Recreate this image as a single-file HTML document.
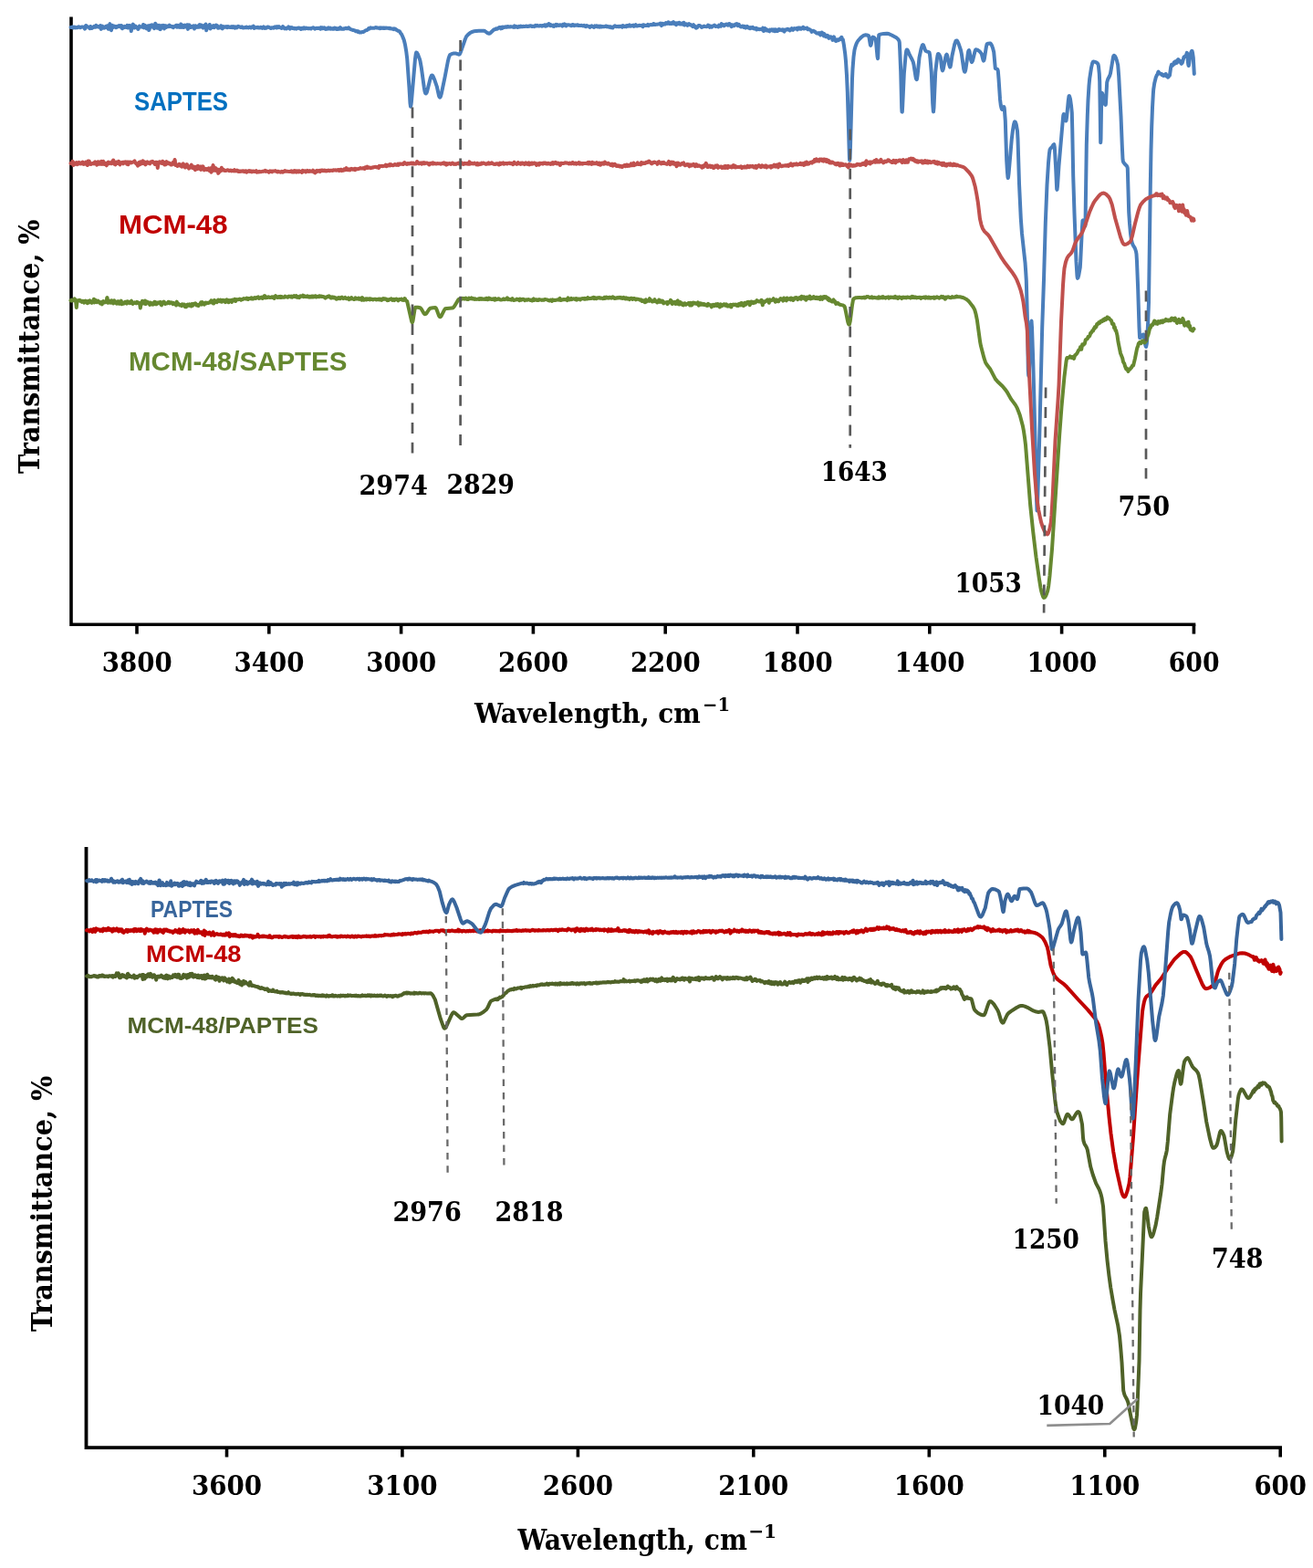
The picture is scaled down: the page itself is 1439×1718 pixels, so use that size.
<!DOCTYPE html>
<html><head><meta charset="utf-8"><title>FTIR spectra</title>
<style>html,body{margin:0;padding:0;background:#fff;}body{width:1439px;height:1718px;overflow:hidden;}svg{display:block;}</style>
</head><body>
<svg width="1439" height="1718" viewBox="0 0 1439 1718">
<g stroke="#000" fill="none" stroke-linecap="butt"><path d="M78,18.5 V684.3 H1310.3" stroke-width="3.6"/><line x1="150.0" y1="684.3" x2="150.0" y2="694.6" stroke-width="3.6"/><line x1="294.8" y1="684.3" x2="294.8" y2="694.6" stroke-width="3.6"/><line x1="439.6" y1="684.3" x2="439.6" y2="694.6" stroke-width="3.6"/><line x1="584.4" y1="684.3" x2="584.4" y2="694.6" stroke-width="3.6"/><line x1="729.2" y1="684.3" x2="729.2" y2="694.6" stroke-width="3.6"/><line x1="874.0" y1="684.3" x2="874.0" y2="694.6" stroke-width="3.6"/><line x1="1018.8" y1="684.3" x2="1018.8" y2="694.6" stroke-width="3.6"/><line x1="1163.6" y1="684.3" x2="1163.6" y2="694.6" stroke-width="3.6"/><line x1="1308.4" y1="684.3" x2="1308.4" y2="694.6" stroke-width="3.6"/><path d="M94.5,928 V1586.2 H1405" stroke-width="3.8"/><line x1="248.5" y1="1586.2" x2="248.5" y2="1596.5" stroke-width="3.6"/><line x1="440.9" y1="1586.2" x2="440.9" y2="1596.5" stroke-width="3.6"/><line x1="633.4" y1="1586.2" x2="633.4" y2="1596.5" stroke-width="3.6"/><line x1="825.8" y1="1586.2" x2="825.8" y2="1596.5" stroke-width="3.6"/><line x1="1018.3" y1="1586.2" x2="1018.3" y2="1596.5" stroke-width="3.6"/><line x1="1210.8" y1="1586.2" x2="1210.8" y2="1596.5" stroke-width="3.6"/><line x1="1403.2" y1="1586.2" x2="1403.2" y2="1596.5" stroke-width="3.6"/></g>
<g fill="none" stroke-width="4" stroke-linejoin="round" stroke-linecap="round"><path d="M77.5,30.0 78.8,30.1 79.5,29.4 80.2,30.5 81.0,30.3 81.8,29.6 82.5,30.4 83.0,30.5 84.5,29.9 85.2,30.2 86.0,29.4 86.5,29.7 87.2,29.6 88.0,30.3 90.0,29.4 91.5,29.8 92.2,29.8 92.8,31.3 93.0,31.6 93.5,30.7 94.2,28.1 94.5,28.1 95.0,28.5 95.8,29.6 96.5,29.5 97.0,29.9 97.8,29.9 98.5,31.2 99.2,29.0 100.0,29.7 100.5,30.9 100.8,30.9 101.2,30.2 102.0,30.2 103.2,28.7 103.5,28.7 104.0,29.6 104.2,29.8 104.8,29.8 105.5,27.8 106.2,29.2 107.0,29.5 107.5,29.1 107.8,29.1 108.2,29.6 108.8,29.8 110.0,28.0 110.2,28.6 110.8,31.9 111.0,31.6 111.5,29.8 112.2,28.7 113.0,29.8 113.5,29.4 113.8,29.7 114.2,30.7 115.0,29.6 115.8,29.5 116.2,28.8 116.5,28.8 117.0,30.0 117.2,29.8 117.8,28.2 118.5,31.7 119.0,31.8 119.2,31.5 120.0,27.2 120.5,26.2 122.0,33.2 122.8,28.1 123.2,27.8 123.5,28.1 124.0,30.0 124.2,29.9 124.8,28.5 125.0,28.4 126.2,29.1 126.8,30.0 127.0,30.1 127.5,29.1 127.8,29.1 128.2,29.8 129.8,28.3 130.2,28.9 130.5,28.9 131.0,28.2 131.8,29.4 132.5,27.9 133.0,27.9 133.2,28.2 133.8,30.8 134.0,31.3 134.8,29.4 135.2,29.4 136.0,30.2 136.8,28.9 137.5,29.3 138.0,29.9 138.8,29.9 139.5,27.8 140.2,30.5 141.0,28.5 141.5,28.0 142.2,28.1 143.0,28.9 143.8,34.1 144.5,28.0 145.0,29.4 145.2,29.0 145.8,26.6 146.5,29.4 147.2,30.6 148.0,29.0 148.5,28.6 150.0,30.4 150.8,30.5 151.2,31.9 151.5,31.9 152.0,30.1 152.8,28.6 153.5,29.2 155.0,29.5 155.8,29.4 156.2,29.6 157.0,27.0 157.8,30.4 158.5,28.4 159.0,27.8 159.8,30.1 160.5,31.3 161.2,30.1 162.0,29.4 162.5,28.2 163.2,33.1 163.5,32.7 164.8,27.7 165.5,28.4 166.0,29.3 166.8,27.3 167.5,29.6 168.2,28.9 169.0,31.1 169.5,30.8 170.2,25.8 171.0,29.4 171.8,27.3 172.5,30.8 173.0,29.8 173.2,29.7 173.8,30.1 174.5,27.8 175.2,32.0 175.8,32.2 176.0,31.6 176.5,28.4 176.8,28.2 177.2,29.7 178.0,28.3 178.8,29.2 179.2,27.9 179.5,28.1 180.0,31.4 180.2,31.1 180.8,28.2 181.0,28.0 181.5,28.4 182.2,29.9 183.0,28.5 183.5,28.9 184.2,28.5 185.0,29.1 185.8,27.7 186.5,28.7 187.0,29.0 187.8,28.8 188.5,29.4 189.2,29.0 189.8,30.1 190.0,30.2 190.5,29.1 190.8,28.9 191.2,29.1 192.0,28.3 192.8,28.5 193.2,27.7 193.5,27.8 194.0,29.7 194.2,29.5 194.8,27.8 195.0,27.8 195.5,28.2 196.2,29.8 196.8,29.9 197.5,28.9 198.2,26.5 199.0,29.9 199.8,29.5 200.2,27.8 200.5,27.7 201.0,30.0 201.2,30.0 201.8,28.4 202.5,27.7 203.2,29.4 204.0,29.1 204.5,29.5 205.2,27.2 206.0,31.9 206.8,28.3 207.2,27.4 207.5,27.5 208.0,29.8 208.2,29.9 208.8,28.9 209.5,29.8 210.2,28.9 211.5,29.6 212.2,28.3 213.0,31.5 213.8,28.6 214.2,28.2 214.5,28.3 215.0,29.3 215.8,29.9 217.2,28.3 217.8,29.8 218.0,29.8 218.5,27.3 218.8,27.0 220.0,29.4 220.8,27.5 221.5,29.4 222.0,29.3 222.8,30.6 223.5,28.1 224.2,28.6 224.8,29.6 225.0,29.3 225.5,26.4 225.8,27.6 226.2,33.3 227.0,28.4 227.8,28.5 228.2,30.2 228.5,30.5 229.0,29.5 229.8,27.0 230.5,31.4 231.2,30.5 232.0,28.8 232.5,28.6 233.2,30.0 234.0,28.1 234.8,30.1 235.5,29.6 236.8,27.5 237.5,29.2 238.0,28.5 238.2,28.4 239.0,30.8 239.5,29.9 239.8,29.9 240.2,30.5 241.0,29.8 241.5,30.2 242.2,28.2 242.5,28.4 243.0,30.7 243.2,31.1 243.5,31.0 243.8,31.3 244.2,30.5 244.5,29.4 245.0,29.0 245.2,29.5 245.8,29.8 247.0,29.7 247.8,29.0 248.5,29.4 249.0,30.2 249.2,30.1 249.8,29.1 250.5,29.2 252.0,29.9 252.5,29.8 253.2,30.0 254.0,29.2 254.8,30.1 255.5,29.8 256.0,29.1 256.2,29.3 256.8,30.3 257.5,30.7 258.2,29.4 259.5,30.3 260.2,29.2 261.0,28.8 262.2,29.4 263.0,29.5 263.8,30.0 264.5,29.9 265.2,29.3 266.5,30.6 268.0,30.3 268.8,29.9 269.5,30.2 270.0,29.6 270.2,29.6 270.8,30.2 271.5,29.9 272.2,30.4 273.0,30.0 273.5,29.6 273.8,29.6 275.0,30.5 275.8,29.5 276.5,29.7 277.0,29.7 277.8,28.6 278.5,31.0 280.5,30.2 281.2,30.1 282.0,30.2 282.8,29.8 283.5,30.5 284.8,30.6 285.5,29.9 286.2,30.2 286.8,30.1 287.5,30.9 287.8,30.8 289.0,29.4 289.8,30.5 290.5,31.0 291.0,30.6 291.8,30.7 292.5,30.3 293.2,29.4 294.5,29.7 296.8,31.0 297.5,30.3 298.0,30.7 299.5,30.1 300.2,30.7 301.5,29.3 303.0,30.5 303.8,29.2 304.5,30.3 305.0,30.3 305.8,29.2 307.0,30.2 308.0,30.4 308.5,31.0 308.8,31.0 309.2,30.7 310.0,29.0 310.8,30.2 312.0,31.4 312.8,30.8 313.5,30.8 314.2,31.4 315.0,30.6 315.5,30.5 316.2,29.4 317.8,31.6 318.5,30.2 319.0,30.6 319.8,30.1 321.0,31.1 321.2,31.1 322.0,30.8 322.5,31.4 322.8,31.4 324.0,31.0 324.8,31.6 326.2,30.7 327.5,30.5 328.2,31.1 328.8,30.8 329.0,30.9 329.5,31.9 329.8,32.0 330.2,31.8 331.0,30.8 331.8,30.9 332.2,31.5 332.5,31.5 333.0,30.3 333.2,30.2 334.5,31.4 335.2,30.6 336.0,30.8 336.5,30.7 337.2,31.3 338.0,31.1 339.5,31.3 340.0,31.1 340.8,31.5 341.5,30.8 343.0,30.3 343.8,30.5 345.0,31.6 347.0,30.7 348.5,31.0 350.0,30.6 351.2,31.6 352.0,30.2 352.8,31.1 353.2,30.5 353.5,30.4 354.0,31.2 354.2,31.2 355.5,30.3 356.8,31.9 357.0,32.0 357.5,31.4 358.2,31.8 358.5,31.6 359.8,30.4 360.5,31.5 361.8,30.7 362.5,31.7 363.8,31.2 364.0,31.2 364.5,31.6 365.2,31.0 366.0,31.6 366.8,30.5 367.5,31.5 368.0,30.9 368.8,31.9 369.5,31.5 370.2,31.9 371.0,31.0 371.5,31.1 372.2,31.7 373.0,30.2 374.5,31.8 375.0,31.7 375.8,31.8 376.5,31.3 377.2,31.7 378.0,31.1 379.2,30.7 380.0,31.3 381.2,31.3 382.0,30.3 382.2,30.3 383.5,31.7 384.2,32.2 385.0,32.2 387.0,33.1 387.8,32.9 388.5,33.5 389.2,33.4 390.0,34.3 391.2,34.1 392.0,34.9 392.8,34.4 394.0,35.5 394.8,35.2 395.5,35.6 396.8,35.1 398.5,34.9 401.0,33.2 401.8,33.1 403.0,32.5 404.0,31.2 404.5,31.5 404.8,31.5 406.0,30.3 407.2,30.7 410.0,30.8 411.8,30.0 413.0,30.6 413.8,30.4 414.5,30.8 415.8,30.6 416.5,31.2 417.2,30.4 418.0,30.9 419.2,30.5 420.0,30.9 420.8,30.6 421.5,31.0 422.0,30.5 422.8,30.8 423.5,30.6 424.2,30.8 425.5,30.7 426.2,31.2 427.0,30.7 427.8,30.9 428.5,31.5 430.5,31.4 431.2,32.1 432.0,31.3 433.2,31.7 434.0,32.6 434.8,32.8 436.0,33.7 437.5,34.1 438.2,34.7 439.0,36.2 440.2,37.7 441.2,40.0 442.8,44.1 444.0,49.0 445.2,56.1 446.2,64.2 448.5,96.3 449.5,113.2 450.0,116.7 450.5,115.0 451.0,110.7 455.0,64.5 455.8,58.9 456.2,57.5 457.0,57.9 458.0,59.6 460.0,65.0 460.5,66.8 461.8,74.1 464.8,96.0 465.5,99.8 466.2,102.1 466.5,102.4 467.0,102.4 467.5,101.7 468.0,100.5 471.8,85.3 472.8,82.9 473.0,82.6 473.5,82.5 474.0,82.8 474.8,83.9 476.5,88.1 478.8,94.8 481.0,104.8 481.5,106.2 482.0,106.7 482.2,106.6 482.8,105.9 483.8,102.6 487.8,83.4 490.8,67.5 491.8,63.4 492.8,60.7 493.2,60.0 494.8,59.2 497.5,58.4 499.2,58.4 502.8,59.7 503.5,59.6 503.8,59.4 504.8,57.4 509.8,43.0 511.2,39.8 513.0,37.9 515.2,36.1 517.2,35.0 519.2,34.3 524.8,33.8 530.2,33.7 531.5,34.2 534.5,36.3 536.0,36.7 536.8,36.5 537.8,35.8 541.5,32.3 542.8,32.3 543.5,31.4 544.0,31.3 545.0,31.8 545.5,31.2 547.0,30.0 548.2,30.1 549.0,31.3 549.2,31.1 549.8,29.9 550.5,30.8 551.2,29.5 552.5,30.1 554.0,29.3 555.2,29.8 556.0,28.9 556.2,28.9 556.8,29.4 558.2,29.3 559.0,29.6 559.8,29.1 561.8,29.6 562.5,29.3 563.0,29.8 563.8,28.4 564.5,29.7 565.2,28.8 566.5,29.2 567.2,30.0 568.8,28.9 569.5,29.5 570.0,29.0 570.8,28.6 571.5,29.2 572.2,29.0 572.8,29.3 573.0,29.2 573.5,28.8 575.0,29.1 577.0,28.5 577.8,29.1 578.5,28.8 579.2,28.9 580.0,28.6 580.5,28.7 581.2,28.2 582.8,28.9 583.2,28.7 584.0,28.9 584.8,28.7 585.5,29.1 586.8,27.8 587.0,27.8 587.5,28.5 587.8,28.5 589.0,27.9 589.8,28.6 591.0,28.5 591.8,28.1 593.2,28.3 593.8,28.8 594.0,28.8 594.5,28.0 594.8,27.9 596.0,28.2 596.8,27.3 597.2,27.3 597.5,27.5 598.0,28.7 598.2,28.6 598.8,27.3 599.5,28.2 600.2,27.1 600.8,27.4 601.0,27.3 601.5,26.1 601.8,26.2 602.2,27.3 603.0,28.2 603.8,27.2 604.2,27.9 604.5,28.0 605.0,27.9 605.8,28.6 606.5,27.5 607.2,28.9 609.2,26.9 610.0,28.3 610.8,27.0 612.0,27.9 612.8,28.1 613.5,27.2 614.2,27.5 615.0,27.5 616.2,28.6 617.0,26.7 617.8,27.8 618.2,26.6 618.5,26.4 619.0,27.3 619.2,27.4 619.8,27.0 620.5,28.4 621.2,27.6 622.0,27.2 623.2,27.3 624.0,27.6 624.8,27.5 626.0,28.2 626.8,28.0 627.5,27.1 628.2,27.0 629.5,28.1 630.2,27.6 631.0,27.5 631.8,27.8 632.5,27.2 633.0,27.3 633.8,28.1 635.0,27.8 636.0,28.1 636.5,27.9 637.2,27.8 638.0,27.9 638.8,28.5 640.2,27.8 641.5,29.0 642.0,29.2 642.2,29.2 643.0,28.0 643.5,28.5 644.2,28.4 645.0,28.9 645.8,28.9 646.2,29.8 646.5,29.9 647.2,28.8 648.5,28.2 649.2,29.0 650.0,29.2 650.5,29.8 650.8,29.9 651.2,29.7 652.0,28.4 652.8,29.1 653.5,28.4 654.0,28.3 654.8,29.3 655.0,29.4 655.5,29.3 656.2,28.7 656.8,29.6 657.0,29.7 657.8,28.7 658.2,28.6 659.0,29.5 660.5,29.1 661.8,29.3 663.0,29.1 664.0,28.4 664.5,28.6 665.2,29.4 666.0,28.9 667.2,29.7 668.2,29.1 668.8,29.2 669.5,30.1 670.2,29.5 671.5,30.5 672.2,29.5 673.8,28.2 675.2,29.2 676.5,28.9 677.2,29.2 678.0,28.7 678.5,29.3 678.8,29.3 679.5,28.8 681.2,28.7 682.0,29.7 682.2,29.4 682.8,28.1 684.2,29.2 685.5,28.5 686.2,29.3 687.0,28.0 687.8,28.0 688.2,28.8 688.5,28.8 689.0,27.9 689.8,27.3 690.5,28.7 691.8,28.6 692.5,28.1 693.2,28.3 694.0,27.7 694.8,28.9 695.5,28.4 696.0,28.4 696.8,27.2 697.5,28.4 698.2,28.6 701.0,27.7 701.8,28.1 703.8,27.6 704.5,29.3 705.2,27.2 706.0,27.6 706.5,27.4 707.2,28.0 708.0,28.1 709.2,27.8 710.0,26.9 710.2,27.1 710.8,28.2 711.5,27.5 712.2,27.2 713.5,27.0 714.2,27.3 715.0,27.2 715.8,26.8 716.2,26.0 716.5,26.0 717.2,26.9 718.5,27.0 719.2,26.7 720.0,26.8 720.8,26.5 722.8,26.4 723.5,25.7 724.0,25.5 724.2,25.6 725.0,28.1 726.2,25.8 727.8,26.6 728.5,26.0 729.0,26.5 729.8,25.1 730.5,25.7 731.2,25.9 731.8,25.7 732.5,24.3 732.8,24.5 733.2,25.8 733.5,25.9 734.8,26.1 735.2,25.3 735.5,25.2 736.2,26.0 736.8,25.9 737.5,24.4 738.0,24.1 738.2,24.2 739.0,25.9 739.5,25.1 739.8,25.2 740.2,26.3 741.0,27.2 741.8,25.2 742.5,25.2 743.8,26.1 744.5,24.8 745.2,26.6 746.5,26.3 747.2,25.5 748.0,26.6 748.5,26.7 748.8,26.5 749.2,24.7 749.5,24.7 750.0,27.3 750.2,27.5 750.8,26.3 751.5,26.8 752.2,26.4 753.5,27.8 754.2,26.7 755.0,26.1 755.8,27.1 756.5,26.8 757.8,27.9 758.5,28.1 759.2,29.1 759.8,27.3 760.0,27.1 760.5,28.5 760.8,28.7 761.2,28.4 762.0,29.8 762.8,30.7 763.2,29.6 763.5,29.4 764.0,30.2 764.2,30.0 764.8,28.8 765.5,28.0 766.2,28.2 767.0,28.1 768.2,29.0 769.0,30.0 770.2,29.5 771.0,28.9 771.8,28.6 772.5,29.1 774.8,29.2 775.2,28.9 776.0,27.5 776.8,28.0 777.2,28.2 778.0,29.8 778.2,29.7 778.8,28.5 780.2,29.7 781.5,28.3 782.2,28.3 783.0,27.7 784.2,29.0 784.5,29.1 785.2,28.7 786.5,28.7 787.2,29.5 788.0,27.7 790.0,28.8 790.8,26.1 791.5,27.4 792.0,27.6 792.8,27.0 793.5,28.3 794.8,27.4 795.8,26.4 797.0,26.7 797.8,27.7 798.5,26.4 799.0,25.9 799.2,25.9 800.5,26.9 801.2,28.6 801.8,29.1 802.0,28.9 802.5,27.3 802.8,27.2 803.5,28.1 804.0,28.4 804.5,28.3 804.8,28.2 806.0,26.5 806.8,27.1 807.5,26.2 808.2,27.9 808.8,28.2 809.0,28.1 809.5,26.8 809.8,26.8 810.2,27.9 811.0,28.4 811.8,29.3 812.5,29.5 813.0,29.3 813.8,28.4 814.0,28.4 814.5,28.7 815.2,29.9 816.0,28.9 816.5,29.3 817.2,30.6 818.8,28.8 820.0,30.4 820.8,30.0 821.5,31.1 822.0,31.2 822.2,31.2 823.0,30.0 824.2,30.6 825.0,29.9 825.8,31.2 826.5,31.0 827.0,31.6 827.2,31.6 827.8,30.9 828.5,30.8 829.2,32.5 830.0,31.4 830.2,31.7 830.8,31.7 832.0,32.2 833.5,32.0 834.8,32.0 835.5,32.8 836.2,30.6 837.0,34.0 838.2,30.9 838.5,30.9 839.0,33.0 839.2,33.1 839.8,32.0 840.5,33.4 841.2,32.9 842.0,33.7 843.2,34.3 844.0,32.5 844.8,33.1 845.2,33.3 845.5,33.2 846.0,32.4 846.2,32.5 846.8,33.7 847.0,33.7 847.5,33.6 848.2,32.4 849.0,34.3 849.5,34.3 850.2,32.3 851.0,33.7 851.8,34.1 852.2,33.9 853.0,32.5 853.8,32.0 854.5,32.9 855.2,32.6 856.0,32.9 856.5,32.8 857.2,33.2 858.0,32.3 858.5,32.5 858.8,32.7 859.2,34.4 859.5,34.6 860.0,32.8 860.2,32.6 860.8,33.0 861.0,32.9 862.2,32.4 862.8,31.7 863.0,31.7 863.5,32.5 863.8,32.5 864.2,32.1 864.5,32.3 865.8,33.5 866.2,32.4 866.5,32.1 867.0,32.4 867.8,31.1 869.2,32.8 870.0,31.5 870.5,31.1 871.2,31.6 873.2,31.0 873.5,31.2 874.0,32.5 874.2,32.2 874.8,30.5 876.2,30.5 876.8,31.5 877.0,31.6 877.5,30.7 877.8,30.8 878.2,31.6 879.0,30.8 879.8,30.5 880.2,29.7 880.5,29.8 881.0,31.3 881.2,31.5 881.8,31.2 884.0,30.8 884.5,30.5 885.2,32.3 886.8,32.0 887.2,32.1 888.0,32.9 888.8,33.1 889.5,34.9 890.2,34.4 891.0,33.7 891.5,33.7 892.2,34.6 893.0,34.4 893.8,35.5 895.0,36.4 895.8,36.5 896.5,36.2 897.2,37.0 898.0,36.2 898.5,36.8 899.2,38.5 900.0,37.6 900.8,35.5 901.5,36.8 902.0,36.7 902.8,39.4 903.5,37.1 905.0,40.1 905.5,39.8 906.2,40.1 907.0,38.9 907.8,40.3 908.2,41.8 908.5,41.9 909.0,40.3 909.2,40.2 909.8,40.6 910.5,40.3 911.8,41.5 912.5,43.9 912.8,43.8 913.2,41.8 914.0,40.4 914.8,43.4 915.5,44.1 916.0,44.9 916.2,45.0 916.8,44.6 917.5,43.4 918.2,44.2 918.8,44.3 920.2,42.6 921.0,43.1 922.2,40.9 922.5,41.0 923.0,42.9 923.2,43.2 923.8,43.2 925.0,49.9 926.2,58.7 927.0,67.0 928.0,82.8 928.8,100.9 930.8,169.3 931.0,174.5 931.2,175.8 931.5,173.3 932.0,160.3 934.0,86.2 934.5,75.5 935.5,62.3 936.5,54.7 937.5,51.0 938.5,48.2 939.5,46.0 940.5,44.5 942.5,42.2 944.5,40.3 946.5,38.9 948.2,38.3 950.2,38.5 952.0,39.1 952.5,41.0 953.8,48.8 954.0,49.6 954.2,49.8 954.8,48.5 956.2,40.9 956.5,40.6 957.5,40.9 958.2,41.4 959.2,42.6 959.8,43.7 960.0,45.4 961.5,61.6 962.0,64.2 962.2,63.2 963.0,42.4 963.2,38.5 963.5,38.2 965.8,37.4 968.5,36.9 972.0,36.8 974.0,37.1 977.2,38.5 982.8,41.6 984.0,42.7 985.0,44.2 985.5,45.2 985.8,46.7 986.2,54.4 987.2,78.6 988.2,118.1 988.5,122.6 988.8,122.7 989.2,116.0 990.8,80.9 992.5,61.3 993.2,56.0 993.8,54.4 994.2,54.4 995.0,55.6 996.8,60.0 999.5,65.0 1000.8,68.0 1001.5,71.1 1003.5,84.0 1004.0,86.2 1004.5,87.2 1004.8,87.1 1005.0,86.3 1005.5,83.0 1007.5,63.2 1009.5,53.6 1010.8,49.7 1011.5,49.0 1012.0,49.4 1013.8,54.3 1014.5,55.8 1015.5,56.3 1017.5,56.9 1018.5,57.5 1019.0,59.8 1019.5,64.2 1020.8,79.5 1022.2,113.6 1022.8,121.3 1023.0,122.4 1023.5,118.0 1025.2,79.3 1026.8,65.5 1027.5,60.8 1028.0,59.2 1028.2,58.9 1028.5,58.9 1029.2,59.6 1030.2,61.4 1030.8,62.9 1032.2,74.8 1032.8,77.1 1033.0,77.3 1033.2,77.0 1033.8,75.7 1036.2,62.9 1037.0,60.3 1037.5,59.7 1037.8,59.9 1038.2,61.1 1040.2,70.9 1040.8,72.7 1041.2,73.5 1041.5,73.3 1042.0,71.3 1043.5,61.0 1046.2,48.5 1047.5,45.0 1048.0,44.5 1048.8,44.6 1049.5,45.5 1050.5,47.6 1053.0,55.0 1053.8,58.8 1056.2,75.6 1057.0,78.4 1057.2,78.7 1057.5,78.8 1058.0,77.6 1058.5,75.2 1060.8,59.0 1061.2,56.4 1061.8,55.2 1062.0,55.1 1062.5,56.4 1064.2,66.2 1064.8,67.9 1065.0,68.1 1065.5,67.6 1066.0,66.4 1068.5,56.3 1069.0,54.9 1069.5,54.3 1071.0,54.6 1072.5,55.4 1074.0,56.8 1075.8,59.0 1077.5,65.8 1078.0,66.6 1078.5,65.8 1079.0,63.5 1080.8,51.9 1081.5,48.6 1081.8,48.2 1083.2,47.7 1084.8,47.5 1085.5,47.6 1086.2,48.4 1087.2,50.3 1088.2,53.2 1089.2,56.9 1090.8,74.9 1091.2,75.2 1093.2,75.8 1093.8,77.6 1094.5,86.0 1096.0,108.7 1096.8,115.2 1097.5,118.4 1098.0,119.7 1098.2,120.0 1098.8,119.6 1099.8,117.6 1100.2,117.0 1100.5,117.4 1100.8,119.1 1101.8,132.5 1103.2,175.8 1104.0,188.9 1104.5,194.4 1104.8,195.0 1105.0,194.3 1105.5,190.5 1108.8,152.2 1110.0,142.6 1111.0,136.6 1111.8,133.8 1112.2,133.3 1112.8,133.7 1113.8,136.5 1115.0,143.3 1115.5,152.3 1117.0,201.3 1118.8,239.3 1120.0,255.9 1123.5,287.7 1124.2,297.5 1124.8,307.4 1126.0,351.3 1126.8,405.8 1127.2,411.2 1127.5,412.0 1127.8,410.4 1130.0,355.4 1130.2,352.1 1130.5,351.7 1131.0,358.9 1132.2,393.9 1135.0,500.0 1136.0,546.4 1136.5,559.5 1136.8,559.2 1137.0,554.6 1139.0,487.7 1142.2,358.6 1144.0,306.6 1145.8,244.3 1147.5,202.3 1149.0,178.7 1149.8,169.6 1150.5,164.2 1151.2,162.8 1152.8,161.3 1154.5,158.6 1155.2,158.1 1155.8,161.3 1156.2,168.2 1157.2,185.4 1158.0,203.5 1158.2,207.2 1158.5,207.8 1159.0,203.9 1160.5,181.4 1165.2,127.1 1165.5,125.7 1165.8,125.0 1166.0,125.1 1166.5,126.4 1167.8,131.6 1168.2,132.5 1168.5,132.2 1169.2,127.3 1170.8,110.2 1171.5,105.3 1171.8,105.0 1172.2,105.7 1173.0,108.6 1174.0,115.8 1174.8,123.7 1175.2,140.2 1176.2,192.9 1177.5,233.8 1179.5,286.7 1180.5,302.5 1180.8,304.5 1181.0,304.8 1181.5,304.2 1182.2,301.8 1183.8,293.0 1184.2,285.9 1186.0,248.7 1186.5,241.6 1186.8,241.4 1187.2,242.2 1189.0,247.4 1189.2,247.7 1189.5,246.4 1190.8,158.8 1191.8,126.8 1192.5,109.5 1193.5,93.6 1194.2,86.3 1196.0,74.4 1197.2,69.1 1197.8,67.9 1198.2,67.5 1200.5,67.9 1201.8,68.6 1202.8,69.4 1203.5,70.4 1204.0,72.9 1204.8,80.9 1205.2,89.1 1206.2,156.3 1206.5,152.6 1207.2,107.9 1207.5,101.7 1208.0,102.2 1208.5,103.6 1210.8,113.3 1211.2,114.6 1211.5,114.9 1211.8,114.9 1212.0,112.9 1213.2,90.3 1214.2,86.8 1216.2,83.0 1217.0,80.5 1220.0,62.5 1220.5,61.1 1220.8,60.8 1221.2,60.9 1221.8,61.3 1222.8,63.0 1224.0,66.4 1225.2,71.4 1226.2,83.6 1228.5,127.4 1229.8,160.1 1230.5,174.5 1230.8,176.5 1231.2,177.7 1233.0,180.0 1234.8,181.7 1235.5,183.1 1235.8,184.5 1237.2,232.5 1238.0,244.7 1239.0,255.7 1239.8,261.6 1240.8,266.3 1241.8,268.7 1243.5,271.4 1244.2,273.0 1245.0,275.5 1245.5,278.3 1246.0,286.3 1247.2,316.9 1248.5,358.6 1249.0,369.1 1249.2,370.2 1249.8,370.0 1252.2,366.8 1252.8,366.4 1253.2,366.4 1254.0,369.4 1255.2,377.7 1255.8,379.7 1256.0,380.0 1256.2,379.6 1256.8,376.7 1257.5,367.2 1258.2,352.1 1259.0,331.1 1260.8,202.7 1261.5,164.2 1262.2,138.9 1263.0,118.1 1263.8,103.4 1264.2,97.9 1265.2,91.3 1266.8,84.8 1267.8,82.4 1268.8,81.2 1269.2,79.1 1269.5,78.7 1270.0,79.8 1271.0,80.1 1271.5,80.7 1272.2,81.1 1272.8,81.0 1273.5,82.2 1273.8,82.2 1274.2,81.7 1275.0,83.0 1276.2,82.8 1277.0,81.5 1277.8,81.0 1278.5,83.5 1279.0,82.9 1279.2,82.9 1280.0,84.7 1280.5,84.3 1281.2,82.8 1281.5,83.0 1281.8,82.9 1282.0,82.3 1283.2,73.6 1284.0,70.8 1284.2,70.8 1284.8,72.0 1285.5,70.8 1286.0,70.8 1286.2,70.6 1286.8,68.4 1287.0,68.1 1287.5,69.8 1287.8,69.5 1288.2,67.2 1288.5,67.3 1289.5,68.9 1289.8,68.9 1290.5,65.8 1291.2,65.1 1291.8,65.3 1292.5,67.5 1293.2,67.8 1293.8,66.9 1294.0,67.1 1294.5,69.5 1294.8,69.8 1295.8,68.7 1296.0,68.0 1297.5,62.5 1298.0,62.6 1298.8,61.6 1299.5,62.0 1300.8,57.9 1301.0,58.0 1302.2,70.1 1302.5,71.6 1302.8,72.0 1303.2,69.7 1304.5,60.0 1305.5,57.0 1306.2,55.8 1306.5,55.9 1307.0,57.7 1307.8,63.4 1308.8,81.0" stroke="#4a7ebb"/><path d="M77.5,179.0 78.8,178.7 79.5,176.9 80.2,181.0 80.5,181.0 81.0,180.4 81.8,178.6 82.5,179.8 83.8,178.2 84.5,180.1 85.2,178.5 86.0,178.3 86.5,177.9 87.2,179.3 88.0,178.7 88.8,179.4 89.2,178.3 89.5,178.1 90.0,178.8 90.2,178.7 90.8,177.7 91.5,179.9 92.2,179.0 93.0,179.6 93.5,179.3 94.2,177.5 95.5,180.9 95.8,181.0 96.5,176.5 97.0,176.4 97.8,176.7 98.5,179.7 99.2,178.9 100.0,180.0 101.2,178.9 102.0,179.0 102.8,178.5 103.2,179.4 103.5,179.3 104.0,177.5 104.2,177.3 105.5,178.9 106.2,180.7 107.0,177.5 107.5,177.2 108.2,177.7 109.0,179.8 109.8,178.4 110.2,179.8 110.5,179.6 111.0,176.7 111.2,176.9 111.8,179.7 112.0,179.9 112.5,179.8 113.2,176.8 114.5,179.9 114.8,179.7 115.2,178.7 116.0,179.8 116.8,181.3 117.5,178.7 118.8,177.5 119.5,179.3 120.2,178.2 121.5,178.3 122.2,179.2 123.0,177.0 123.8,176.3 124.2,175.5 124.5,175.9 125.0,179.3 125.2,179.7 125.8,178.6 126.5,180.4 127.2,178.3 127.8,177.6 128.0,177.7 128.5,178.8 128.8,178.9 129.2,178.4 130.0,176.8 130.8,177.5 131.2,180.0 131.5,180.4 132.0,179.1 132.2,178.9 132.8,178.9 134.0,177.7 134.2,177.7 134.8,179.1 135.0,179.4 136.2,177.5 137.0,178.2 137.8,177.3 139.0,179.7 139.8,177.5 140.5,180.3 141.2,177.6 141.8,178.4 142.0,178.4 142.5,177.5 142.8,177.5 143.2,178.1 144.0,178.5 145.2,177.6 146.8,177.3 147.5,176.4 148.2,178.1 149.0,179.0 149.5,179.5 150.2,179.3 151.0,181.6 151.8,178.7 152.2,178.0 152.5,178.2 153.0,180.4 153.2,180.0 153.8,177.3 154.5,179.7 155.2,177.3 155.8,178.5 156.0,178.4 156.5,176.3 156.8,176.6 157.2,179.3 157.5,179.2 158.5,177.4 158.8,177.4 159.5,180.4 161.5,177.4 162.2,178.3 162.8,178.2 163.0,178.4 163.5,179.2 164.2,179.4 165.0,177.5 166.2,177.7 167.0,176.8 167.2,176.9 168.5,178.3 169.8,179.9 170.0,179.7 170.5,177.7 170.8,177.9 171.2,179.8 172.0,177.8 172.8,183.9 173.5,178.4 174.0,179.0 174.8,177.3 175.5,177.4 176.2,178.6 176.8,178.1 177.0,178.1 177.5,178.8 178.2,176.7 179.0,179.4 179.8,177.7 180.2,180.2 180.5,180.5 181.0,178.7 181.2,178.8 181.8,180.1 182.5,177.1 183.2,179.4 184.0,178.0 185.2,179.2 186.0,178.9 187.2,180.4 188.0,180.5 188.8,179.7 189.5,178.1 190.8,179.7 191.0,179.0 191.5,175.0 191.8,175.7 192.2,180.8 192.5,181.0 193.0,180.2 193.5,180.2 193.8,180.4 194.5,181.9 195.8,181.3 196.5,179.8 197.2,181.6 197.8,181.7 198.0,181.5 198.5,180.5 198.8,180.8 199.2,182.7 199.5,182.7 200.0,182.3 200.8,179.4 201.2,181.4 201.5,181.8 202.0,180.6 202.2,181.0 202.8,183.3 203.0,183.5 203.5,183.2 204.2,180.8 204.8,180.0 205.0,180.2 205.5,182.2 205.8,182.5 206.2,182.2 207.0,184.6 208.2,182.7 208.5,182.6 209.0,183.5 209.8,180.6 210.5,183.5 211.2,184.2 212.0,183.0 212.5,182.5 213.2,184.9 214.0,186.1 215.2,182.7 215.5,182.8 216.0,185.3 216.2,184.8 216.8,181.8 217.5,184.7 218.2,183.5 218.8,185.0 219.0,185.0 219.5,182.4 219.8,182.8 220.2,185.9 220.5,185.8 221.0,184.9 221.8,182.4 222.2,182.2 222.5,182.5 223.8,186.4 224.5,185.1 225.2,185.1 225.8,184.9 226.0,185.0 226.5,186.0 226.8,186.1 227.2,185.8 228.0,185.7 228.8,184.4 229.5,187.1 230.0,187.3 230.8,184.2 231.5,188.7 232.8,185.5 233.5,181.1 233.8,181.8 234.2,186.3 234.5,186.7 235.0,186.7 236.2,184.0 236.5,184.3 237.0,187.0 237.2,187.1 237.8,185.5 238.5,185.6 239.2,189.9 240.0,188.8 241.2,185.9 242.0,187.3 242.8,183.7 243.5,186.5 244.0,185.9 245.0,185.7 245.2,186.6 246.5,187.0 247.8,186.9 249.2,186.3 250.0,186.5 250.5,186.4 251.2,187.3 252.8,186.5 253.5,187.3 254.2,186.8 256.2,187.4 257.0,186.2 258.2,187.5 259.0,187.2 259.8,186.5 261.0,188.0 261.2,188.0 261.8,187.3 262.5,187.9 263.0,187.9 264.0,187.4 264.8,187.8 265.2,187.5 266.5,187.2 266.8,187.2 267.5,188.1 268.0,187.6 269.5,187.2 270.2,188.7 273.0,187.1 273.8,188.0 274.5,187.9 275.0,187.3 275.8,188.4 276.0,188.4 276.5,188.3 277.2,187.4 279.2,188.0 280.0,187.8 280.8,187.2 281.5,188.6 282.0,188.1 282.8,188.5 283.5,188.5 284.2,187.8 285.5,188.2 286.2,188.3 287.5,187.7 288.5,187.9 289.0,187.6 289.8,187.6 290.5,186.9 291.2,187.9 292.0,187.4 294.0,188.1 294.8,188.8 296.0,187.3 296.8,187.9 297.5,187.6 298.2,188.3 299.0,187.6 301.0,187.6 301.8,187.0 303.8,188.5 304.5,187.8 305.0,187.7 306.0,188.2 306.5,188.2 307.2,188.7 308.8,187.9 309.5,188.6 310.0,188.7 310.8,187.7 311.5,188.0 312.2,187.1 313.0,187.7 313.5,187.5 314.2,187.8 315.0,187.7 317.2,188.1 319.2,187.3 320.0,188.5 320.5,188.6 321.2,187.7 322.0,188.5 322.8,187.1 323.2,187.1 324.0,187.7 324.8,188.6 325.5,187.4 326.2,187.6 326.8,188.4 327.0,188.4 327.5,187.2 327.8,187.2 328.2,188.1 328.5,188.2 329.8,187.8 330.2,187.9 331.0,189.0 331.8,186.8 332.5,187.7 333.2,187.7 334.5,187.2 335.2,188.5 336.0,187.9 336.8,186.9 338.2,187.9 338.8,187.9 339.5,187.0 340.2,187.6 342.2,187.8 343.0,186.7 343.8,188.4 344.2,187.8 344.5,187.9 345.0,189.2 345.2,189.4 345.8,188.9 346.5,187.4 347.2,186.9 348.0,187.8 348.5,187.4 350.0,186.8 350.8,188.1 351.5,187.0 352.0,186.6 352.8,186.9 353.5,186.6 354.2,187.2 355.5,186.6 356.2,187.3 357.0,186.7 357.8,187.4 358.2,187.5 359.0,186.9 359.8,186.6 361.2,187.3 362.0,186.8 363.2,186.7 364.8,186.9 365.5,186.3 366.8,186.6 367.5,186.2 368.2,186.7 369.0,186.7 371.0,186.0 371.8,187.2 373.2,185.7 373.8,185.8 374.5,187.1 375.2,186.9 376.0,186.3 376.5,186.6 377.2,185.4 378.0,186.0 378.5,186.2 378.8,186.1 379.2,184.4 379.5,184.1 380.2,185.6 380.8,186.1 381.5,186.3 382.2,185.4 383.5,186.3 384.2,185.2 385.0,184.8 385.8,185.4 386.5,185.3 387.0,185.8 387.2,185.8 388.5,184.8 389.2,186.2 390.0,184.9 390.5,185.2 391.2,185.3 392.0,185.3 392.8,184.9 393.5,185.0 394.8,184.0 395.5,184.5 397.5,184.5 398.2,184.1 399.0,184.9 399.5,185.0 399.8,184.9 400.5,183.2 401.0,183.9 401.2,184.0 401.8,183.7 402.5,182.6 403.2,184.0 404.0,183.5 405.2,183.4 406.0,184.2 406.8,184.1 407.5,183.6 408.0,183.7 408.8,183.3 409.5,183.4 410.2,182.9 411.0,183.1 411.5,182.8 413.0,183.4 413.8,183.1 415.0,184.0 415.8,181.8 416.5,182.6 417.2,182.2 418.0,182.1 418.5,181.7 419.2,182.2 419.5,182.2 420.8,181.8 421.5,181.8 422.0,181.6 422.8,180.7 423.5,182.2 424.8,181.1 425.0,181.1 425.5,181.5 425.8,181.4 427.0,180.1 427.8,181.4 428.5,180.2 430.5,181.3 431.2,181.1 432.8,180.0 433.2,180.1 434.0,180.7 434.8,180.9 436.0,179.7 436.8,180.9 437.5,179.6 438.8,179.5 439.5,179.8 440.2,179.6 441.8,180.0 442.2,179.6 443.0,178.3 443.2,178.1 443.8,178.3 444.5,179.3 445.2,179.2 445.8,179.9 446.0,180.0 446.8,179.0 447.2,179.0 448.0,179.5 448.8,179.5 449.5,178.9 450.0,179.2 450.8,178.5 451.0,178.5 451.5,178.5 452.2,179.5 452.8,178.6 453.0,178.5 453.8,179.4 455.8,179.5 456.2,179.3 456.5,178.9 457.0,177.0 457.2,177.1 457.8,178.4 458.5,178.7 459.2,179.4 460.0,178.5 461.2,178.8 462.0,179.7 462.8,178.3 463.5,178.5 464.0,179.2 464.2,179.1 464.8,178.1 465.5,179.2 466.8,178.4 467.0,178.4 467.5,178.8 468.2,178.6 469.0,179.2 469.8,179.4 470.2,180.4 470.5,180.5 471.2,179.1 471.8,179.2 472.5,178.8 473.8,179.6 474.0,179.5 474.5,178.4 474.8,178.5 475.2,179.4 476.0,178.9 478.0,179.6 479.5,179.0 480.2,179.3 481.8,179.2 483.0,179.7 483.8,179.3 484.5,179.2 485.0,178.7 485.8,179.1 486.5,178.3 487.2,179.6 487.8,179.0 488.0,178.9 489.2,180.7 490.0,179.1 490.8,179.9 492.0,179.1 492.8,178.9 493.5,179.6 494.2,179.9 495.8,178.6 497.0,179.2 497.8,179.9 498.5,179.4 499.0,179.5 499.8,179.9 500.5,179.2 501.8,179.2 502.5,178.5 503.2,179.5 504.5,179.7 504.8,179.7 505.5,178.1 506.8,179.7 507.5,179.5 508.2,179.9 509.0,178.9 509.5,179.3 510.2,179.0 511.0,179.5 511.8,179.1 512.5,179.6 513.2,179.8 513.8,179.6 514.5,177.3 515.2,179.7 516.0,179.4 516.8,178.8 517.2,178.8 518.8,179.5 520.0,178.6 520.8,179.4 521.5,179.4 522.2,180.4 522.8,179.0 523.0,178.9 523.5,180.3 523.8,180.5 525.0,179.4 525.8,180.1 526.5,179.4 527.0,179.7 527.8,178.6 528.5,179.3 529.2,178.7 530.0,178.6 530.5,179.0 531.2,179.0 532.0,179.6 532.8,179.9 533.5,179.2 534.8,179.4 535.5,178.4 536.2,179.4 537.5,179.2 539.0,178.3 539.8,179.1 541.0,179.8 542.5,180.0 543.2,179.5 544.0,179.7 544.5,179.2 544.8,179.2 546.0,179.7 546.8,180.5 548.0,178.7 548.8,179.8 549.5,178.8 550.2,179.2 550.8,179.1 551.5,178.4 552.2,179.8 553.0,179.5 553.8,178.9 554.5,179.2 555.0,179.0 555.8,179.5 556.5,179.0 558.0,178.6 559.2,179.3 560.0,178.7 561.2,179.4 562.0,180.2 562.2,180.2 562.8,179.7 563.5,177.7 564.2,178.9 565.0,179.0 566.2,179.9 567.0,179.6 567.8,178.1 568.5,179.3 569.8,179.4 570.5,179.9 571.2,178.7 571.8,179.5 572.0,179.5 572.5,178.5 572.8,178.5 573.2,179.1 574.0,179.4 574.8,180.2 575.5,178.7 576.0,178.4 576.8,179.4 577.5,178.8 578.2,179.9 579.0,178.7 579.5,178.3 580.2,180.4 581.0,179.2 581.8,179.6 582.2,178.7 582.5,178.6 583.0,179.7 583.2,179.7 583.8,178.9 584.5,179.5 585.2,178.6 585.8,178.4 587.2,179.2 588.0,180.9 588.8,179.3 590.0,179.5 590.8,180.6 591.5,178.7 592.2,179.7 593.0,179.1 593.5,179.2 594.2,178.9 595.0,179.7 595.8,178.5 596.2,178.5 597.0,178.9 597.8,178.6 598.5,179.5 599.0,179.5 600.0,178.8 600.5,179.4 601.2,178.8 601.5,178.9 602.8,179.2 603.2,179.8 603.5,179.9 604.2,179.0 605.5,178.1 606.2,179.6 607.0,178.3 607.5,178.8 608.2,178.9 609.0,177.8 609.8,178.9 610.5,179.5 611.0,179.4 611.8,178.7 612.5,179.4 613.2,179.5 613.8,180.9 614.0,180.9 614.5,179.1 614.8,178.7 616.0,179.1 617.5,179.1 618.8,178.7 619.5,178.2 620.2,178.7 621.0,178.4 621.5,178.5 623.5,179.4 623.8,179.4 624.5,178.6 625.0,179.1 625.8,179.4 626.5,179.0 627.2,178.2 627.8,178.0 628.8,179.4 629.5,179.4 630.8,178.6 631.5,179.7 632.0,179.6 632.8,179.0 633.5,178.9 634.2,178.2 634.8,179.4 635.0,179.6 635.5,178.4 635.8,178.4 636.2,179.3 637.0,179.4 637.8,179.1 638.2,179.6 638.5,179.7 639.0,179.0 639.2,178.9 640.0,179.1 640.2,179.0 641.5,178.9 643.5,179.3 644.2,178.0 644.8,179.4 645.0,179.5 645.5,177.9 645.8,178.0 646.2,179.3 647.0,178.4 647.8,179.5 648.2,179.8 648.5,179.5 649.0,177.7 649.2,177.8 649.8,179.4 650.0,179.4 651.2,178.6 651.8,179.2 652.0,179.2 652.5,178.7 653.2,179.1 654.0,178.1 654.8,179.7 655.5,180.0 656.0,179.7 656.8,178.5 657.5,180.6 658.0,180.7 658.2,180.6 659.0,178.9 659.5,178.7 660.2,178.6 661.0,179.6 661.8,179.8 663.0,177.5 663.8,179.3 664.5,179.2 665.8,179.8 666.0,179.7 666.5,178.7 666.8,178.8 667.2,179.6 668.0,179.5 669.2,181.0 669.5,181.0 670.8,179.7 671.5,181.7 672.2,181.3 673.0,180.6 673.5,179.7 673.8,179.7 675.0,181.5 675.5,181.9 675.8,181.9 676.2,181.4 676.5,181.3 677.0,182.0 677.2,182.0 677.8,181.4 678.0,181.4 678.5,181.6 679.2,182.5 680.0,181.9 681.2,182.9 682.0,183.1 682.8,181.7 683.5,181.8 684.0,181.1 684.8,180.9 685.5,182.2 686.8,180.5 687.0,180.5 687.5,181.9 687.8,181.9 688.2,180.9 689.8,181.7 690.2,181.6 691.0,181.1 691.8,179.4 692.5,181.3 694.5,178.6 695.2,181.1 696.0,180.2 697.5,180.2 698.0,179.7 698.8,178.3 699.5,179.9 700.2,180.0 701.0,179.6 701.5,180.2 702.2,180.4 703.0,178.0 703.8,178.3 704.5,179.2 705.0,178.7 705.8,178.5 706.5,179.1 707.2,178.8 708.0,177.9 708.5,178.2 709.2,177.6 710.0,178.0 711.2,176.6 711.5,176.7 712.0,177.6 712.2,177.7 712.8,177.7 713.5,178.9 714.2,179.4 715.0,178.3 715.5,178.6 716.2,177.8 717.0,177.5 717.8,178.0 718.5,178.1 719.0,178.5 719.8,178.4 720.5,179.8 721.8,177.3 722.0,177.2 722.5,178.3 722.8,178.4 723.2,178.0 724.8,179.4 725.5,178.1 726.8,179.0 727.5,177.9 728.2,178.9 731.0,179.9 731.8,179.1 733.0,176.9 733.2,177.1 733.8,178.1 734.5,180.3 735.2,179.1 735.8,177.7 736.0,177.5 736.5,178.7 737.2,179.5 738.0,177.8 738.8,179.8 739.2,178.8 739.5,178.7 740.0,180.1 740.2,180.2 740.8,179.6 741.5,182.2 742.2,178.6 742.8,179.6 743.0,179.7 743.5,178.7 743.8,179.0 744.2,180.6 745.0,180.0 745.8,180.7 747.0,179.2 747.2,179.1 747.8,179.5 749.2,178.4 750.0,180.5 750.8,181.2 752.0,180.9 752.8,180.1 753.2,180.8 753.5,180.8 754.0,180.0 754.2,180.1 755.5,182.3 756.2,180.6 757.5,180.5 758.2,181.4 759.8,179.9 760.5,180.7 761.0,180.3 761.8,182.3 763.2,180.2 764.0,181.7 764.5,182.0 765.2,181.8 766.0,181.2 767.5,182.0 768.0,182.5 768.8,182.1 769.5,183.7 770.2,181.8 770.8,182.9 771.0,183.0 772.2,180.7 773.0,181.0 773.8,178.8 775.0,182.8 775.2,182.9 775.8,181.8 776.5,182.8 777.2,181.6 777.8,182.2 778.0,182.2 778.5,181.6 779.2,183.0 780.0,182.2 780.8,182.1 781.2,182.3 782.0,184.1 782.2,184.1 782.8,183.1 783.5,183.3 784.2,181.7 785.5,182.9 786.2,181.3 787.0,183.9 787.8,183.0 790.5,182.5 791.2,184.0 792.0,183.6 792.5,183.9 793.2,182.8 794.0,182.2 794.8,184.0 795.5,182.0 796.0,182.4 796.8,183.5 797.5,183.9 798.2,181.9 799.0,182.8 799.5,183.0 800.2,182.9 801.0,182.3 801.8,183.5 802.5,182.6 803.0,182.7 803.8,181.2 804.5,182.9 805.2,181.5 806.0,183.5 806.5,183.4 807.2,182.6 808.0,183.1 809.2,182.9 810.0,183.2 812.0,182.3 812.2,182.4 812.8,183.9 813.0,184.1 813.8,183.0 814.2,182.9 815.0,183.5 815.8,182.5 816.2,182.5 817.2,183.5 818.0,183.6 818.5,183.4 819.2,181.7 820.0,182.8 820.5,182.8 821.2,183.1 822.0,182.0 822.8,181.9 823.5,182.5 824.0,182.1 824.8,181.8 826.2,183.4 827.0,182.9 827.5,183.5 828.2,181.9 829.0,183.9 829.8,182.5 830.2,182.0 830.5,181.9 831.0,182.1 831.8,181.0 832.5,182.3 833.2,182.0 833.8,183.2 834.0,183.3 835.2,181.3 836.0,182.2 836.5,182.6 836.8,182.6 837.2,182.2 837.5,182.2 838.0,182.9 838.2,182.7 838.8,181.6 839.5,181.5 840.2,183.5 841.0,182.3 841.8,182.6 843.0,182.6 844.2,182.0 844.5,182.2 845.0,183.7 845.2,183.5 845.8,181.8 846.0,181.7 847.2,182.5 848.5,180.7 849.2,182.1 850.0,182.7 850.8,181.9 851.2,180.7 851.5,180.6 852.0,182.0 852.8,183.3 853.5,180.4 854.2,179.5 855.0,181.4 856.5,182.2 857.0,182.2 857.8,181.5 858.5,181.8 861.0,181.1 862.0,181.7 862.5,181.5 863.2,180.8 864.0,182.0 864.8,180.5 866.0,181.0 866.8,179.4 868.2,181.5 868.8,181.5 869.0,181.2 869.5,180.0 869.8,179.8 870.2,180.0 871.0,179.7 871.8,180.4 872.2,180.4 873.0,179.3 873.2,179.5 873.8,180.6 874.0,180.6 875.2,180.2 876.0,179.8 876.5,180.0 877.2,178.8 878.0,180.3 878.8,180.2 879.2,179.9 880.0,179.1 880.8,180.8 881.0,180.9 881.5,180.8 882.2,178.3 883.0,180.0 883.5,179.8 884.2,177.6 885.0,179.8 886.5,179.5 888.0,177.9 888.5,177.8 889.8,178.6 890.8,177.0 891.2,176.9 892.0,177.4 892.8,175.0 893.5,176.6 894.0,176.1 894.8,174.3 895.5,176.4 896.2,175.0 897.0,176.3 897.5,176.6 898.2,174.6 898.5,174.5 899.0,174.5 899.8,175.4 900.2,174.4 900.5,174.4 901.0,175.9 901.2,176.2 901.8,175.9 902.5,176.6 903.2,174.5 904.0,176.2 904.5,176.4 905.2,174.8 906.0,177.1 906.8,175.4 907.2,176.5 907.5,176.6 908.0,175.8 908.8,178.2 909.0,178.4 909.5,178.5 910.2,177.3 911.0,177.6 911.5,178.5 911.8,178.4 912.2,177.5 913.8,178.8 914.2,178.7 914.5,178.8 915.0,179.6 915.2,179.8 915.8,179.7 916.5,180.4 917.2,179.1 917.8,179.9 918.0,179.9 918.5,178.9 918.8,179.0 919.5,180.6 920.5,181.6 920.8,181.6 921.5,179.2 922.8,180.9 923.5,179.7 924.2,181.1 924.8,181.1 925.5,180.5 927.0,180.2 928.2,182.0 928.5,182.1 929.0,181.6 929.8,183.4 930.5,180.0 931.8,181.6 932.0,181.6 932.5,180.5 932.8,180.6 933.2,181.4 934.0,181.9 935.2,181.0 935.5,181.0 936.0,181.7 936.2,181.7 936.8,181.3 937.5,181.5 938.2,181.2 939.0,180.1 939.5,179.7 941.0,180.5 941.8,180.1 942.5,180.8 943.0,180.3 943.8,180.6 945.2,179.0 946.0,180.0 946.5,179.7 947.2,178.5 947.5,178.5 948.0,178.6 948.5,180.4 948.8,180.8 949.2,177.0 949.5,176.4 950.0,179.0 950.2,179.3 950.8,178.5 952.8,177.6 953.0,177.9 953.5,179.5 953.8,179.3 954.2,177.5 954.5,177.4 955.0,177.4 955.8,178.1 957.0,177.2 957.8,177.0 958.5,176.0 959.2,177.8 960.5,175.0 961.2,177.5 961.5,177.6 962.8,177.4 963.2,176.5 963.5,176.5 964.0,177.5 964.2,177.3 964.8,176.0 965.5,174.9 966.2,176.9 967.0,177.4 967.5,177.3 968.2,178.4 969.8,176.5 970.2,176.6 971.0,177.3 971.2,177.3 971.8,176.7 972.5,176.5 973.2,175.3 973.8,176.2 974.0,176.3 974.5,175.7 975.2,176.8 976.0,176.8 976.8,177.4 977.2,178.0 977.5,178.0 978.0,176.8 978.2,176.9 978.8,177.8 979.5,175.8 980.2,176.9 981.5,178.3 982.2,176.0 983.8,176.8 984.5,176.5 985.8,175.4 986.5,175.7 987.2,176.6 987.8,175.8 988.0,176.0 988.5,177.8 988.8,178.1 989.2,177.8 990.0,175.1 991.5,177.9 992.0,177.9 992.8,177.7 993.5,175.4 994.2,176.2 994.8,177.8 995.0,177.8 995.5,175.8 996.2,174.3 997.0,174.5 997.8,174.5 998.5,173.6 999.0,173.8 999.8,174.8 1000.5,173.9 1001.0,174.1 1002.0,176.0 1002.5,175.2 1002.8,175.5 1003.2,176.8 1004.0,176.1 1004.8,177.4 1005.2,176.3 1005.5,176.2 1006.0,177.7 1006.2,177.8 1008.0,176.6 1008.2,176.5 1009.0,177.1 1009.5,176.6 1010.2,176.4 1011.0,178.4 1011.8,178.0 1012.2,178.4 1012.5,178.3 1013.0,176.7 1013.8,176.0 1014.5,176.3 1015.2,178.2 1015.8,178.3 1016.0,178.1 1016.5,176.5 1016.8,176.7 1017.2,178.5 1018.0,177.4 1018.8,176.9 1020.0,178.3 1020.8,177.8 1021.5,177.8 1022.8,177.0 1023.0,177.0 1023.5,177.7 1023.8,177.6 1024.2,176.9 1025.0,178.8 1025.8,177.8 1026.2,179.2 1026.5,179.2 1027.0,177.5 1027.2,177.8 1027.8,179.6 1028.5,178.0 1029.2,178.2 1030.5,179.7 1031.2,179.2 1032.0,178.9 1032.8,181.0 1034.0,178.7 1034.2,178.7 1034.8,179.1 1035.5,181.2 1036.2,180.2 1037.0,180.8 1037.5,181.6 1038.2,179.8 1039.0,180.5 1039.8,179.7 1041.0,180.8 1041.8,179.4 1042.5,180.6 1043.2,180.7 1043.8,181.3 1044.0,181.3 1044.5,180.3 1045.2,179.7 1046.0,181.1 1046.8,180.0 1047.5,181.1 1048.0,181.4 1048.8,180.6 1050.2,181.3 1054.5,182.6 1056.0,183.2 1057.5,184.2 1062.2,189.0 1064.8,192.5 1065.8,194.5 1066.5,196.5 1068.8,204.8 1070.2,212.2 1071.8,221.6 1074.0,239.9 1075.5,246.3 1077.0,250.5 1079.0,253.6 1082.8,257.2 1084.5,259.5 1097.8,282.7 1100.5,286.7 1110.0,299.3 1112.5,303.1 1114.5,306.9 1116.5,311.9 1118.8,318.7 1120.2,324.3 1121.5,330.8 1123.5,346.3 1125.0,354.7 1125.8,362.2 1126.8,387.4 1131.0,469.1 1134.0,519.1 1135.8,541.4 1136.8,549.1 1138.2,558.6 1139.8,566.4 1141.2,572.7 1142.8,577.5 1144.5,581.4 1146.2,584.4 1147.0,585.2 1147.8,585.5 1148.2,585.3 1149.0,584.0 1150.5,578.8 1151.8,572.4 1152.5,564.2 1153.8,542.0 1156.5,483.0 1159.5,439.1 1160.5,422.0 1163.0,352.4 1165.0,312.6 1165.8,301.4 1166.5,294.0 1168.0,287.0 1169.5,282.8 1170.8,280.7 1173.5,277.9 1174.5,276.5 1175.8,273.8 1178.2,267.0 1179.5,264.2 1181.2,261.4 1184.8,256.7 1186.5,253.7 1188.8,248.1 1194.0,232.5 1196.5,226.6 1198.5,222.4 1200.0,220.0 1204.2,214.7 1206.2,212.8 1208.2,211.8 1209.2,211.6 1210.2,211.7 1212.2,212.8 1215.2,215.7 1216.5,218.0 1218.8,224.4 1222.2,239.3 1228.0,259.7 1230.2,265.5 1231.2,267.1 1232.2,267.9 1234.0,267.8 1236.2,266.7 1238.5,265.0 1239.5,263.2 1240.8,259.0 1243.8,245.8 1247.2,232.5 1248.8,227.4 1250.0,224.5 1252.8,220.9 1255.8,218.3 1257.8,217.1 1261.8,215.3 1265.0,214.2 1265.8,214.2 1266.5,213.5 1267.2,212.3 1267.8,212.2 1268.5,214.2 1269.2,213.9 1269.8,214.1 1270.0,214.0 1270.5,213.3 1271.2,213.1 1272.0,214.3 1272.8,213.8 1273.2,212.7 1273.5,212.6 1274.0,214.0 1274.8,217.2 1275.5,214.6 1276.2,216.8 1276.8,216.5 1277.0,216.7 1277.5,217.8 1277.8,217.7 1278.2,216.6 1279.0,216.5 1279.8,219.3 1280.2,218.6 1280.5,218.6 1281.0,219.6 1281.8,220.0 1282.5,222.3 1283.2,221.9 1283.8,222.2 1284.0,222.1 1284.5,221.5 1285.2,221.1 1286.0,222.8 1286.8,226.2 1287.8,228.1 1288.5,225.0 1288.8,224.8 1289.2,225.1 1289.5,224.8 1290.5,225.7 1290.8,226.2 1291.2,227.6 1292.0,231.2 1292.8,224.8 1294.0,230.0 1294.2,229.8 1294.8,228.1 1295.5,231.8 1296.2,224.6 1297.0,230.8 1297.5,228.9 1297.8,229.7 1298.2,233.4 1298.5,233.2 1299.0,231.8 1299.8,235.7 1300.5,233.6 1301.0,230.9 1301.2,231.3 1301.8,234.7 1302.5,236.9 1304.5,237.6 1305.2,239.0 1306.0,241.7 1306.8,239.2 1307.2,241.3 1307.5,241.6 1308.0,239.6 1308.2,240.1 1308.5,241.6" stroke="#c0504d"/><path d="M77.5,329.3 78.2,328.7 79.0,329.5 79.8,328.9 81.0,329.2 81.8,327.4 82.5,329.2 83.0,328.7 83.8,337.0 84.5,329.9 85.2,329.3 86.0,329.4 87.2,328.7 88.8,330.3 89.2,329.8 89.5,329.8 90.0,330.8 90.2,330.7 90.8,329.8 91.0,329.8 91.5,330.0 92.2,331.7 93.5,329.7 93.8,329.6 94.2,329.9 95.0,330.8 95.8,332.2 96.5,329.9 97.0,330.0 97.8,331.3 98.5,329.3 99.2,330.1 100.0,331.4 100.5,331.8 101.2,330.6 102.0,331.2 102.8,327.7 103.2,330.7 103.5,331.4 104.0,329.8 104.8,328.8 105.5,330.9 106.0,331.3 106.2,331.3 107.0,330.1 107.5,329.6 108.2,330.7 109.0,330.7 109.8,332.3 111.0,331.1 111.8,333.4 112.5,330.7 113.0,330.1 113.2,330.0 114.0,331.6 114.5,331.6 116.0,330.2 116.5,331.0 116.8,330.8 117.2,326.4 117.5,326.0 118.0,330.9 118.2,331.8 118.8,331.7 119.5,329.3 120.2,331.1 120.8,330.3 121.0,330.4 121.5,331.7 121.8,331.4 122.2,329.2 122.5,329.3 123.0,330.2 123.8,332.1 124.2,332.4 124.5,332.0 125.0,329.4 125.2,329.3 125.8,330.6 126.5,331.7 127.2,330.8 127.8,332.6 128.0,332.7 128.5,330.5 128.8,330.4 129.2,331.7 130.0,330.3 130.8,332.9 131.2,331.7 131.5,331.4 132.0,331.1 132.8,329.7 133.5,333.3 134.2,332.3 135.0,332.4 135.5,332.7 135.8,332.6 137.0,330.8 137.8,330.7 138.2,330.7 138.5,331.0 139.0,332.7 139.2,332.4 139.8,330.2 140.0,330.2 140.5,330.9 142.5,332.2 143.2,330.4 144.0,329.7 144.8,331.7 145.5,332.9 147.5,331.3 148.2,332.0 148.8,331.5 149.0,331.6 149.5,332.4 149.8,332.2 150.2,330.9 151.0,331.9 151.8,331.6 152.5,332.3 153.0,332.0 153.8,337.5 154.5,333.4 155.0,333.4 155.2,333.1 155.8,330.3 156.0,329.8 156.5,331.1 156.8,331.3 157.2,331.1 158.0,332.4 158.8,329.5 159.5,333.1 160.0,333.0 160.8,330.5 161.0,330.5 162.2,331.0 163.5,332.4 164.2,334.0 165.0,331.6 165.8,332.6 166.2,332.2 166.5,332.3 167.0,333.5 167.2,333.6 167.8,332.8 168.5,333.4 169.2,330.8 170.0,331.6 170.5,331.1 171.2,333.4 171.5,333.3 172.8,331.6 173.5,331.6 174.0,332.3 174.2,332.2 174.8,331.3 175.5,330.9 176.8,334.2 177.0,334.3 177.8,331.7 179.0,330.7 179.5,330.6 179.8,330.7 180.5,332.7 181.0,333.0 181.8,332.2 182.5,332.5 183.8,332.3 184.5,330.7 184.8,330.7 185.2,331.6 186.0,332.3 186.8,331.4 187.5,331.7 188.0,331.4 188.2,331.5 188.8,331.9 189.5,333.2 190.2,331.9 191.0,332.4 191.5,333.2 192.2,333.2 193.0,334.5 193.8,330.6 194.5,333.5 195.0,332.6 195.2,332.5 196.5,334.0 197.2,334.4 198.0,334.4 198.5,333.8 199.2,335.2 200.0,333.4 200.8,333.7 201.2,334.5 201.5,334.5 202.0,333.5 202.8,336.1 203.0,336.0 203.5,335.1 204.2,336.2 205.0,333.9 205.5,333.6 207.0,334.8 207.8,333.4 208.5,334.3 209.0,333.9 209.8,335.5 210.5,333.1 211.2,334.8 212.0,333.0 212.5,332.7 213.2,332.9 214.0,332.3 214.8,333.9 215.2,334.5 215.5,334.5 216.0,333.7 216.2,333.7 216.8,334.0 217.5,335.1 218.2,333.8 219.5,332.8 220.2,331.3 221.0,333.7 221.8,331.1 222.5,333.3 223.0,332.8 223.8,333.7 224.5,332.4 225.2,331.6 225.8,332.4 226.0,332.5 226.5,331.7 226.8,331.7 228.0,332.1 229.2,331.6 230.0,330.9 230.8,331.4 231.5,329.2 232.2,331.2 232.8,330.3 233.0,330.4 233.8,332.5 234.2,332.5 235.0,328.9 235.8,331.1 236.5,330.5 237.0,329.8 237.2,329.9 237.8,331.1 239.2,328.6 240.0,330.1 241.2,330.3 242.0,328.7 242.8,330.7 243.2,330.7 244.0,328.9 244.2,328.7 245.5,329.6 246.0,329.2 246.2,329.2 246.8,330.9 247.0,331.2 248.2,328.4 248.5,328.3 249.0,328.5 249.5,329.0 250.2,331.2 250.5,331.3 251.0,329.3 251.2,329.0 252.5,329.6 253.0,329.1 253.2,329.1 253.8,330.8 254.0,330.9 254.5,328.7 254.8,328.5 255.2,329.5 256.0,328.8 256.8,329.1 257.2,327.7 257.5,327.7 258.0,330.0 258.2,330.0 258.8,328.4 259.0,328.3 259.5,328.3 260.0,328.1 260.8,328.3 262.8,327.5 264.2,328.7 265.0,328.0 266.2,327.9 267.0,327.0 267.8,327.3 268.5,327.2 269.2,327.5 269.8,327.3 270.5,326.5 271.2,327.9 271.8,328.1 272.0,328.0 272.5,326.9 272.8,326.9 273.2,327.2 274.0,327.1 274.8,327.3 275.2,326.3 275.5,326.2 276.0,327.5 276.2,327.5 276.8,326.5 277.5,327.4 278.8,326.2 279.0,326.1 280.2,327.0 281.0,325.9 282.2,326.0 283.0,325.3 283.8,326.9 285.2,326.2 285.8,326.6 286.0,326.6 286.5,325.7 286.8,325.6 287.2,325.9 288.0,327.0 288.8,326.4 289.5,324.5 290.0,324.0 291.5,326.4 292.2,325.5 293.5,326.0 294.2,325.2 295.8,326.1 297.0,325.9 297.8,325.3 298.5,325.9 299.2,325.4 300.5,326.9 301.2,325.2 302.0,324.1 302.8,325.2 304.2,326.0 304.8,326.0 305.5,324.9 306.2,324.9 306.8,325.8 307.0,325.9 307.5,324.8 307.8,324.9 308.2,325.8 309.0,325.1 309.8,325.7 311.8,325.7 312.5,324.6 313.2,325.3 314.0,325.2 315.2,325.8 316.0,324.9 316.8,324.6 318.0,324.8 318.8,325.4 319.5,324.5 320.2,325.7 322.2,324.2 323.0,325.1 323.8,325.2 324.2,324.2 324.5,324.1 325.2,325.7 325.8,325.9 326.5,325.1 327.0,325.2 328.0,326.2 329.2,324.4 330.0,324.8 331.2,324.7 332.0,323.6 332.2,323.8 332.8,325.1 333.5,324.4 334.2,324.9 335.0,324.8 335.5,325.2 337.0,324.3 338.2,325.5 338.5,325.5 339.0,324.8 339.2,324.8 339.8,325.6 341.2,324.6 341.8,325.5 342.0,325.5 342.5,324.5 342.8,324.6 343.2,325.4 344.0,324.6 344.8,325.1 345.5,324.2 346.0,324.4 346.8,325.5 347.5,325.1 348.8,324.8 349.5,325.2 350.2,324.3 350.5,324.3 351.0,324.4 351.8,325.0 352.5,324.6 353.8,325.1 355.2,325.2 356.0,326.3 356.5,326.6 358.0,325.4 359.2,324.7 359.5,324.7 360.0,325.2 360.2,325.1 360.8,324.4 362.8,326.6 363.0,326.6 363.5,326.4 364.2,325.4 365.0,326.1 365.8,325.5 366.5,326.4 367.0,326.0 367.2,326.0 368.5,327.6 369.2,326.7 369.8,327.4 370.0,327.4 370.5,326.5 371.2,326.1 372.0,327.1 372.8,327.3 373.5,326.1 374.0,326.4 374.8,325.7 376.2,327.1 378.2,325.9 379.0,327.0 379.8,327.3 381.0,327.1 381.8,326.3 382.5,328.1 383.2,327.0 384.0,327.1 384.5,327.5 385.2,326.0 386.0,327.2 386.8,327.2 388.0,328.1 388.8,327.7 389.5,326.3 390.2,327.3 391.0,327.6 391.5,327.6 392.2,326.9 393.0,326.6 393.8,327.9 395.0,327.7 395.8,326.7 396.5,328.8 397.2,326.1 398.5,328.8 398.8,328.8 399.2,327.8 400.0,328.0 400.8,327.3 401.2,328.4 401.5,328.5 402.0,327.3 402.2,327.3 402.8,328.0 403.5,328.1 404.2,327.4 404.8,328.2 405.0,328.3 405.5,327.3 405.8,327.2 407.0,327.9 407.8,327.8 409.0,328.5 409.8,327.9 410.5,327.7 411.8,327.8 412.5,328.4 413.2,327.9 414.0,328.3 415.2,327.6 415.5,327.7 416.0,328.4 416.2,328.3 416.8,327.5 418.2,328.9 419.0,327.5 419.5,328.0 420.2,327.2 421.0,327.8 421.8,327.3 422.5,327.8 423.0,327.5 423.2,327.6 424.5,329.1 425.2,328.4 425.8,328.9 426.0,328.9 426.5,328.2 427.5,327.9 428.8,327.2 430.0,329.0 430.2,329.0 431.5,327.9 432.2,329.1 433.0,328.0 434.2,327.6 435.0,327.7 435.5,328.1 436.2,329.3 436.5,329.4 437.0,328.4 437.8,327.8 439.2,328.2 439.8,327.6 440.0,327.6 440.5,328.4 441.2,328.9 442.0,328.7 442.5,328.9 442.8,328.8 443.5,327.0 444.0,327.5 444.8,329.3 446.0,329.8 446.2,330.2 450.8,350.5 451.2,352.4 451.8,353.2 452.0,353.1 452.5,351.6 454.5,339.3 455.2,336.8 458.0,336.8 460.5,337.2 461.8,338.6 464.5,343.2 465.2,344.0 466.0,344.2 466.8,343.9 467.5,343.1 470.2,339.0 471.5,337.8 474.5,337.2 477.2,337.1 477.8,337.6 478.5,339.0 481.2,346.2 482.0,347.1 482.5,347.2 483.0,346.9 483.8,345.9 486.8,339.9 488.0,338.3 490.0,337.9 495.0,337.6 496.5,337.2 497.2,336.6 498.2,335.3 502.2,328.4 502.8,328.6 503.5,327.6 504.2,327.9 505.0,327.5 505.5,327.7 506.2,327.7 507.0,326.8 507.8,327.2 508.5,327.1 509.0,327.6 509.8,326.9 510.5,326.6 511.2,327.7 512.5,328.0 513.2,327.9 514.0,326.6 514.8,327.0 516.0,327.3 516.8,326.4 517.5,327.4 518.2,327.5 519.0,327.0 520.2,328.0 521.0,327.4 521.8,327.9 522.2,327.9 523.8,327.6 524.5,327.3 525.2,328.0 526.0,327.0 526.5,327.1 527.2,327.8 528.0,327.1 529.2,328.0 530.2,327.6 530.8,327.6 531.5,328.0 532.2,327.9 533.0,326.8 533.5,326.9 534.2,328.2 534.5,328.2 535.0,328.1 535.8,326.6 537.0,327.6 537.8,327.2 538.5,327.9 539.2,327.8 539.8,327.9 540.5,327.3 540.8,327.3 542.0,328.7 542.8,327.0 543.5,328.4 544.8,328.1 546.2,327.3 547.0,327.5 547.8,328.3 549.0,328.5 550.5,328.3 551.8,327.4 552.5,328.1 553.2,328.2 554.0,327.9 554.5,327.4 555.2,327.7 556.0,326.4 556.8,328.1 557.5,327.6 558.8,328.2 559.5,328.2 560.2,328.7 561.0,327.5 561.5,327.1 562.2,328.5 563.0,328.9 563.8,328.9 564.5,328.4 565.0,328.5 565.8,328.3 566.5,327.6 567.8,328.4 568.0,328.4 568.5,328.1 569.2,329.2 570.0,327.5 571.2,328.7 571.5,328.8 572.2,328.0 573.5,327.7 574.2,328.1 575.0,329.1 575.5,328.7 576.2,328.7 577.0,328.2 577.8,328.8 579.2,328.0 581.2,329.0 582.0,328.5 583.2,329.5 584.0,328.1 584.8,327.3 585.5,329.0 586.8,328.5 587.5,328.7 588.2,328.4 588.8,329.0 589.0,329.0 589.5,328.5 590.2,328.9 591.0,328.0 592.5,328.6 593.0,328.4 593.8,328.9 595.2,328.4 596.0,328.8 597.2,327.9 599.5,328.4 600.8,329.0 601.5,328.9 602.2,329.5 603.0,329.1 603.5,328.6 605.0,329.9 605.8,328.4 607.0,329.1 607.8,328.7 608.5,329.1 609.2,328.7 610.0,328.8 610.5,328.4 611.2,328.6 612.0,328.3 612.8,328.6 613.2,327.1 613.5,326.9 614.0,328.3 614.8,329.0 616.2,328.3 617.0,328.5 617.8,327.9 619.8,328.2 620.2,328.5 620.5,328.5 621.0,327.8 621.8,329.1 622.5,326.4 623.2,327.7 624.5,328.5 626.0,326.9 626.8,328.1 628.0,327.4 628.8,327.3 629.5,327.4 630.8,328.3 631.0,328.2 631.5,327.1 631.8,327.3 632.2,328.6 633.0,327.6 633.5,327.4 634.5,327.8 635.0,327.6 635.8,328.5 637.2,327.2 639.2,327.1 640.0,327.6 640.8,326.9 641.2,327.7 641.5,327.8 642.0,327.2 642.8,327.0 643.5,327.5 644.2,326.1 645.5,327.1 645.8,327.2 646.5,326.9 647.8,327.0 648.5,326.5 649.0,326.7 650.5,325.8 651.2,327.2 652.0,326.2 652.5,326.3 653.2,327.2 653.5,327.2 654.0,327.1 654.8,326.3 656.0,326.4 656.8,326.0 657.5,326.7 659.0,326.5 659.5,326.7 660.2,326.7 661.0,327.2 661.8,326.9 662.2,325.8 662.5,325.7 663.0,327.0 663.2,326.9 663.8,325.8 664.5,325.5 665.2,326.5 666.0,325.9 666.5,326.0 667.2,326.7 668.0,325.8 668.8,325.7 670.0,326.7 670.8,326.4 671.5,325.3 672.8,326.0 673.5,326.9 673.8,327.0 674.5,326.6 675.8,326.7 676.5,326.1 677.0,326.3 677.8,326.4 678.5,325.7 679.8,326.5 680.0,326.4 680.5,325.9 681.2,326.7 682.5,326.9 682.8,326.8 683.2,325.9 683.5,325.8 685.0,327.3 685.5,327.5 686.2,326.3 687.5,327.4 688.2,326.8 689.0,327.1 689.8,328.1 690.5,327.0 691.0,327.0 691.8,326.7 692.5,326.9 693.2,328.0 694.0,327.2 694.8,326.9 695.8,327.4 696.8,328.4 697.5,327.5 698.0,328.0 698.8,327.7 700.5,328.2 701.2,328.7 701.5,328.8 702.0,328.3 702.8,328.4 703.5,330.0 704.2,329.1 705.0,329.9 705.5,329.4 706.2,330.7 707.0,331.2 707.8,328.2 708.5,330.6 709.0,329.7 709.2,329.5 709.8,329.6 710.5,329.1 711.0,329.7 711.2,329.8 711.8,327.6 712.0,327.2 712.5,328.4 712.8,328.7 713.2,328.7 714.0,329.8 714.8,330.5 716.0,330.2 717.5,328.1 718.2,330.3 719.0,330.2 719.5,330.4 720.2,331.5 721.0,330.0 721.8,329.9 722.2,328.4 722.5,328.4 723.0,330.5 723.2,330.8 724.5,329.7 725.2,330.8 726.0,329.6 726.5,330.0 727.2,332.4 728.0,331.4 728.8,331.6 730.0,331.5 730.8,331.1 731.5,333.2 732.2,331.0 732.8,331.6 733.0,331.6 733.5,331.0 734.2,330.8 735.0,328.8 735.8,329.6 736.5,332.9 737.0,332.9 737.8,331.1 738.0,331.1 739.2,332.0 739.8,330.9 740.0,331.0 740.5,333.0 740.8,332.8 741.2,330.8 741.5,330.7 742.0,331.0 742.5,329.6 742.8,329.3 743.5,333.2 744.0,332.2 744.2,332.3 744.8,333.5 745.5,331.0 746.2,332.4 747.0,332.2 747.5,332.3 748.2,334.2 749.0,334.5 749.8,333.6 750.2,332.3 750.5,332.2 751.0,333.1 751.8,333.8 752.5,333.1 753.8,333.1 754.5,332.0 754.8,332.0 756.0,334.4 756.8,331.9 758.0,334.5 758.2,334.1 758.8,331.8 759.0,332.0 759.5,332.9 760.2,331.5 761.0,332.4 761.5,331.9 761.8,331.9 763.0,332.8 764.2,333.1 764.5,332.8 765.0,331.3 765.2,331.9 765.8,334.7 766.0,334.5 766.5,333.2 767.2,332.4 767.8,332.2 768.0,332.4 768.5,333.7 768.8,333.7 769.2,332.7 770.0,333.3 770.8,333.3 771.2,334.1 771.5,334.1 772.0,333.2 772.2,333.3 772.8,334.2 773.5,334.2 774.2,333.9 774.8,334.9 775.0,335.0 776.2,332.9 777.0,334.4 778.2,334.1 779.0,334.3 779.8,336.4 780.5,334.4 781.2,334.6 781.8,333.9 782.0,334.0 782.5,335.3 782.8,335.3 783.5,334.1 784.5,333.3 784.8,333.3 785.5,335.0 786.0,335.1 786.8,333.0 787.5,333.7 788.8,336.4 789.0,336.2 789.5,333.7 789.8,333.4 791.0,335.4 791.8,334.0 792.5,334.0 793.0,333.5 793.8,333.3 794.5,334.6 795.0,334.8 795.2,334.8 795.8,333.6 796.0,333.4 797.2,335.6 798.0,334.8 798.8,335.4 799.2,334.4 799.5,334.3 800.0,335.7 800.2,335.5 800.8,333.9 801.5,336.4 802.2,334.0 802.8,333.8 803.5,333.6 804.5,334.0 805.8,333.6 806.5,334.0 807.0,334.7 807.8,335.0 808.5,333.7 809.2,335.0 810.0,332.9 811.2,332.6 812.0,334.3 812.8,332.0 813.2,332.1 814.0,334.3 814.2,334.7 814.8,335.0 815.5,334.5 816.2,331.7 817.0,333.1 817.5,333.6 818.2,332.9 819.0,331.1 819.8,332.1 820.5,330.8 821.0,331.1 821.8,334.2 822.5,332.8 823.2,330.5 823.8,330.4 824.0,330.7 824.5,332.0 824.8,332.0 825.2,331.2 826.0,332.1 826.8,330.8 828.0,331.4 829.5,329.1 831.5,330.4 832.2,330.5 833.0,330.3 833.5,330.7 833.8,330.7 834.2,328.9 834.5,328.8 835.8,334.3 836.5,330.4 837.2,330.2 838.0,331.0 841.2,328.4 841.5,328.6 842.8,331.8 843.5,328.3 844.2,329.2 845.0,329.3 846.2,328.4 847.0,328.7 847.8,327.2 848.5,328.8 849.0,328.6 849.8,330.8 851.2,328.4 852.0,328.9 852.5,330.1 852.8,330.3 853.2,330.2 854.0,328.7 854.8,328.2 855.2,327.2 855.5,327.1 856.2,328.0 856.8,328.1 857.5,327.5 858.2,329.6 859.0,326.5 859.8,328.0 860.2,328.4 861.0,328.4 861.5,329.2 861.8,329.4 862.5,326.5 863.8,327.9 864.0,327.9 864.5,327.8 865.8,326.9 866.0,327.1 866.5,328.4 866.8,328.1 867.2,326.6 867.5,326.6 868.0,326.9 868.8,328.8 869.2,329.0 870.0,328.3 870.8,326.5 872.8,326.0 873.5,326.6 874.2,328.2 875.8,326.2 876.5,326.1 877.0,325.7 877.8,327.8 878.5,324.7 879.2,326.9 880.0,325.3 880.5,325.5 881.2,325.2 882.0,327.5 882.8,326.7 883.2,328.7 883.5,328.7 884.2,325.4 884.8,325.4 885.5,327.0 886.0,327.0 886.8,326.3 887.5,324.6 887.8,325.0 888.2,327.5 888.5,327.5 889.0,326.9 889.8,327.0 890.2,326.0 890.5,325.8 891.0,326.7 891.2,326.4 891.8,325.1 892.5,326.2 893.2,326.1 893.8,327.1 894.0,327.1 894.5,325.9 894.8,325.7 895.2,325.8 896.0,327.2 897.2,326.2 898.0,325.9 898.8,327.9 899.5,325.4 900.8,327.7 901.0,327.8 902.2,325.4 903.0,325.0 903.8,326.4 904.5,325.2 905.0,325.1 905.8,326.1 906.5,326.1 907.2,328.2 907.8,326.8 908.0,326.8 908.5,329.2 908.8,329.3 909.2,327.9 910.8,329.9 911.5,329.9 912.0,330.5 913.5,328.4 914.2,330.8 914.8,330.0 915.0,330.0 916.2,332.9 917.0,332.2 918.2,331.9 918.5,332.1 919.2,333.1 920.0,333.4 920.2,333.7 923.5,334.4 925.2,335.2 925.8,336.3 926.5,339.1 929.2,352.7 930.0,355.0 930.5,355.6 930.8,355.5 931.0,355.1 931.8,351.8 934.0,334.1 935.0,328.4 935.5,327.3 938.0,326.2 941.2,326.1 942.2,325.9 944.2,326.4 945.0,325.9 946.2,326.3 947.0,325.6 947.8,326.5 948.5,326.1 949.0,326.0 949.8,325.1 950.5,325.3 951.2,325.1 952.0,325.5 952.5,325.5 953.2,326.2 954.5,326.0 955.2,325.3 955.5,325.3 956.0,326.4 956.2,326.5 956.8,326.0 957.5,326.3 958.2,325.7 959.5,326.3 961.0,326.5 961.8,326.0 962.2,326.7 962.5,326.7 963.0,325.4 963.2,325.3 964.5,326.5 965.2,325.9 966.0,325.7 966.5,325.3 967.2,326.4 968.0,325.1 968.8,326.2 969.5,326.1 970.8,326.6 971.5,325.7 973.0,325.8 973.5,325.3 974.2,326.7 975.0,325.8 975.8,326.0 976.5,325.6 977.0,325.9 977.8,325.7 978.5,326.0 979.2,325.6 980.0,326.3 981.2,324.9 982.0,326.3 983.2,325.6 983.5,325.8 984.0,326.9 984.2,326.9 984.8,326.0 985.5,325.4 986.8,326.1 987.5,325.9 988.2,327.1 989.8,325.6 991.0,326.2 991.8,325.8 992.5,325.8 993.2,326.4 993.8,326.2 994.5,325.5 994.8,325.4 995.2,325.7 996.5,325.9 997.5,325.8 998.0,326.4 999.5,324.9 1000.2,326.0 1001.0,325.0 1002.2,326.2 1003.0,325.4 1003.8,325.7 1004.5,326.4 1005.8,326.0 1006.5,326.1 1007.2,325.7 1008.0,326.1 1008.5,325.9 1009.2,327.0 1010.5,325.9 1012.0,326.0 1012.8,325.4 1013.5,325.6 1014.2,326.6 1015.0,325.4 1016.2,326.4 1017.0,326.6 1017.8,325.6 1018.2,326.4 1018.5,326.5 1019.0,325.9 1019.8,326.6 1021.2,325.9 1022.0,326.3 1022.5,326.2 1023.2,325.7 1024.0,326.9 1024.8,325.8 1025.5,326.4 1026.8,325.2 1029.5,326.7 1030.2,326.0 1031.0,325.8 1031.8,324.8 1032.5,325.9 1033.0,326.0 1033.8,325.0 1034.5,326.5 1035.2,326.6 1035.8,327.8 1036.0,327.8 1036.5,325.9 1036.8,325.6 1037.2,325.9 1038.0,325.9 1038.8,325.3 1040.0,325.5 1040.8,326.1 1041.5,326.0 1042.2,326.3 1043.5,325.1 1044.2,325.7 1046.2,325.8 1047.0,325.1 1047.2,325.1 1047.8,325.5 1048.5,324.7 1049.2,325.2 1052.0,325.3 1056.0,326.3 1058.8,327.7 1060.5,329.0 1061.8,330.1 1066.5,336.2 1068.2,339.4 1069.5,344.0 1070.8,350.3 1074.2,374.9 1075.0,379.1 1078.5,392.4 1080.0,396.9 1081.5,399.5 1085.5,404.8 1089.8,413.1 1091.2,415.7 1093.0,417.7 1098.8,423.3 1102.2,427.4 1104.0,430.0 1108.2,437.4 1113.0,443.9 1114.5,446.6 1116.2,450.7 1117.8,455.0 1119.2,460.2 1120.8,466.2 1121.8,471.3 1123.0,479.3 1124.0,487.4 1129.2,553.8 1132.2,582.4 1135.5,610.2 1138.8,633.5 1140.5,644.1 1141.2,647.6 1142.5,651.8 1143.2,653.9 1144.0,654.9 1144.5,654.8 1145.0,654.5 1146.0,653.1 1147.0,650.9 1148.2,647.4 1149.2,642.1 1150.5,630.7 1153.0,601.5 1161.2,475.9 1163.5,445.3 1166.5,412.4 1168.5,396.2 1169.2,392.3 1169.5,392.0 1170.0,391.9 1170.8,392.2 1171.5,391.7 1172.0,391.7 1172.8,390.4 1174.2,392.0 1175.0,391.3 1176.2,391.0 1177.0,392.9 1177.8,390.2 1178.2,389.1 1178.5,388.8 1179.2,388.6 1180.5,387.0 1182.0,383.8 1183.2,383.0 1184.0,380.4 1184.8,382.4 1185.2,382.7 1186.2,377.3 1187.5,377.7 1188.8,376.5 1189.8,372.2 1191.8,371.2 1192.5,369.0 1193.0,369.2 1193.8,368.6 1194.5,367.5 1195.2,364.7 1195.8,364.9 1196.0,364.7 1197.2,362.3 1198.0,362.5 1198.8,360.1 1199.2,360.4 1199.5,360.1 1200.0,358.1 1200.2,358.0 1200.8,358.7 1201.5,357.9 1202.2,355.0 1203.0,355.2 1203.5,354.9 1204.2,353.2 1205.0,354.1 1205.8,353.3 1206.5,351.7 1207.8,352.2 1208.5,350.9 1209.2,350.1 1209.8,351.3 1210.0,351.3 1210.5,349.4 1210.8,349.2 1211.2,349.8 1212.0,350.3 1212.8,349.6 1213.5,347.5 1214.2,348.5 1215.5,348.6 1216.2,349.7 1217.8,351.0 1218.2,351.9 1219.0,354.9 1219.8,355.5 1220.2,354.7 1220.5,355.2 1221.0,358.9 1221.2,359.4 1221.8,358.5 1222.5,362.0 1223.0,361.8 1223.2,362.1 1224.5,367.6 1225.5,374.7 1228.0,387.0 1230.2,392.5 1231.0,396.5 1231.5,397.4 1232.2,398.2 1233.0,401.2 1234.2,404.3 1234.5,404.6 1235.0,403.6 1235.2,403.8 1236.5,407.0 1237.2,404.8 1238.0,404.5 1238.5,404.7 1239.2,403.3 1240.0,402.8 1241.2,400.5 1241.5,400.3 1242.0,400.5 1242.2,400.1 1244.0,392.5 1245.8,383.3 1246.5,380.6 1247.0,379.8 1247.8,376.4 1248.2,376.6 1248.5,376.4 1249.0,375.1 1249.2,375.1 1249.8,376.1 1250.5,376.2 1252.0,373.6 1252.5,374.1 1253.2,373.5 1254.0,375.0 1254.5,375.5 1254.8,375.4 1255.2,373.2 1255.5,372.8 1256.0,374.0 1256.2,373.7 1257.5,368.4 1258.2,367.4 1258.5,366.6 1260.2,359.4 1260.5,359.1 1261.0,359.0 1261.8,356.3 1262.5,356.6 1263.0,356.3 1265.2,351.6 1266.0,354.2 1266.5,354.5 1267.2,352.6 1268.0,353.2 1268.8,354.8 1269.2,352.6 1269.5,352.2 1270.0,353.5 1270.2,353.7 1270.8,353.5 1271.5,353.7 1272.2,351.7 1272.8,352.7 1273.0,352.7 1273.5,351.5 1273.8,351.8 1274.2,353.3 1275.0,351.3 1275.8,352.1 1276.5,351.0 1277.0,351.4 1277.8,349.9 1278.5,351.2 1279.2,351.2 1279.8,350.6 1280.0,350.7 1280.5,351.5 1280.8,351.4 1281.2,350.5 1282.0,350.6 1282.8,350.3 1283.2,351.1 1283.5,350.9 1284.0,348.7 1284.2,348.5 1284.8,349.3 1285.0,349.4 1285.5,349.1 1286.5,349.4 1287.0,351.2 1287.2,350.9 1287.8,348.5 1288.5,350.3 1289.0,350.7 1289.8,353.7 1290.0,354.0 1290.8,351.5 1291.2,350.6 1292.0,349.8 1292.8,353.0 1293.2,353.4 1293.5,353.1 1294.0,351.0 1294.2,351.1 1294.8,353.0 1295.0,352.8 1295.5,351.8 1296.2,348.9 1296.8,350.2 1297.5,354.4 1298.2,356.8 1299.8,354.0 1300.2,353.5 1300.5,353.8 1301.0,356.2 1301.2,356.7 1301.8,356.7 1302.5,352.8 1303.2,358.4 1303.8,356.6 1304.0,356.8 1304.5,360.8 1304.8,361.3 1305.2,360.2 1306.0,361.2 1306.8,362.6 1307.2,362.5 1307.5,362.1 1308.0,360.2 1308.2,360.1 1308.5,360.6" stroke="#668830"/><path d="M95.0,1019.3 95.8,1018.9 96.2,1019.1 97.0,1019.6 97.8,1020.5 99.0,1018.9 99.8,1018.5 100.0,1018.7 100.5,1019.9 101.2,1021.1 102.8,1017.9 103.2,1018.1 104.0,1020.7 104.2,1020.8 105.5,1017.3 106.2,1019.1 107.0,1018.1 107.5,1018.5 108.2,1018.7 109.0,1018.5 109.8,1019.9 111.0,1018.7 111.8,1019.7 112.5,1020.3 113.2,1017.5 114.0,1018.9 114.5,1018.3 115.2,1019.1 116.0,1017.8 116.8,1019.4 117.2,1019.3 118.0,1019.0 118.8,1016.9 119.5,1018.9 120.2,1018.1 120.8,1017.9 121.0,1018.0 121.5,1019.3 121.8,1019.3 122.2,1018.2 123.0,1020.7 123.8,1020.0 124.2,1017.7 124.5,1017.5 125.0,1019.6 125.2,1019.6 125.8,1018.2 126.5,1019.4 127.2,1019.3 127.8,1017.6 128.0,1017.4 128.5,1018.8 128.8,1019.1 129.2,1019.1 130.0,1020.5 130.8,1018.2 131.2,1019.8 131.5,1019.9 132.0,1018.4 132.2,1018.3 132.8,1019.0 133.5,1018.4 134.2,1021.0 134.8,1020.3 135.0,1020.4 135.5,1021.9 135.8,1021.8 136.2,1020.3 137.8,1020.3 138.5,1018.8 139.0,1019.3 139.8,1020.9 140.5,1019.0 141.2,1019.6 142.0,1019.5 142.5,1020.0 143.2,1019.1 144.0,1019.3 144.8,1019.7 145.2,1019.6 146.0,1018.6 146.8,1020.4 147.5,1018.0 148.8,1018.0 149.0,1018.4 149.5,1020.2 149.8,1020.3 150.2,1019.2 151.0,1018.4 151.8,1018.3 152.2,1019.6 152.5,1019.8 153.0,1018.6 153.8,1018.1 154.5,1020.2 155.2,1018.2 156.0,1019.2 156.5,1019.5 157.2,1019.1 158.0,1019.5 158.8,1022.7 159.5,1018.9 160.8,1017.5 161.5,1019.4 162.2,1019.2 162.8,1019.8 163.0,1019.8 164.2,1018.5 165.8,1019.1 166.5,1019.7 167.0,1019.3 167.2,1019.3 167.8,1019.7 168.5,1021.8 169.2,1020.7 169.8,1018.5 170.0,1018.4 170.5,1021.1 170.8,1021.3 172.0,1018.6 172.8,1021.8 173.5,1019.6 174.0,1019.1 174.8,1019.0 175.5,1018.6 176.8,1020.7 177.0,1020.8 177.5,1019.6 177.8,1019.6 178.2,1020.2 179.0,1021.9 179.8,1018.5 180.5,1020.0 181.8,1018.6 182.0,1018.6 182.5,1018.6 183.2,1019.8 183.8,1020.2 184.0,1020.2 184.5,1019.4 184.8,1019.4 186.0,1020.7 186.8,1020.3 187.5,1020.8 188.0,1020.5 188.8,1020.4 189.5,1022.0 190.2,1020.6 190.8,1020.2 191.0,1020.2 191.5,1020.6 192.2,1019.0 193.0,1019.6 193.8,1020.8 194.5,1020.8 195.0,1021.6 195.2,1021.4 196.5,1018.3 197.2,1022.2 198.0,1020.9 198.5,1019.2 198.8,1019.4 199.2,1021.4 199.5,1021.2 200.8,1018.1 201.5,1019.6 202.0,1019.5 202.8,1021.8 203.5,1019.3 204.2,1019.9 205.5,1019.9 206.2,1019.3 207.0,1020.9 207.8,1021.6 208.5,1020.9 209.2,1019.4 209.8,1019.2 210.5,1020.7 211.2,1019.8 211.8,1019.9 212.0,1019.8 212.5,1019.0 213.2,1022.7 213.5,1022.7 214.0,1021.9 214.8,1020.0 215.5,1022.1 216.0,1022.5 216.8,1018.7 217.5,1020.5 218.2,1020.9 218.8,1021.8 219.0,1021.9 219.8,1021.2 220.2,1021.2 221.0,1021.4 221.8,1023.7 222.2,1024.0 222.5,1023.7 223.0,1021.5 223.8,1019.6 224.5,1025.0 225.2,1020.8 228.0,1023.4 228.8,1022.7 229.2,1021.7 229.5,1021.6 230.0,1022.8 230.2,1022.9 230.8,1022.7 231.5,1024.8 232.2,1022.4 232.8,1022.4 233.5,1021.3 234.0,1022.3 234.8,1024.9 235.2,1024.5 235.8,1023.6 237.0,1023.5 237.8,1023.1 238.5,1023.3 239.2,1023.9 240.5,1024.1 242.0,1023.4 242.5,1023.6 243.2,1024.4 244.0,1024.7 244.8,1023.7 245.5,1023.9 246.0,1024.7 246.2,1024.8 247.5,1024.6 248.2,1022.6 249.0,1024.1 249.5,1024.1 250.2,1024.5 251.0,1022.3 251.8,1026.1 252.5,1024.8 253.0,1024.9 253.8,1024.0 255.2,1025.4 255.8,1024.2 256.0,1024.0 256.5,1024.9 257.2,1025.3 258.0,1024.0 258.8,1025.4 259.2,1024.9 259.5,1024.9 260.0,1025.6 260.2,1025.7 261.5,1025.2 262.2,1026.2 263.0,1025.7 263.5,1025.9 264.2,1024.6 265.0,1024.8 265.8,1025.7 266.2,1025.8 267.0,1025.3 267.8,1025.7 268.5,1024.7 269.2,1025.4 269.8,1024.9 270.0,1024.8 270.5,1025.5 272.0,1025.1 272.8,1025.6 273.2,1026.4 273.5,1026.4 274.0,1025.2 274.2,1025.0 274.8,1025.2 275.5,1026.2 276.0,1025.6 276.2,1025.5 276.8,1027.4 277.0,1027.7 277.8,1025.8 279.0,1025.9 279.8,1026.7 280.5,1026.2 281.2,1026.3 281.8,1026.0 282.5,1023.8 284.0,1026.7 285.2,1026.2 286.0,1026.3 286.8,1025.7 287.5,1026.1 288.0,1025.5 288.8,1026.2 289.5,1025.6 290.8,1026.2 291.5,1025.9 292.2,1026.4 293.8,1026.4 294.2,1026.8 294.5,1026.7 295.0,1025.5 295.2,1025.2 295.8,1025.2 296.5,1027.0 297.2,1026.8 298.0,1027.4 298.8,1027.1 300.0,1026.0 300.2,1026.2 302.2,1026.0 303.5,1026.2 304.2,1026.0 305.5,1026.8 306.2,1025.8 307.0,1026.6 308.2,1026.4 309.0,1027.0 309.2,1027.1 310.5,1026.4 311.2,1026.3 311.8,1025.7 312.0,1025.7 312.5,1026.4 312.8,1026.5 313.2,1026.1 314.0,1026.4 314.8,1026.4 316.0,1027.0 316.8,1026.7 317.5,1026.7 318.2,1026.2 319.5,1026.5 320.2,1025.8 321.0,1027.0 321.8,1026.0 322.2,1025.9 323.0,1026.7 323.8,1027.0 324.5,1026.0 325.0,1026.1 325.2,1026.2 325.8,1027.1 326.0,1027.2 327.2,1025.6 328.0,1026.1 328.8,1026.9 329.5,1026.5 330.8,1026.7 331.5,1026.5 332.8,1025.8 333.0,1025.8 333.5,1026.3 334.2,1025.9 334.5,1026.0 335.8,1026.8 336.5,1026.4 337.2,1026.3 339.2,1026.5 340.0,1025.9 341.2,1026.8 342.8,1026.0 343.5,1025.9 344.0,1025.6 344.8,1025.9 345.5,1026.8 346.2,1026.2 347.0,1025.9 348.5,1026.2 350.5,1026.0 351.8,1026.7 352.5,1026.0 353.2,1026.0 353.8,1026.5 354.0,1026.5 354.5,1025.8 354.8,1025.7 355.2,1025.9 356.0,1025.9 356.8,1026.2 358.0,1025.9 358.8,1026.4 359.5,1025.2 360.2,1025.5 360.8,1024.8 361.0,1024.8 361.5,1026.1 361.8,1026.2 362.2,1025.6 363.0,1026.3 364.2,1026.4 365.8,1025.9 366.5,1026.1 367.8,1025.7 368.5,1026.4 368.8,1026.4 369.2,1025.8 370.0,1026.7 371.5,1026.0 372.8,1026.5 373.5,1025.6 375.0,1025.7 375.8,1026.2 378.2,1025.8 379.2,1026.4 380.0,1026.3 381.2,1025.6 382.0,1026.2 383.2,1026.1 384.0,1026.6 385.5,1025.6 386.0,1025.6 386.8,1026.4 387.5,1026.0 388.2,1026.6 389.0,1025.8 389.5,1025.6 391.0,1026.5 392.5,1025.5 393.0,1025.7 394.0,1025.8 395.8,1026.5 397.2,1025.7 398.0,1025.9 399.5,1025.7 400.8,1025.8 401.5,1025.4 402.2,1026.0 403.5,1025.5 404.2,1025.9 405.0,1025.6 405.8,1026.3 407.8,1025.4 408.5,1025.4 409.2,1025.8 410.0,1025.4 410.5,1025.7 411.2,1024.8 412.0,1025.5 412.8,1025.7 414.0,1025.3 414.8,1025.6 415.5,1024.9 416.0,1024.9 417.8,1025.4 419.0,1024.9 420.5,1025.0 421.8,1023.9 422.5,1024.4 423.2,1024.2 424.0,1024.4 424.8,1024.2 425.2,1024.2 426.0,1024.6 427.2,1024.4 428.0,1024.8 429.0,1024.1 429.5,1024.1 430.2,1024.5 431.0,1023.7 431.5,1023.5 432.2,1024.4 433.0,1024.1 435.0,1024.1 435.8,1023.6 436.5,1023.7 437.2,1023.3 438.0,1023.6 439.2,1023.4 440.0,1024.0 440.8,1024.3 441.5,1023.0 442.2,1023.6 443.5,1023.6 444.2,1022.9 445.0,1023.5 447.0,1022.8 448.2,1023.1 449.0,1023.1 449.8,1023.5 450.5,1022.5 451.2,1022.8 452.0,1022.5 452.5,1023.0 452.8,1023.0 453.2,1022.5 454.8,1021.8 456.8,1022.5 457.5,1022.3 458.2,1021.5 459.5,1021.8 461.0,1021.7 461.8,1021.8 463.8,1020.7 464.5,1021.2 465.2,1020.7 466.0,1021.1 466.5,1021.2 467.2,1020.6 468.0,1020.9 468.8,1020.8 469.5,1021.4 470.8,1020.1 471.5,1020.8 473.5,1020.4 475.0,1020.9 476.2,1020.1 477.0,1020.1 478.0,1019.7 479.2,1019.9 480.0,1019.8 480.5,1019.9 481.2,1020.9 483.2,1019.3 484.2,1019.6 485.5,1019.2 486.2,1020.2 487.0,1019.8 487.5,1020.1 488.2,1021.0 489.0,1020.1 490.5,1020.0 491.8,1019.7 493.2,1020.3 494.8,1019.5 496.0,1019.6 496.8,1020.0 498.8,1020.4 499.5,1019.9 500.2,1020.2 501.5,1020.2 502.2,1018.6 503.0,1020.4 503.8,1019.4 504.5,1019.7 505.0,1020.2 505.8,1019.9 506.5,1020.6 508.0,1019.7 508.5,1020.0 509.2,1019.9 510.0,1020.5 510.5,1020.6 512.2,1019.9 513.5,1020.4 514.2,1019.7 515.0,1019.8 515.8,1020.3 516.2,1020.3 517.0,1019.9 517.8,1019.9 518.2,1019.4 518.5,1019.5 519.0,1020.3 519.2,1020.3 520.5,1019.5 521.8,1019.7 522.5,1020.5 522.8,1020.5 524.0,1019.5 524.8,1020.6 525.5,1020.3 526.2,1019.2 526.8,1019.1 527.5,1020.3 528.2,1019.8 529.5,1019.8 530.2,1020.4 531.8,1020.6 532.5,1020.0 533.8,1020.2 534.5,1019.4 535.2,1020.4 536.0,1019.9 538.8,1020.4 539.2,1020.7 539.5,1020.6 540.2,1019.8 540.8,1019.7 541.5,1020.0 542.2,1019.8 543.0,1020.2 543.8,1019.8 545.0,1020.3 546.5,1020.1 547.0,1020.4 547.8,1020.4 548.5,1019.3 549.2,1020.1 551.2,1019.7 553.5,1020.0 554.2,1020.3 554.8,1020.2 555.5,1019.7 556.0,1019.6 557.0,1020.1 557.8,1019.7 559.5,1020.1 560.5,1020.0 561.0,1020.3 561.8,1019.7 562.5,1020.0 563.2,1019.6 564.5,1019.8 566.0,1018.8 566.8,1020.0 568.8,1019.5 570.2,1019.8 571.0,1019.7 571.5,1020.0 573.0,1019.3 573.8,1019.8 574.5,1019.4 575.0,1019.6 575.8,1019.0 577.2,1019.7 578.0,1019.3 579.2,1019.7 580.0,1019.5 580.8,1020.0 581.5,1019.4 582.8,1019.4 583.5,1018.7 584.2,1018.9 585.0,1019.5 585.5,1019.3 585.8,1019.4 586.2,1019.8 587.0,1019.3 587.5,1019.3 588.5,1019.6 589.2,1019.5 589.8,1019.8 590.5,1018.9 591.2,1019.4 593.2,1019.6 594.0,1019.6 595.2,1019.1 596.0,1019.5 596.8,1019.2 598.2,1019.6 599.8,1018.9 601.0,1019.4 601.8,1019.1 602.5,1019.5 603.0,1019.2 604.5,1018.8 606.0,1019.4 606.5,1019.0 608.0,1018.7 608.8,1019.2 609.5,1018.5 610.8,1019.2 611.5,1020.1 612.2,1018.9 612.8,1019.2 613.0,1019.1 613.5,1018.4 613.8,1018.4 614.2,1019.1 615.0,1019.0 616.2,1018.3 617.8,1018.9 620.2,1018.9 621.2,1019.4 621.5,1019.4 622.8,1017.5 624.8,1018.6 625.5,1018.7 626.2,1019.4 627.0,1018.4 628.2,1018.8 629.2,1018.2 629.8,1018.5 630.5,1020.6 631.8,1017.5 632.0,1017.2 632.5,1017.2 633.2,1019.3 634.0,1018.5 634.8,1018.4 635.5,1020.3 636.0,1019.8 636.8,1017.7 638.2,1019.4 639.0,1019.1 639.5,1018.1 639.8,1018.3 640.2,1019.8 641.0,1020.0 641.8,1017.9 642.5,1017.5 643.0,1017.7 643.8,1019.1 644.5,1019.5 646.0,1018.4 647.2,1019.1 648.0,1017.9 648.8,1017.6 650.0,1019.5 650.2,1019.5 650.8,1019.0 651.5,1018.9 652.2,1018.4 652.8,1019.2 653.0,1019.2 653.5,1017.9 653.8,1017.9 654.2,1018.7 655.0,1018.4 655.8,1018.6 656.2,1018.3 656.5,1018.4 657.0,1019.3 657.2,1019.3 658.5,1018.5 659.2,1019.3 660.5,1018.7 661.2,1018.6 662.0,1019.6 662.8,1018.4 663.5,1018.9 664.0,1018.9 664.8,1019.3 665.5,1019.0 666.2,1020.5 666.8,1018.5 667.0,1018.2 667.5,1019.4 667.8,1019.5 668.2,1019.2 669.0,1020.0 669.8,1018.3 670.2,1019.7 670.5,1019.9 671.0,1018.6 671.2,1018.7 671.8,1019.7 672.0,1019.8 673.0,1019.5 674.0,1018.9 674.5,1018.9 675.2,1019.5 676.5,1018.4 677.2,1017.1 677.5,1017.2 678.2,1020.2 679.0,1020.2 680.2,1019.7 681.8,1020.1 682.2,1020.0 683.0,1019.3 683.8,1019.3 684.2,1019.1 684.5,1019.2 685.0,1019.9 685.2,1019.8 685.8,1019.3 686.0,1019.4 687.2,1020.8 687.8,1020.0 688.0,1019.9 688.5,1020.6 689.2,1021.2 690.0,1018.8 690.8,1019.2 691.5,1020.4 692.0,1019.8 692.2,1020.0 692.8,1021.0 693.5,1020.8 694.2,1020.0 695.5,1021.5 696.2,1021.1 697.0,1019.8 697.8,1020.3 698.2,1020.2 698.5,1020.3 699.0,1021.4 699.2,1021.4 699.8,1020.5 700.5,1020.1 701.8,1020.9 702.8,1020.5 703.2,1020.7 704.0,1020.7 704.8,1021.3 705.2,1021.4 706.8,1020.5 707.5,1021.1 708.2,1020.4 709.0,1021.6 709.5,1021.2 710.2,1021.1 711.0,1019.3 711.8,1022.6 712.5,1022.0 713.2,1021.8 713.8,1021.3 714.5,1021.6 715.2,1023.0 716.0,1020.8 716.8,1021.7 718.0,1021.3 718.8,1021.4 719.2,1020.8 719.5,1020.7 720.0,1021.6 720.2,1021.4 720.8,1020.5 721.5,1022.6 723.5,1020.0 724.2,1021.3 725.0,1021.8 725.8,1020.9 726.5,1022.5 727.0,1021.8 728.5,1020.5 729.2,1021.4 730.0,1021.4 731.2,1022.2 732.0,1021.5 733.5,1022.5 734.8,1021.4 735.5,1022.0 736.2,1021.2 737.0,1021.8 737.5,1021.6 738.2,1020.8 739.0,1022.0 739.8,1021.6 740.2,1022.0 740.5,1021.9 741.0,1020.8 741.2,1021.0 741.8,1022.2 742.0,1022.3 742.5,1022.3 743.2,1021.3 745.2,1021.5 746.0,1022.1 746.8,1021.0 747.5,1020.8 748.0,1021.2 748.8,1022.7 749.5,1021.2 750.2,1020.7 751.0,1020.9 752.2,1022.2 753.0,1020.9 753.8,1021.5 755.0,1021.6 755.8,1021.4 756.5,1022.0 757.2,1021.6 757.8,1020.6 758.0,1020.7 758.5,1022.6 758.8,1022.4 759.2,1020.4 759.5,1020.3 760.0,1020.3 760.8,1021.9 762.0,1021.0 763.5,1021.6 765.0,1020.1 767.0,1020.4 767.8,1021.7 768.5,1021.2 769.0,1021.3 769.8,1020.6 770.5,1021.6 771.2,1019.9 772.0,1021.2 772.5,1021.3 773.2,1020.0 774.0,1020.0 774.8,1021.0 775.5,1020.2 776.0,1020.1 776.8,1020.6 777.5,1019.9 778.2,1020.6 778.8,1021.7 779.0,1021.8 779.5,1020.5 779.8,1020.5 780.2,1021.1 781.0,1019.8 781.8,1020.5 782.5,1020.3 783.2,1020.5 784.5,1021.9 785.2,1020.4 786.0,1021.2 786.5,1020.7 787.2,1020.8 788.0,1020.0 788.8,1019.8 789.5,1020.1 790.0,1019.8 790.8,1020.2 791.5,1019.5 792.2,1020.2 793.0,1020.5 793.8,1021.4 794.2,1021.4 795.8,1019.9 796.5,1021.0 799.2,1018.9 800.0,1020.4 800.5,1022.6 800.8,1022.3 801.2,1020.1 801.5,1020.0 802.0,1020.3 804.0,1020.5 804.8,1018.7 805.5,1019.8 806.0,1020.1 807.0,1020.0 807.5,1020.7 807.8,1020.5 808.2,1019.7 809.0,1020.6 809.8,1021.1 810.5,1019.8 811.0,1019.9 811.8,1019.7 812.5,1020.5 813.2,1018.5 814.0,1019.0 815.2,1020.5 816.0,1020.4 816.8,1019.5 817.5,1021.0 818.0,1020.3 818.8,1019.7 820.2,1021.0 821.5,1019.3 821.8,1019.3 823.8,1020.9 824.2,1019.9 824.5,1019.8 825.0,1020.5 825.2,1020.4 825.8,1019.7 826.5,1020.6 827.2,1019.7 828.0,1020.2 828.5,1019.7 829.2,1020.0 830.5,1019.5 830.8,1019.6 831.5,1021.8 832.2,1021.7 833.5,1020.8 834.2,1022.1 835.0,1021.1 836.2,1022.1 837.0,1021.5 837.8,1022.4 838.5,1021.4 839.8,1021.7 840.5,1020.9 841.2,1021.1 841.8,1022.1 842.0,1022.2 842.5,1021.0 842.8,1021.2 843.2,1022.6 844.0,1022.3 844.8,1023.0 846.0,1022.7 846.8,1023.5 847.5,1022.4 848.2,1022.5 848.8,1023.1 849.0,1023.2 849.5,1022.3 849.8,1022.4 850.2,1023.4 850.5,1023.4 851.0,1023.2 851.8,1022.4 853.0,1021.6 853.8,1024.1 854.5,1022.0 855.2,1022.3 856.0,1023.7 858.0,1023.3 859.5,1022.7 860.0,1022.9 861.0,1024.0 862.0,1024.3 862.2,1024.3 862.8,1023.7 863.5,1022.2 863.8,1022.5 864.2,1023.9 864.5,1023.9 865.0,1023.6 865.8,1022.0 866.5,1024.6 867.0,1024.0 867.8,1023.7 868.5,1023.9 871.2,1023.9 872.0,1024.2 872.8,1024.2 873.2,1025.2 873.5,1025.3 874.0,1024.2 874.8,1023.5 875.5,1023.4 876.2,1024.1 879.0,1023.7 879.8,1024.4 880.5,1024.6 882.5,1022.9 883.2,1023.0 884.0,1023.7 885.2,1023.6 886.0,1022.9 886.8,1023.5 887.5,1022.3 888.8,1023.0 889.5,1024.0 890.2,1023.1 890.8,1022.9 891.5,1023.6 892.2,1023.4 893.0,1024.1 893.8,1023.6 895.0,1023.3 895.8,1023.8 896.5,1022.8 897.2,1022.3 898.0,1023.7 898.5,1023.0 898.8,1022.9 900.0,1023.6 900.5,1024.4 900.8,1024.4 901.5,1021.2 902.8,1023.8 903.5,1021.8 904.2,1023.2 905.5,1022.3 906.2,1022.7 907.0,1021.6 907.8,1023.1 908.2,1023.4 908.5,1023.3 909.0,1021.9 909.2,1021.8 909.8,1022.1 910.5,1023.4 911.8,1022.4 912.0,1022.5 912.5,1023.3 913.2,1021.4 914.0,1022.2 914.8,1022.4 915.5,1022.2 916.0,1022.7 916.8,1021.2 917.5,1022.2 918.2,1021.0 919.0,1022.9 919.5,1022.8 920.2,1021.0 920.5,1020.9 921.8,1021.8 922.5,1021.3 923.0,1021.4 923.8,1022.0 924.5,1021.4 925.2,1022.8 926.0,1021.6 927.2,1020.8 928.0,1021.1 928.8,1022.1 929.5,1021.8 930.2,1022.3 931.0,1022.0 932.2,1020.7 933.5,1021.1 934.2,1019.9 935.0,1021.2 935.8,1019.4 936.5,1020.7 937.0,1020.5 937.8,1021.1 938.5,1022.5 939.2,1019.8 940.0,1020.8 940.5,1021.8 940.8,1021.5 941.2,1020.0 942.8,1020.3 943.2,1020.6 943.5,1020.4 944.0,1019.2 944.2,1019.2 944.8,1020.1 945.5,1020.3 946.2,1021.4 947.0,1019.6 947.5,1019.2 948.2,1019.5 949.0,1017.5 949.8,1019.5 950.2,1020.0 950.5,1020.0 951.2,1018.9 952.5,1018.5 953.2,1018.6 953.8,1017.8 954.0,1017.8 954.5,1019.1 954.8,1019.0 955.2,1018.0 956.0,1017.7 956.8,1019.0 957.5,1017.8 958.0,1017.5 958.8,1018.6 959.5,1017.8 960.2,1017.9 961.5,1016.1 963.0,1018.0 963.8,1016.3 964.5,1017.2 965.0,1017.3 966.5,1016.8 967.2,1017.3 968.5,1016.4 969.2,1017.4 970.8,1017.1 971.2,1017.3 971.5,1017.0 972.0,1015.4 972.2,1015.5 972.8,1017.0 973.0,1017.1 973.5,1017.1 974.2,1015.9 975.0,1018.5 975.5,1017.7 976.2,1017.2 977.0,1017.3 977.8,1017.9 978.5,1017.7 979.0,1017.0 979.2,1017.0 980.5,1018.6 981.8,1019.1 982.0,1019.0 982.5,1018.1 982.8,1018.1 984.0,1019.3 984.8,1018.8 985.5,1019.4 986.0,1019.0 986.8,1020.0 987.5,1019.9 988.2,1020.4 988.8,1020.2 989.5,1019.2 989.8,1019.2 990.2,1019.5 991.0,1020.6 991.8,1020.1 992.2,1018.9 992.5,1018.8 993.2,1020.7 993.8,1021.5 994.5,1022.0 995.2,1021.8 995.8,1022.1 996.0,1022.1 996.5,1021.3 996.8,1021.2 997.2,1021.3 998.0,1020.8 998.8,1021.1 999.5,1022.6 1000.0,1022.0 1000.8,1022.0 1001.5,1023.4 1002.2,1022.8 1002.8,1021.4 1003.0,1021.1 1003.5,1022.1 1003.8,1022.0 1004.2,1021.1 1005.0,1022.2 1005.8,1020.3 1006.5,1020.9 1007.0,1020.9 1007.8,1022.8 1008.5,1020.3 1009.2,1022.3 1009.8,1022.3 1010.5,1021.7 1010.8,1021.7 1011.2,1022.0 1012.0,1023.3 1012.8,1021.6 1013.2,1021.3 1013.5,1021.6 1014.0,1023.3 1014.2,1023.3 1015.5,1020.6 1016.2,1021.5 1016.8,1021.6 1017.8,1020.6 1019.0,1020.9 1019.8,1020.6 1020.5,1022.1 1021.0,1021.6 1021.8,1019.8 1022.5,1021.0 1023.0,1021.2 1023.2,1021.3 1024.0,1020.4 1025.2,1021.3 1026.0,1019.9 1026.8,1020.8 1027.2,1019.7 1027.5,1019.7 1028.0,1021.3 1028.2,1021.4 1029.0,1020.4 1030.2,1019.7 1030.8,1019.8 1031.0,1020.1 1031.5,1021.5 1031.8,1021.5 1032.2,1020.4 1033.8,1020.5 1034.2,1019.9 1034.5,1020.0 1035.0,1021.1 1035.2,1020.8 1035.8,1019.1 1036.5,1021.3 1037.2,1020.2 1038.0,1020.7 1039.2,1021.1 1040.0,1019.6 1040.8,1020.9 1041.5,1020.4 1042.8,1020.2 1043.5,1021.1 1044.2,1020.7 1045.0,1021.1 1045.5,1020.9 1046.2,1018.9 1047.0,1020.0 1047.8,1020.7 1048.5,1019.3 1049.8,1018.3 1050.5,1021.3 1051.2,1019.2 1051.8,1019.8 1052.0,1019.8 1052.5,1019.1 1052.8,1019.2 1054.0,1020.8 1054.8,1018.6 1055.5,1019.4 1056.8,1018.2 1059.0,1020.2 1059.5,1020.1 1059.8,1019.9 1061.0,1017.9 1061.8,1019.4 1062.5,1018.7 1063.0,1018.6 1063.8,1017.6 1064.5,1018.0 1065.2,1019.2 1066.8,1018.1 1068.0,1016.5 1070.0,1016.4 1071.5,1015.1 1072.2,1016.4 1073.0,1015.4 1073.5,1016.0 1074.2,1015.4 1075.0,1016.0 1075.8,1016.1 1077.0,1016.4 1077.8,1015.6 1078.5,1015.4 1079.8,1017.8 1080.0,1017.9 1080.5,1016.8 1080.8,1016.6 1081.2,1016.8 1082.0,1019.3 1082.8,1016.9 1083.5,1017.9 1085.5,1018.4 1086.2,1020.6 1086.8,1019.6 1087.0,1019.3 1087.5,1019.3 1088.2,1018.1 1089.0,1019.8 1089.8,1019.4 1090.5,1019.5 1091.0,1019.9 1092.5,1019.4 1093.2,1019.7 1094.0,1018.9 1095.2,1018.5 1096.0,1020.2 1096.8,1019.1 1098.8,1020.8 1099.5,1019.3 1100.2,1019.7 1100.8,1019.6 1101.5,1018.8 1101.8,1018.8 1102.2,1019.2 1103.0,1021.6 1103.8,1019.7 1104.5,1020.8 1105.0,1020.3 1105.8,1020.8 1106.0,1020.8 1106.5,1020.6 1107.8,1019.0 1108.0,1019.1 1108.5,1020.4 1108.8,1020.6 1109.2,1020.2 1110.0,1020.1 1110.8,1020.3 1111.5,1019.3 1112.0,1019.8 1112.8,1019.8 1113.5,1018.8 1114.2,1019.0 1114.8,1019.6 1115.0,1019.6 1115.5,1018.5 1115.8,1018.8 1116.2,1020.3 1117.0,1020.5 1117.8,1020.0 1118.2,1020.2 1118.5,1020.0 1119.0,1019.0 1119.2,1019.1 1119.8,1020.2 1120.5,1020.7 1121.2,1020.6 1122.0,1020.9 1122.5,1020.4 1123.2,1021.7 1124.0,1020.8 1125.2,1021.4 1125.5,1021.2 1126.0,1019.8 1126.2,1019.6 1126.8,1020.0 1127.5,1021.5 1128.2,1020.2 1129.5,1021.5 1130.2,1021.3 1133.8,1022.0 1136.8,1023.1 1140.2,1025.4 1142.2,1027.1 1143.2,1028.3 1145.5,1032.2 1147.8,1037.8 1148.8,1042.1 1151.5,1057.3 1153.8,1064.6 1154.8,1067.2 1155.8,1069.1 1157.5,1071.4 1159.5,1073.5 1166.5,1078.7 1169.2,1081.3 1181.5,1095.0 1192.2,1106.4 1200.2,1116.0 1202.2,1119.3 1203.8,1122.7 1205.0,1126.6 1206.2,1131.4 1207.5,1137.5 1208.5,1143.6 1209.5,1153.7 1212.0,1186.1 1215.5,1223.6 1217.5,1242.0 1220.2,1261.8 1223.5,1280.7 1228.0,1301.1 1229.2,1305.9 1230.2,1308.9 1231.2,1310.8 1231.8,1311.3 1232.2,1311.5 1233.0,1311.1 1233.8,1309.9 1235.5,1305.1 1237.5,1296.9 1238.5,1289.2 1242.0,1245.4 1246.8,1175.2 1252.0,1108.6 1252.8,1103.3 1253.8,1098.3 1254.8,1094.9 1255.8,1092.8 1257.0,1091.4 1259.8,1089.5 1261.2,1087.9 1266.5,1079.4 1272.5,1072.3 1279.5,1061.6 1286.5,1051.8 1288.0,1050.2 1293.5,1045.0 1295.5,1043.6 1297.2,1042.9 1298.8,1042.9 1300.2,1043.6 1302.5,1045.7 1304.8,1048.4 1306.8,1052.4 1310.8,1062.3 1317.8,1078.6 1319.8,1081.9 1320.8,1082.9 1321.5,1083.2 1323.5,1083.0 1325.8,1082.1 1328.2,1080.5 1330.5,1078.5 1331.8,1075.4 1334.5,1065.4 1335.5,1062.5 1338.5,1056.4 1340.8,1053.0 1344.0,1050.4 1347.5,1048.4 1353.8,1046.0 1358.2,1044.6 1361.5,1044.2 1364.2,1044.5 1367.5,1045.6 1372.0,1048.0 1372.8,1048.1 1373.5,1049.0 1374.0,1048.4 1374.8,1051.8 1375.5,1049.5 1376.2,1049.4 1376.8,1049.0 1377.0,1049.3 1377.8,1051.9 1378.2,1052.5 1379.0,1051.9 1379.8,1053.5 1380.2,1053.7 1381.0,1052.9 1381.8,1052.7 1382.5,1052.2 1383.2,1053.5 1383.8,1053.2 1384.0,1053.5 1384.5,1055.6 1384.8,1055.8 1385.0,1055.6 1385.5,1055.9 1385.8,1055.5 1386.2,1051.6 1386.5,1051.5 1387.0,1056.6 1387.2,1056.9 1387.8,1054.1 1388.5,1058.7 1389.0,1056.1 1389.2,1055.9 1389.8,1060.0 1390.5,1061.7 1390.8,1061.8 1392.2,1058.2 1392.8,1057.5 1394.0,1064.0 1394.2,1063.2 1394.8,1058.7 1395.5,1056.9 1396.2,1064.6 1396.8,1060.8 1397.0,1060.2 1397.5,1062.6 1397.8,1062.9 1398.2,1062.2 1399.0,1063.9 1399.8,1061.9 1400.2,1062.5 1400.5,1062.1 1401.0,1059.6 1401.2,1059.5 1402.5,1062.2 1403.2,1066.9 1403.7,1065.5" stroke="#c00000"/><path d="M95.0,1069.5 95.8,1069.7 96.5,1068.8 98.0,1070.2 98.5,1070.3 99.2,1069.9 100.0,1070.3 100.5,1069.8 101.2,1069.8 102.0,1069.6 102.8,1068.9 103.5,1069.1 104.0,1069.6 104.8,1069.2 105.5,1070.3 106.8,1070.5 107.0,1070.4 107.5,1069.6 107.8,1069.7 108.2,1070.3 109.0,1069.0 109.8,1069.0 110.5,1069.6 111.0,1069.7 111.8,1068.6 112.5,1068.5 113.2,1069.7 113.8,1069.1 114.0,1069.2 114.5,1070.0 114.8,1070.1 115.2,1069.8 116.5,1069.6 117.5,1069.9 118.0,1069.5 118.8,1070.1 119.5,1069.2 120.2,1069.3 121.0,1069.2 121.5,1069.7 121.8,1069.8 123.0,1069.0 123.8,1070.6 124.5,1069.3 125.0,1069.4 125.8,1069.1 126.5,1070.0 127.8,1066.3 128.5,1068.5 129.0,1068.0 129.8,1066.4 130.0,1066.9 130.5,1070.1 130.8,1070.9 131.2,1071.3 132.0,1071.3 132.8,1068.8 133.2,1069.5 133.5,1069.5 134.0,1068.1 134.2,1068.3 134.8,1069.7 135.5,1068.5 136.2,1070.0 136.8,1069.2 137.0,1069.3 137.5,1070.7 137.8,1070.9 138.2,1070.7 139.0,1071.3 139.8,1067.2 140.2,1066.9 140.5,1067.3 141.0,1069.6 141.2,1069.8 141.8,1068.8 142.5,1070.1 143.8,1069.8 144.5,1070.7 146.0,1070.2 146.8,1068.5 147.2,1071.2 147.5,1071.7 148.0,1070.0 148.2,1070.0 148.8,1071.0 149.5,1070.0 150.2,1071.2 151.0,1069.7 152.2,1069.7 153.0,1068.5 153.8,1068.7 154.5,1069.3 155.0,1069.3 155.8,1068.2 156.5,1072.9 157.2,1068.1 157.8,1068.8 158.0,1069.6 158.5,1072.5 158.8,1072.1 159.2,1068.9 159.5,1069.1 160.0,1070.6 160.5,1070.5 160.8,1070.4 161.2,1069.5 162.0,1067.7 162.2,1067.4 162.8,1067.3 163.5,1069.5 164.0,1069.9 164.2,1069.8 164.8,1067.2 165.0,1066.9 165.5,1069.5 165.8,1069.7 166.2,1068.7 167.0,1070.8 168.5,1068.3 169.0,1068.2 169.8,1069.5 171.2,1073.7 172.0,1070.0 172.5,1069.8 173.2,1070.5 174.0,1069.6 174.8,1070.5 176.0,1069.7 176.8,1068.6 178.2,1070.9 178.8,1070.0 179.0,1070.1 179.5,1071.6 179.8,1071.7 180.2,1071.1 181.0,1069.5 181.8,1071.9 182.2,1069.0 182.5,1068.6 183.0,1070.9 183.8,1072.3 184.5,1069.4 185.2,1069.7 186.0,1071.2 186.5,1071.7 187.2,1070.5 188.0,1070.1 188.8,1071.0 189.5,1069.9 190.0,1068.3 190.2,1068.4 190.8,1069.4 191.5,1069.8 192.2,1067.8 192.8,1069.8 193.0,1070.2 193.5,1069.0 193.8,1069.2 194.2,1070.8 195.0,1067.7 195.8,1068.5 196.2,1067.9 196.5,1068.3 197.0,1071.2 197.2,1071.7 199.0,1072.0 200.0,1071.2 200.5,1071.2 201.2,1067.7 202.0,1070.4 202.8,1069.2 203.2,1069.4 203.5,1069.3 204.0,1068.3 204.8,1071.6 205.0,1071.4 205.5,1070.2 206.2,1068.0 207.0,1070.6 207.5,1070.0 208.2,1067.0 209.0,1069.5 209.8,1068.7 210.5,1066.8 211.0,1067.6 211.8,1070.5 212.0,1070.6 213.2,1070.2 214.0,1068.3 216.0,1070.9 216.8,1068.7 217.2,1068.5 217.5,1068.9 218.0,1071.2 218.2,1071.3 218.8,1070.2 220.2,1068.9 220.8,1069.0 221.0,1069.5 221.5,1071.9 221.8,1072.2 222.2,1071.5 223.0,1069.5 223.5,1068.7 223.8,1068.6 224.5,1072.6 225.2,1072.4 226.5,1071.6 227.2,1067.7 228.0,1069.0 228.5,1071.0 228.8,1071.1 229.2,1070.3 230.0,1071.1 230.8,1070.0 231.2,1070.0 231.5,1070.2 232.0,1071.5 232.2,1071.4 232.8,1069.9 233.5,1071.2 234.2,1071.7 234.8,1071.7 235.5,1073.0 236.2,1073.6 237.0,1069.7 237.8,1071.4 238.2,1071.1 238.5,1071.3 239.0,1072.9 239.2,1072.6 239.8,1070.8 240.5,1074.8 241.2,1073.5 241.8,1073.4 242.0,1073.1 242.5,1071.6 242.8,1071.6 243.2,1072.4 244.0,1071.4 244.8,1073.7 245.2,1074.4 245.5,1074.1 246.0,1071.6 246.2,1071.4 247.5,1073.4 248.0,1073.1 248.2,1073.2 248.8,1075.4 249.0,1075.7 249.5,1074.1 249.8,1074.0 250.2,1074.5 251.0,1072.7 251.8,1076.5 252.5,1074.9 253.0,1075.6 253.2,1075.6 253.8,1075.0 254.5,1071.8 255.8,1073.2 256.5,1075.6 256.8,1075.7 257.2,1074.8 258.0,1076.2 259.2,1076.2 260.0,1077.1 260.2,1077.1 260.8,1076.4 261.5,1073.9 262.2,1075.7 262.8,1078.2 263.0,1078.4 263.5,1075.7 263.8,1075.9 264.2,1078.5 265.0,1079.4 265.8,1076.7 266.2,1077.5 266.5,1077.2 267.0,1074.9 267.2,1075.2 267.8,1077.7 268.0,1077.6 268.5,1076.7 269.2,1075.9 270.5,1077.6 271.2,1077.6 272.0,1078.7 272.8,1077.9 273.2,1079.7 273.5,1079.6 274.0,1076.1 274.2,1076.0 275.0,1078.7 275.5,1079.4 276.2,1080.1 277.0,1079.6 277.5,1080.0 279.0,1080.3 279.8,1080.8 281.8,1080.9 282.5,1081.7 283.2,1081.3 284.5,1082.6 285.2,1082.2 286.0,1082.9 286.8,1082.1 288.0,1083.0 288.8,1083.1 289.5,1083.5 290.2,1084.2 291.0,1083.4 291.5,1083.4 292.2,1084.2 293.0,1083.4 293.8,1084.6 294.2,1085.9 294.5,1086.0 295.0,1085.0 295.2,1085.0 295.8,1085.3 296.5,1085.5 297.2,1086.1 298.5,1085.9 299.2,1084.5 300.2,1086.1 302.0,1086.6 303.5,1085.8 304.2,1086.9 306.2,1087.1 307.0,1087.6 307.8,1087.1 308.5,1087.5 309.0,1087.5 309.8,1087.1 311.0,1087.7 312.0,1087.6 312.5,1088.1 313.2,1087.8 314.8,1088.5 315.5,1087.6 316.0,1087.2 316.8,1088.4 317.5,1088.3 318.8,1089.0 319.0,1089.0 319.5,1088.5 320.2,1088.9 321.0,1088.6 321.8,1088.6 322.5,1089.0 323.0,1089.0 323.8,1089.3 324.5,1089.1 325.2,1089.4 325.8,1089.3 326.5,1088.7 326.8,1088.7 327.2,1089.1 328.0,1089.2 328.8,1090.0 329.5,1089.1 330.2,1089.5 331.5,1088.9 332.8,1089.8 333.5,1089.6 334.2,1090.0 336.5,1089.7 337.8,1090.1 338.5,1090.1 339.2,1089.7 341.2,1090.6 342.0,1090.6 342.8,1090.0 343.5,1090.5 344.0,1090.0 344.2,1090.0 344.8,1090.2 345.5,1090.3 346.2,1091.1 348.2,1090.5 349.0,1091.2 349.8,1090.7 351.0,1091.2 351.8,1090.8 352.5,1091.1 353.2,1090.4 353.8,1091.0 354.0,1091.1 354.5,1090.6 354.8,1090.6 355.2,1091.2 356.8,1091.3 357.2,1091.8 357.5,1091.7 358.0,1090.5 358.2,1090.5 358.8,1091.3 359.5,1091.0 360.2,1091.7 361.0,1091.3 362.2,1091.0 363.0,1091.0 363.8,1091.2 364.2,1090.3 364.5,1090.3 365.0,1091.4 365.2,1091.5 365.8,1091.0 366.5,1091.4 367.2,1090.8 368.0,1091.3 368.5,1091.1 370.0,1091.6 370.8,1091.0 372.0,1091.2 372.8,1091.6 373.5,1090.7 374.2,1091.3 375.8,1090.7 376.2,1090.9 377.0,1090.8 377.8,1091.4 378.5,1090.8 379.0,1091.3 379.8,1090.9 380.5,1091.3 381.2,1090.4 382.5,1091.0 384.0,1090.4 385.2,1091.2 386.8,1090.9 387.5,1091.1 388.2,1090.8 389.0,1091.2 389.5,1091.3 390.2,1090.5 391.0,1091.2 391.8,1091.4 392.5,1091.0 394.5,1091.5 395.2,1091.4 396.0,1090.8 396.5,1091.2 397.2,1090.3 398.0,1091.1 399.2,1091.1 400.0,1090.6 401.0,1091.3 401.5,1091.3 402.8,1090.5 403.0,1090.4 403.5,1090.9 403.8,1090.9 405.0,1090.3 405.8,1090.7 406.2,1091.4 406.5,1091.5 407.0,1090.5 407.2,1090.4 409.0,1091.1 409.2,1091.2 410.0,1090.6 410.5,1090.6 411.2,1091.2 412.0,1091.0 412.8,1091.3 413.5,1090.6 414.8,1091.3 416.2,1090.6 417.0,1091.0 417.5,1090.5 417.8,1090.5 419.0,1091.3 419.8,1091.4 421.0,1091.3 421.8,1090.6 422.5,1090.9 423.2,1091.5 424.0,1091.9 425.2,1090.9 426.0,1090.9 426.8,1091.6 427.2,1091.6 428.0,1090.9 428.2,1090.9 430.2,1092.2 431.0,1091.1 432.2,1091.4 433.0,1090.9 433.8,1090.7 435.2,1091.7 436.5,1091.5 438.0,1090.5 440.0,1090.6 440.8,1089.6 441.5,1089.4 442.0,1088.6 442.8,1088.1 443.5,1088.5 444.2,1087.9 445.0,1087.8 445.5,1087.5 446.2,1088.5 447.0,1087.6 447.8,1088.2 448.5,1087.8 449.8,1088.7 451.0,1088.3 452.0,1088.5 452.5,1088.5 453.2,1088.7 454.0,1087.7 454.8,1088.7 456.0,1087.9 456.8,1088.4 458.2,1088.3 459.0,1088.5 459.5,1087.9 460.2,1087.7 461.8,1088.6 463.8,1088.1 465.2,1088.6 466.0,1088.1 468.0,1088.5 472.0,1088.3 473.0,1088.9 474.0,1090.0 475.2,1092.1 476.8,1095.1 482.8,1116.2 485.8,1124.7 486.5,1126.2 487.2,1126.8 488.0,1126.4 488.8,1125.4 494.8,1112.2 495.8,1110.4 496.8,1109.3 497.5,1109.2 498.5,1109.7 504.5,1115.1 505.5,1115.8 506.2,1116.0 507.5,1115.6 510.2,1113.0 511.5,1112.2 523.2,1111.6 524.8,1111.4 526.2,1110.9 529.5,1109.1 533.2,1105.9 534.5,1103.9 537.0,1098.4 538.2,1096.7 540.8,1095.5 542.0,1095.1 542.8,1094.6 543.5,1095.1 544.2,1095.2 544.8,1094.3 545.0,1094.2 545.5,1095.1 545.8,1095.0 546.2,1094.1 547.0,1093.8 547.8,1092.6 548.5,1093.2 549.8,1092.3 550.5,1092.0 551.2,1091.0 552.0,1090.4 553.2,1088.6 554.8,1087.7 556.8,1085.5 557.5,1085.3 558.8,1084.4 559.0,1084.3 559.8,1084.6 561.0,1083.7 563.0,1084.2 563.8,1082.9 565.2,1083.5 566.0,1083.5 567.2,1082.5 568.8,1082.6 570.8,1081.8 571.5,1083.2 572.2,1082.1 572.8,1082.0 573.8,1082.1 575.0,1081.6 575.8,1081.6 576.5,1081.2 578.0,1081.5 578.5,1081.3 579.2,1080.6 579.8,1081.3 580.0,1081.3 581.2,1080.0 582.0,1080.8 583.2,1080.4 584.0,1079.8 584.8,1080.5 585.5,1080.1 587.5,1079.7 588.2,1080.3 589.0,1079.2 590.5,1079.6 591.0,1079.4 591.8,1078.7 592.5,1078.9 594.0,1078.2 595.2,1079.0 596.0,1078.7 596.8,1078.9 598.0,1078.2 598.8,1078.5 599.5,1077.6 600.2,1078.8 601.0,1078.2 601.5,1078.8 602.2,1077.8 604.2,1078.0 605.2,1077.5 605.8,1077.6 606.5,1078.3 607.2,1077.8 608.5,1078.7 609.2,1077.5 610.0,1077.9 610.8,1078.7 611.5,1078.3 612.0,1077.6 612.2,1077.6 613.5,1078.6 614.2,1077.1 615.0,1078.1 615.5,1078.3 616.2,1077.8 617.0,1077.6 617.8,1078.1 618.2,1077.4 618.5,1077.4 619.0,1078.0 619.8,1078.3 621.2,1077.3 622.0,1078.4 622.5,1077.9 623.2,1078.0 624.0,1077.5 625.2,1078.1 625.5,1078.1 626.0,1077.3 627.5,1076.9 628.2,1077.9 628.8,1077.9 629.5,1077.4 629.8,1077.5 630.2,1077.8 631.0,1077.7 631.8,1078.4 632.5,1077.3 633.0,1077.7 633.8,1077.5 634.5,1078.4 635.8,1077.3 636.0,1077.2 636.8,1077.7 638.0,1077.2 638.8,1077.7 640.2,1077.1 640.8,1077.3 641.5,1078.4 643.0,1077.3 644.5,1077.4 645.8,1076.9 646.2,1077.6 646.5,1077.7 647.0,1077.0 647.2,1077.1 647.8,1077.7 648.5,1077.4 649.2,1077.7 650.0,1077.0 650.5,1077.1 652.5,1076.7 652.8,1076.6 653.2,1077.3 653.5,1077.4 654.0,1076.6 654.2,1076.7 654.8,1077.5 655.5,1077.1 656.2,1076.5 657.0,1077.2 658.2,1076.4 659.0,1076.8 660.5,1076.3 661.8,1076.6 662.5,1076.3 664.0,1076.6 666.0,1075.7 666.8,1076.2 668.0,1076.0 669.0,1076.4 669.5,1076.4 670.8,1075.8 671.8,1076.0 673.0,1075.9 673.8,1075.2 674.5,1075.8 675.0,1075.4 675.8,1075.7 677.2,1075.6 678.0,1075.9 678.5,1075.5 679.2,1075.5 680.0,1075.0 680.8,1075.2 682.8,1075.2 683.5,1073.1 684.2,1075.5 685.0,1075.2 685.5,1074.4 685.8,1074.4 686.2,1075.1 687.0,1075.4 688.5,1075.1 689.8,1074.6 690.5,1075.6 691.2,1075.0 692.0,1075.3 692.5,1074.7 693.2,1075.0 694.5,1074.9 695.2,1074.3 695.5,1074.3 696.0,1075.3 696.2,1075.3 697.0,1074.5 697.5,1074.3 698.2,1074.5 699.0,1074.0 699.5,1074.6 700.2,1074.4 701.2,1074.7 702.0,1075.5 702.8,1076.0 703.5,1074.2 704.2,1075.4 704.8,1074.1 705.0,1073.8 705.5,1074.6 705.8,1074.4 706.2,1073.4 707.0,1075.3 707.8,1073.8 708.2,1074.9 708.5,1074.9 709.0,1072.8 709.2,1073.1 709.8,1075.5 710.5,1074.0 711.2,1074.4 711.8,1074.3 712.5,1072.7 712.8,1072.6 713.2,1073.3 714.0,1073.3 714.8,1073.7 715.5,1072.5 717.5,1074.8 718.2,1074.2 718.8,1073.0 719.0,1073.0 719.5,1075.0 719.8,1075.4 720.2,1075.1 721.0,1075.2 721.8,1073.2 722.5,1072.7 723.0,1072.8 723.8,1074.8 724.5,1072.6 725.2,1071.4 726.0,1074.0 726.5,1073.0 726.8,1072.9 727.2,1073.3 728.0,1073.0 728.8,1074.2 729.5,1072.9 730.8,1072.6 731.5,1074.9 732.2,1074.5 733.0,1072.9 733.5,1072.8 734.2,1073.1 735.0,1074.4 735.8,1072.5 736.5,1074.4 737.0,1073.5 737.8,1070.9 739.2,1073.0 740.0,1075.1 740.8,1074.2 742.0,1072.0 742.8,1072.9 743.2,1073.0 744.2,1072.6 745.5,1073.5 746.8,1071.9 747.0,1072.0 747.5,1072.8 747.8,1072.6 748.2,1071.5 749.0,1072.3 749.8,1073.7 751.0,1071.7 751.2,1071.8 751.8,1072.5 752.5,1072.4 753.2,1072.7 753.8,1073.3 754.0,1073.3 754.5,1072.3 755.2,1071.4 756.0,1075.5 756.8,1071.8 757.5,1073.0 758.0,1072.8 758.8,1072.2 759.5,1072.9 760.8,1072.6 761.5,1073.0 762.2,1071.8 763.0,1073.2 763.8,1071.7 764.5,1073.3 765.0,1073.5 765.8,1070.9 766.5,1074.1 767.2,1071.7 768.0,1072.1 768.5,1071.6 768.8,1071.6 770.0,1072.3 770.8,1071.7 771.2,1072.7 771.5,1072.8 772.0,1071.7 772.2,1071.6 772.8,1072.3 773.5,1071.1 774.2,1071.3 775.0,1072.2 775.5,1072.3 776.2,1071.7 777.0,1072.3 777.5,1072.4 777.8,1072.3 778.5,1071.5 779.0,1071.9 779.2,1071.8 779.8,1071.2 780.5,1070.8 781.8,1071.7 782.5,1073.8 782.8,1073.8 783.2,1072.5 784.0,1072.0 784.8,1070.0 786.0,1072.1 786.8,1072.4 787.5,1071.9 788.8,1070.2 789.0,1070.1 789.5,1070.3 790.2,1071.9 791.0,1072.2 791.8,1073.3 792.5,1071.3 793.0,1072.0 793.2,1071.9 793.8,1071.2 795.2,1071.8 795.8,1071.4 796.0,1071.6 796.5,1072.8 796.8,1072.6 797.2,1071.0 798.0,1072.5 798.8,1071.6 799.2,1071.4 799.5,1071.5 800.0,1072.5 800.2,1072.4 800.8,1071.3 801.5,1072.0 802.2,1071.8 802.8,1072.2 803.0,1072.1 803.5,1070.9 803.8,1071.0 804.2,1071.9 805.0,1072.2 805.8,1071.1 807.0,1070.8 807.8,1071.6 808.5,1071.0 809.2,1072.2 810.0,1071.6 810.8,1071.5 812.8,1071.9 814.0,1072.7 814.8,1072.2 815.5,1072.3 816.2,1073.3 816.8,1073.3 818.2,1071.2 819.0,1073.2 819.8,1071.5 821.0,1071.7 821.8,1072.1 822.5,1070.5 824.5,1075.0 824.8,1074.8 825.2,1073.6 826.8,1074.0 827.5,1072.8 828.0,1072.7 829.5,1074.8 830.2,1074.1 831.0,1074.3 833.0,1074.0 833.8,1075.6 834.2,1075.5 835.0,1074.9 835.2,1074.9 837.0,1076.1 838.0,1077.2 838.5,1077.2 839.2,1075.8 840.0,1076.1 840.8,1075.8 841.5,1076.9 842.0,1077.1 842.8,1075.0 843.5,1076.9 844.0,1077.6 844.2,1077.7 844.8,1075.9 845.0,1075.8 845.5,1077.7 845.8,1078.1 846.2,1077.9 847.0,1076.5 847.5,1076.2 847.8,1076.3 848.2,1078.1 848.5,1078.4 849.0,1077.1 849.8,1076.2 850.5,1077.4 851.2,1076.2 851.8,1076.5 852.0,1076.9 852.5,1078.7 852.8,1078.6 853.2,1077.3 854.0,1077.4 854.8,1076.1 855.2,1076.0 855.5,1076.3 856.0,1078.1 856.2,1078.4 856.8,1078.0 857.5,1078.5 858.2,1078.4 859.5,1077.2 860.2,1075.6 861.0,1078.3 861.8,1077.6 862.2,1079.1 862.5,1079.2 863.2,1077.0 864.0,1076.9 865.2,1075.9 866.0,1076.8 866.5,1077.0 867.2,1076.8 868.8,1075.8 869.5,1077.2 870.0,1077.0 870.8,1075.5 871.5,1074.7 872.2,1075.1 872.8,1075.0 873.0,1075.2 873.5,1076.2 873.8,1076.0 874.2,1074.6 875.0,1075.5 875.8,1074.1 876.5,1075.1 877.0,1076.8 877.2,1076.4 877.8,1074.2 878.0,1074.2 878.5,1074.8 879.2,1073.6 880.0,1075.1 881.2,1073.9 882.0,1075.0 882.8,1074.3 883.2,1074.1 884.2,1072.3 884.8,1072.4 885.5,1076.0 886.2,1072.1 887.0,1074.3 887.5,1074.2 888.2,1072.5 889.5,1071.4 889.8,1071.4 890.5,1072.9 891.0,1072.7 892.0,1071.3 892.5,1071.1 893.2,1072.3 894.0,1071.4 894.5,1071.7 895.2,1070.5 896.0,1072.1 896.8,1071.8 898.0,1070.7 898.8,1071.5 899.5,1072.0 900.2,1072.0 900.8,1071.8 901.5,1071.1 902.2,1072.2 903.0,1072.7 903.8,1071.1 904.2,1070.7 904.5,1070.9 905.0,1072.7 905.2,1072.8 905.8,1072.0 906.5,1070.0 907.2,1072.4 908.5,1071.2 909.2,1071.8 910.0,1070.8 910.8,1071.0 911.2,1070.5 911.5,1070.7 912.0,1072.5 912.2,1072.5 912.8,1071.4 913.5,1072.0 914.0,1072.1 914.2,1072.0 914.8,1070.1 915.0,1069.9 915.5,1071.6 915.8,1071.8 916.2,1070.9 917.0,1073.0 917.8,1070.9 918.5,1072.8 919.0,1073.3 919.8,1072.3 920.5,1072.9 921.2,1073.2 922.0,1072.2 922.8,1071.7 923.2,1070.9 924.0,1073.8 924.8,1073.1 925.2,1072.9 926.0,1071.0 926.2,1071.3 926.8,1073.1 927.5,1072.0 929.0,1072.8 929.5,1073.3 930.2,1072.3 931.0,1071.9 931.8,1073.0 932.5,1072.7 933.0,1072.2 933.8,1074.4 934.5,1073.7 935.2,1071.3 936.0,1070.8 936.5,1071.1 938.8,1074.5 939.5,1073.1 940.0,1072.7 940.8,1073.3 941.5,1073.4 942.2,1071.6 942.8,1073.2 943.0,1073.4 943.5,1072.2 943.8,1072.2 944.2,1073.2 945.0,1074.2 945.8,1073.7 947.0,1075.0 947.8,1074.8 948.5,1074.9 949.2,1075.6 949.8,1074.7 950.0,1074.7 950.5,1076.3 950.8,1076.3 951.2,1075.2 952.0,1074.1 952.8,1075.9 953.5,1074.9 954.0,1073.0 954.2,1073.6 954.8,1076.7 955.0,1076.7 955.5,1075.7 956.2,1075.2 957.0,1076.6 958.2,1076.5 959.0,1078.0 959.8,1077.5 960.5,1076.5 961.0,1076.3 961.8,1074.8 962.5,1077.6 963.2,1077.5 964.0,1078.4 964.5,1077.9 964.8,1078.0 966.0,1079.2 966.8,1077.7 967.2,1077.5 967.5,1077.6 968.0,1078.3 968.2,1078.3 968.8,1077.6 969.5,1078.6 970.2,1078.8 970.8,1080.0 971.0,1080.2 971.5,1079.1 971.8,1079.3 972.2,1080.4 973.0,1079.2 973.8,1079.7 974.5,1079.7 975.2,1080.1 976.5,1079.7 977.0,1079.0 977.2,1078.9 978.0,1082.0 978.5,1081.7 979.2,1083.1 979.5,1083.3 980.0,1083.4 980.8,1081.7 981.2,1083.7 981.5,1084.1 982.0,1082.8 982.8,1081.9 984.2,1083.3 984.8,1082.3 985.0,1082.4 985.5,1084.4 985.8,1084.7 986.2,1084.4 987.0,1085.5 988.2,1085.7 989.0,1086.3 989.8,1086.4 990.5,1084.9 991.2,1087.6 992.0,1086.2 993.2,1087.4 994.0,1086.3 994.8,1086.5 995.2,1085.7 995.5,1085.8 996.0,1087.4 996.2,1087.8 996.8,1087.8 997.5,1086.8 998.2,1086.4 998.8,1085.2 999.0,1085.2 999.5,1087.2 999.8,1087.3 1000.2,1086.4 1001.0,1086.7 1002.5,1086.9 1003.8,1087.6 1004.5,1087.2 1005.2,1086.2 1006.0,1087.0 1006.5,1086.9 1007.2,1086.2 1008.0,1086.8 1008.8,1087.8 1010.0,1087.5 1010.8,1087.5 1011.5,1085.3 1012.2,1087.2 1012.8,1088.0 1013.0,1088.0 1013.8,1086.6 1014.2,1086.6 1015.0,1086.2 1015.8,1087.1 1016.5,1086.7 1017.0,1086.0 1017.2,1086.1 1017.8,1086.8 1018.5,1086.7 1019.2,1087.0 1020.0,1086.9 1020.5,1086.1 1020.8,1086.2 1021.2,1086.9 1023.2,1086.2 1024.0,1086.4 1025.5,1085.0 1026.2,1086.5 1027.0,1084.5 1027.5,1085.2 1028.2,1085.4 1029.8,1083.8 1030.5,1083.4 1031.0,1082.3 1031.2,1082.4 1031.8,1083.4 1032.5,1082.1 1033.2,1082.5 1033.8,1081.9 1034.0,1081.9 1034.5,1082.9 1034.8,1082.9 1035.2,1082.1 1035.5,1082.1 1036.0,1082.3 1036.8,1083.4 1037.2,1081.9 1037.5,1081.6 1038.0,1082.0 1038.8,1080.5 1039.5,1082.0 1040.8,1081.8 1041.0,1081.9 1042.2,1083.6 1043.0,1083.0 1043.8,1083.0 1044.2,1083.2 1044.5,1082.9 1045.0,1081.5 1045.2,1081.3 1045.8,1081.6 1047.2,1083.7 1048.0,1081.7 1048.5,1081.2 1049.5,1082.6 1050.8,1083.9 1051.5,1083.7 1052.0,1084.0 1052.8,1085.9 1053.5,1086.4 1054.2,1089.3 1055.5,1091.5 1056.2,1093.6 1057.0,1095.0 1057.8,1092.8 1058.5,1093.4 1059.0,1093.2 1059.8,1092.3 1060.0,1092.6 1060.2,1093.8 1063.2,1094.1 1064.2,1094.3 1064.5,1094.5 1065.2,1096.3 1067.2,1104.2 1068.0,1106.3 1069.0,1107.5 1071.0,1109.3 1072.8,1110.6 1074.5,1111.5 1077.2,1112.3 1078.2,1112.3 1078.8,1111.9 1080.0,1109.5 1082.8,1100.9 1084.0,1098.0 1084.5,1097.3 1085.0,1097.1 1086.0,1097.3 1087.0,1097.9 1088.2,1099.1 1089.5,1100.6 1093.5,1107.0 1094.5,1109.4 1097.2,1118.3 1098.0,1119.9 1098.8,1120.7 1099.5,1120.5 1100.2,1119.5 1103.5,1112.5 1104.2,1111.3 1105.2,1110.2 1107.8,1108.2 1114.2,1104.0 1116.2,1102.9 1118.0,1102.2 1119.2,1101.9 1120.5,1101.9 1123.2,1102.6 1126.0,1103.8 1132.5,1107.4 1135.8,1108.6 1138.0,1108.9 1141.8,1108.3 1143.0,1108.3 1143.5,1108.8 1144.2,1110.3 1145.8,1114.9 1146.8,1118.8 1147.8,1124.8 1150.5,1147.0 1153.2,1176.2 1156.5,1207.4 1157.8,1215.9 1159.0,1220.3 1160.8,1225.3 1162.2,1228.6 1163.8,1230.6 1164.5,1231.1 1165.0,1231.2 1165.5,1230.9 1166.2,1229.5 1168.5,1222.9 1169.5,1221.0 1170.0,1220.8 1170.8,1221.2 1173.8,1225.7 1174.5,1226.2 1175.0,1226.3 1175.8,1225.9 1176.5,1225.0 1179.5,1220.0 1180.8,1218.4 1181.8,1218.0 1182.2,1218.3 1182.8,1219.0 1183.5,1220.7 1184.2,1223.3 1186.0,1231.9 1187.0,1246.6 1187.5,1250.1 1188.5,1253.2 1190.8,1257.1 1191.8,1259.9 1195.2,1278.3 1197.8,1287.2 1201.2,1296.6 1204.2,1302.2 1205.2,1304.5 1206.5,1308.3 1207.5,1312.4 1209.0,1321.7 1211.5,1359.2 1213.5,1380.7 1215.5,1398.1 1217.2,1410.5 1219.5,1424.1 1221.5,1435.1 1225.2,1452.1 1227.0,1463.8 1228.2,1476.6 1229.5,1492.8 1231.2,1523.5 1232.0,1526.9 1232.8,1529.1 1235.2,1533.5 1236.5,1537.0 1239.5,1552.7 1241.5,1562.1 1242.2,1564.9 1243.0,1566.3 1243.5,1565.9 1244.0,1564.5 1245.2,1557.6 1246.0,1550.4 1246.5,1541.2 1248.5,1491.4 1249.5,1435.0 1250.0,1418.0 1253.8,1335.6 1254.2,1328.1 1255.2,1324.5 1255.8,1323.7 1256.0,1323.8 1256.2,1324.3 1257.0,1328.7 1258.8,1343.6 1260.5,1351.9 1261.2,1354.3 1261.8,1355.2 1262.0,1355.3 1262.5,1355.1 1263.5,1353.3 1264.5,1350.3 1266.5,1342.8 1268.2,1333.5 1272.2,1307.4 1273.5,1297.3 1275.2,1278.4 1276.0,1272.2 1276.8,1268.6 1278.0,1264.3 1278.8,1260.3 1279.8,1250.9 1282.2,1221.0 1285.0,1199.3 1286.2,1191.3 1287.2,1186.3 1289.5,1177.2 1290.8,1173.8 1291.5,1173.0 1291.8,1173.2 1292.0,1174.1 1293.5,1186.1 1293.8,1187.3 1294.0,1187.7 1294.2,1187.5 1294.8,1185.8 1295.2,1182.8 1297.0,1168.7 1297.8,1164.3 1298.2,1162.9 1299.8,1160.3 1300.8,1159.3 1301.5,1159.1 1302.2,1159.5 1303.2,1161.0 1306.0,1167.0 1307.0,1168.8 1308.2,1170.2 1311.0,1172.8 1312.5,1174.9 1313.2,1176.4 1313.8,1178.1 1315.0,1183.7 1319.0,1207.8 1322.2,1229.1 1326.0,1247.6 1328.0,1255.0 1329.0,1257.1 1329.5,1257.7 1330.0,1257.8 1330.8,1257.6 1331.5,1257.1 1333.2,1255.2 1334.2,1252.5 1337.0,1240.6 1337.8,1239.1 1338.2,1239.0 1338.8,1239.3 1340.0,1241.1 1341.5,1244.5 1342.2,1248.0 1344.5,1261.5 1346.2,1267.5 1347.0,1269.3 1347.5,1269.9 1347.8,1270.0 1348.2,1269.8 1349.2,1268.1 1350.2,1265.1 1351.2,1261.2 1352.2,1252.3 1354.2,1227.5 1356.8,1204.4 1357.5,1200.2 1358.5,1197.2 1359.8,1194.4 1360.2,1193.7 1360.8,1193.4 1361.5,1193.6 1362.5,1194.6 1366.5,1201.9 1367.5,1202.9 1368.2,1203.2 1369.0,1202.9 1370.0,1201.7 1372.2,1198.0 1373.5,1195.1 1374.2,1196.4 1375.0,1193.4 1375.5,1194.5 1375.8,1194.1 1376.2,1192.3 1376.5,1192.3 1377.0,1192.8 1377.8,1191.8 1378.5,1190.1 1379.8,1191.1 1380.5,1187.4 1381.8,1187.1 1382.5,1188.8 1382.8,1188.7 1384.0,1186.3 1385.2,1187.1 1385.5,1187.1 1386.0,1186.6 1386.2,1186.7 1387.5,1188.3 1388.8,1190.1 1389.0,1190.3 1389.5,1189.9 1390.2,1190.9 1391.0,1191.0 1393.0,1196.2 1393.8,1200.0 1394.5,1201.2 1395.2,1205.8 1396.0,1206.9 1396.5,1208.3 1396.8,1208.3 1397.2,1207.6 1398.5,1209.5 1398.8,1209.7 1399.2,1209.7 1399.5,1210.0 1400.0,1211.6 1400.2,1211.8 1400.8,1211.7 1401.5,1212.1 1402.0,1213.5 1403.0,1215.1 1403.8,1217.6 1404.0,1218.9 1404.2,1224.4 1404.6,1250.4" stroke="#4f6228"/><path d="M95.0,965.0 95.8,965.0 96.5,965.5 97.0,965.3 97.8,964.1 98.5,965.0 99.2,964.7 99.8,965.0 100.0,964.9 100.5,964.2 100.8,964.3 101.2,965.1 102.0,965.2 102.8,965.9 103.5,965.2 104.0,965.3 104.8,964.2 105.5,966.4 106.2,964.0 107.0,965.6 107.8,964.8 108.5,964.6 109.8,964.7 110.5,965.3 111.0,965.1 111.8,965.9 112.5,964.0 113.2,965.1 113.8,964.7 114.0,964.8 114.5,965.5 115.2,964.0 116.0,965.0 116.5,965.2 116.8,965.2 117.2,964.5 117.5,964.5 118.0,965.6 118.2,965.7 118.8,965.4 119.5,965.8 120.0,965.8 120.8,964.4 121.5,964.0 122.0,962.7 122.2,963.1 122.8,965.4 123.0,965.5 123.5,964.8 124.2,966.8 125.0,965.5 125.5,965.6 126.2,966.8 127.8,965.4 129.0,965.3 129.8,966.8 130.0,966.8 131.2,966.0 131.8,966.5 132.0,966.3 132.5,965.0 132.8,965.1 133.2,966.1 134.0,963.7 134.8,967.3 135.5,965.7 136.0,965.8 136.8,966.4 137.5,965.6 138.0,965.4 138.2,965.5 138.8,966.9 139.0,967.1 140.2,964.6 141.0,967.1 141.8,963.8 142.2,967.0 142.5,967.7 143.0,965.9 143.2,965.6 143.8,965.9 144.5,968.9 145.2,968.6 146.0,966.1 148.0,968.2 148.8,965.8 149.5,966.4 150.0,967.4 150.2,967.4 150.8,966.5 151.5,968.3 152.2,966.7 152.8,965.1 153.0,964.6 153.5,964.9 154.2,962.8 155.0,965.9 155.8,967.8 156.2,965.5 156.5,965.3 157.0,967.6 157.2,968.0 157.8,967.8 158.5,966.4 159.8,966.6 160.5,965.6 160.8,965.6 161.2,966.2 162.0,966.6 162.8,967.6 163.2,967.8 163.5,967.6 164.0,966.2 164.2,966.4 164.8,967.9 165.5,966.0 167.0,967.6 167.5,967.2 168.2,967.1 169.0,967.7 169.8,966.7 170.5,966.6 171.0,966.9 171.8,968.8 172.5,967.5 173.2,970.1 174.0,967.5 174.5,964.4 174.8,964.6 176.0,970.2 176.8,968.0 178.0,967.1 178.8,969.8 179.0,969.9 180.8,969.0 181.0,969.2 181.5,970.2 181.8,970.2 182.2,969.7 183.0,966.9 183.8,969.6 184.5,968.8 185.0,968.6 185.8,969.7 186.0,969.5 186.5,968.8 187.2,965.3 188.0,970.8 188.5,970.4 189.5,968.6 190.0,968.4 190.8,969.1 191.2,967.7 191.5,967.5 192.0,969.1 192.2,969.2 192.8,968.7 193.5,968.5 194.2,967.8 194.8,968.0 195.5,970.1 195.8,970.6 196.2,970.8 198.2,968.0 198.5,968.0 199.0,969.6 199.8,971.0 200.5,966.6 201.2,970.0 201.8,966.8 202.0,966.1 202.5,967.9 203.2,969.1 204.0,966.7 204.5,966.5 204.8,966.6 205.5,968.8 206.0,969.4 206.8,967.8 207.5,970.0 208.2,967.3 208.8,969.7 209.0,970.1 209.8,968.3 210.2,968.2 211.0,968.6 211.8,968.3 212.5,970.1 213.0,970.4 213.8,968.3 215.2,965.7 216.0,966.2 216.5,966.9 218.5,966.8 219.2,967.2 219.5,967.0 220.0,965.1 220.2,964.8 220.8,965.1 221.5,967.9 222.2,967.3 222.8,966.0 223.0,965.9 223.5,967.6 223.8,967.4 224.2,965.4 224.5,965.3 225.0,965.7 225.8,963.8 226.5,966.9 227.0,966.0 227.2,966.1 227.8,967.1 228.0,967.1 229.2,965.8 230.0,966.1 230.5,967.0 230.8,966.8 231.2,965.5 232.0,965.4 232.8,965.7 233.5,966.6 234.0,966.7 234.8,968.0 235.5,965.4 236.2,967.1 236.8,965.2 237.0,964.9 237.5,966.1 237.8,966.2 238.2,965.8 239.0,967.9 240.2,965.3 240.5,965.2 241.0,966.2 241.2,966.3 241.8,966.1 242.5,965.2 243.2,965.2 243.8,964.6 244.0,965.1 244.5,968.7 244.8,968.7 245.2,966.2 246.0,968.7 246.8,964.2 247.5,964.5 248.2,965.7 248.8,965.7 249.5,967.0 250.2,964.7 251.5,967.9 252.2,965.0 253.0,967.3 253.8,964.9 254.5,966.6 255.0,966.7 255.2,967.1 255.8,968.4 256.5,965.3 257.8,967.5 258.0,967.3 258.5,965.2 258.8,965.2 259.2,966.3 260.0,965.3 260.8,965.7 261.5,967.5 262.0,967.5 262.8,969.9 263.5,968.6 264.2,968.3 265.0,966.5 265.5,966.1 266.2,967.0 267.0,963.9 267.8,969.0 268.5,966.0 269.0,965.7 269.8,965.8 270.5,968.3 271.0,968.7 271.2,968.7 272.0,966.9 272.5,967.7 272.8,967.7 273.2,967.3 274.0,966.0 274.8,967.6 275.2,967.5 276.0,963.6 276.2,964.3 276.8,968.6 277.5,965.5 278.2,967.9 279.0,966.3 280.2,966.8 281.0,968.5 281.8,965.7 283.0,970.9 283.2,970.6 283.8,968.3 284.8,967.2 285.0,967.2 285.2,967.4 286.2,968.8 288.2,967.8 288.5,967.9 289.0,968.7 289.2,968.7 289.8,968.2 291.2,968.8 291.8,969.4 292.0,969.4 292.5,968.7 293.2,968.7 294.0,965.8 294.8,969.3 295.5,969.1 296.0,968.7 296.8,967.2 297.5,968.3 298.2,968.8 298.8,969.9 299.0,970.0 299.8,969.2 301.8,969.6 302.5,968.0 303.0,968.2 303.8,968.0 304.5,968.6 305.2,968.3 306.0,968.8 306.5,968.2 307.2,968.8 308.0,968.2 308.8,971.8 309.2,969.2 309.5,968.7 310.0,970.3 310.2,970.5 310.8,970.0 311.5,967.9 312.2,969.4 313.0,969.0 313.5,967.9 313.8,968.0 314.2,969.0 315.0,968.6 315.8,968.8 316.5,968.1 317.8,968.8 319.2,968.1 320.0,968.2 320.5,967.8 321.2,968.5 322.0,966.5 322.8,969.2 323.5,968.3 324.0,968.5 324.8,969.4 325.5,967.2 326.2,969.4 327.0,967.3 327.5,968.1 328.2,968.1 329.0,968.5 330.0,967.6 332.8,968.0 334.2,967.3 335.0,967.5 335.5,966.9 335.8,966.8 337.0,967.6 337.8,967.2 338.5,966.3 339.8,967.1 340.5,966.9 341.2,967.4 342.0,965.8 343.2,966.2 344.0,965.9 344.8,966.2 346.0,966.2 346.8,966.0 348.2,966.1 349.0,965.7 349.5,964.8 349.8,965.0 350.2,966.0 351.0,965.6 352.2,965.5 353.0,964.8 353.8,965.4 354.5,964.9 355.2,964.7 355.8,965.4 356.0,965.4 356.5,964.8 356.8,964.8 358.5,965.4 358.8,965.3 359.5,964.0 360.8,964.8 361.5,964.2 362.2,963.2 363.0,964.4 364.2,964.6 365.0,964.4 365.8,964.0 366.5,964.2 367.8,963.8 369.0,964.0 370.0,963.6 370.8,964.2 372.0,964.0 372.8,962.7 373.5,963.7 374.8,963.2 375.5,963.8 376.2,963.0 377.0,963.9 378.2,963.2 379.0,964.0 380.5,963.4 381.0,962.9 382.5,963.9 383.2,963.7 383.8,963.0 384.0,962.9 384.5,963.7 385.2,963.9 387.5,962.7 388.8,963.1 389.5,963.5 390.2,963.5 391.5,962.7 392.2,963.1 393.0,962.8 393.8,963.8 394.5,962.9 395.0,963.4 395.8,963.6 396.5,962.9 397.2,963.7 398.5,962.7 398.8,962.6 400.8,963.6 401.2,962.8 401.5,962.7 402.0,963.4 402.2,963.5 403.5,963.0 404.2,963.3 405.5,963.4 406.2,963.8 407.0,963.2 407.8,964.3 409.8,963.0 410.5,963.8 411.2,963.7 413.2,964.8 414.0,964.0 414.8,964.5 415.5,964.1 416.0,964.1 416.8,964.9 417.5,964.4 419.0,964.5 420.2,965.0 421.8,964.5 422.5,965.0 423.2,964.7 424.5,965.3 425.2,965.2 425.8,964.6 426.0,964.6 426.5,965.8 426.8,966.0 427.2,965.7 428.5,966.4 428.8,966.4 429.5,965.2 431.5,966.0 432.2,965.5 433.0,965.7 433.5,966.1 434.2,965.5 435.5,966.1 435.8,966.2 436.5,965.7 437.2,966.0 438.5,964.8 439.2,965.0 439.8,964.9 442.0,964.2 444.0,963.2 446.2,963.1 446.8,963.7 447.0,963.6 447.5,962.7 447.8,962.7 448.2,963.3 449.0,962.6 450.2,963.5 450.5,963.6 451.0,963.3 451.8,963.9 452.5,963.0 454.5,963.5 456.0,963.4 457.5,964.0 458.0,963.8 461.0,963.4 462.2,964.0 463.0,963.3 463.8,964.4 464.5,964.0 465.2,964.0 466.5,964.7 467.8,964.7 468.8,965.5 469.2,965.5 470.0,964.7 470.2,965.0 473.0,965.8 476.0,967.3 477.5,968.3 478.2,969.1 479.8,971.8 481.8,976.8 484.8,989.2 487.2,997.0 488.0,998.8 488.8,999.8 489.2,1000.0 489.5,999.8 490.0,998.8 492.0,991.3 493.5,988.0 495.0,985.7 495.8,985.3 496.2,985.5 497.5,987.3 500.5,994.5 504.8,1007.4 505.8,1009.8 506.5,1011.1 507.2,1011.7 508.0,1011.6 510.5,1009.7 511.5,1009.2 512.5,1009.3 513.8,1009.8 517.0,1011.9 518.0,1012.8 522.8,1018.9 524.2,1020.5 525.5,1021.4 526.8,1021.7 527.8,1021.1 528.8,1019.6 532.0,1012.6 533.2,1009.2 536.2,999.5 538.0,995.4 540.8,992.2 541.8,991.3 542.8,990.9 543.5,990.8 544.5,991.0 548.5,992.9 549.2,993.0 549.8,992.7 550.8,990.7 553.0,984.0 555.8,977.6 557.2,974.6 558.5,973.1 561.2,971.3 564.8,969.8 572.2,967.7 572.8,967.7 573.5,968.1 574.2,966.9 575.0,967.7 575.5,967.4 576.2,967.8 577.8,967.5 578.5,968.1 579.0,968.1 579.8,968.5 580.5,968.0 581.2,968.2 582.0,968.1 582.5,968.6 583.2,968.1 584.8,968.6 588.2,967.5 589.5,966.3 590.2,966.9 591.0,965.9 591.8,966.4 592.2,965.8 592.5,965.9 593.0,967.2 593.2,967.0 593.8,965.5 594.5,964.8 595.2,965.0 596.0,963.8 596.5,964.0 598.0,963.6 598.8,962.8 599.2,962.7 600.2,963.5 601.5,963.1 602.2,963.2 603.0,963.0 604.2,963.3 605.0,963.0 605.8,963.3 607.0,962.5 608.5,963.0 609.2,962.7 610.5,962.8 611.5,963.2 612.8,963.2 613.5,962.7 614.8,963.2 616.8,962.6 617.5,963.0 618.2,962.9 619.0,963.1 619.8,962.8 620.5,963.3 621.8,962.4 622.5,962.8 623.8,963.1 624.8,962.5 626.8,962.5 627.2,962.1 627.5,962.1 628.8,963.5 629.5,962.4 630.2,962.3 631.0,962.5 631.5,962.4 632.2,962.8 633.0,962.4 633.8,962.7 634.5,962.2 635.2,962.0 635.8,961.5 637.2,962.7 639.2,962.6 640.0,961.8 640.8,962.8 641.5,962.2 642.0,962.8 642.8,963.2 643.5,962.5 644.8,962.6 645.8,962.0 647.0,962.2 648.2,962.6 649.0,962.4 649.8,963.1 650.5,962.2 651.0,962.0 651.2,961.9 652.0,962.3 652.5,962.3 653.2,961.9 654.0,962.6 654.8,962.0 656.0,962.3 656.8,962.0 657.5,962.5 661.0,962.0 662.5,962.6 663.8,962.3 665.2,962.5 666.0,961.8 667.2,962.5 668.0,962.0 669.5,962.3 670.0,962.1 670.8,962.5 671.5,962.0 673.0,962.8 674.2,961.8 675.0,961.8 675.8,961.5 676.5,962.0 677.0,961.7 677.2,961.8 678.5,962.6 679.2,962.5 680.0,961.9 681.2,962.0 682.0,961.8 682.8,962.5 683.5,961.8 684.0,961.7 684.8,962.1 685.5,962.1 686.2,962.5 686.8,962.5 688.2,961.4 689.0,962.2 690.2,962.5 691.2,961.5 691.8,961.6 692.5,962.4 693.0,962.5 693.8,962.4 694.5,962.0 695.2,962.3 696.0,961.8 696.8,961.6 697.5,961.9 699.5,962.2 700.2,961.4 701.0,962.0 701.5,962.0 702.2,961.5 704.2,962.0 705.0,961.7 706.5,961.5 707.2,961.9 708.5,961.7 709.2,962.0 710.0,961.8 710.8,961.1 711.5,962.1 712.8,961.9 713.5,961.5 714.2,962.1 715.5,961.3 717.0,962.3 717.8,961.6 719.0,962.1 720.5,961.6 721.8,961.9 722.8,961.6 724.0,961.9 724.8,961.6 725.5,961.9 726.8,961.6 728.2,961.7 730.2,961.3 731.8,961.8 732.5,961.7 733.0,961.4 733.8,961.7 734.5,961.8 735.2,961.3 736.0,961.7 737.2,961.5 738.0,961.6 738.8,961.4 739.2,960.4 739.5,960.3 740.0,961.4 740.2,961.5 740.8,961.2 742.2,961.7 743.5,961.4 745.0,961.6 745.8,961.2 746.5,961.3 747.8,961.9 748.5,961.4 749.2,961.6 750.0,961.2 751.2,961.4 752.0,961.0 752.8,961.3 753.2,961.3 754.0,960.7 754.8,961.2 755.5,961.4 756.8,961.4 757.8,960.9 759.0,961.2 761.2,961.2 762.0,960.9 762.8,961.1 763.5,960.8 764.2,961.7 765.0,961.4 765.5,961.5 766.2,960.3 767.0,960.9 769.8,960.6 770.5,962.0 771.2,960.8 772.0,960.4 772.5,960.8 773.2,962.2 774.8,960.4 776.8,960.9 777.5,959.8 778.8,960.7 779.0,960.6 779.5,960.0 779.8,960.0 780.2,960.6 781.0,960.8 781.8,961.7 783.2,960.6 783.8,960.7 784.5,961.4 786.5,959.9 787.5,960.6 788.0,960.6 788.8,960.1 790.0,960.7 790.8,959.6 792.2,959.1 793.0,959.8 793.5,960.0 794.2,959.2 795.0,960.4 795.8,959.0 796.5,959.4 797.0,959.2 797.8,960.0 798.5,958.9 799.2,960.1 800.5,958.6 802.0,959.1 802.8,960.1 803.5,959.0 804.0,959.2 804.8,960.4 806.2,958.6 807.0,958.8 807.5,958.5 808.2,959.5 809.0,960.1 809.8,959.1 810.2,958.9 811.2,959.5 812.5,959.4 813.2,959.7 814.5,959.1 815.2,960.1 816.0,958.5 817.2,959.4 817.5,959.4 818.0,959.0 818.8,960.4 819.5,958.5 820.2,960.1 822.2,960.1 823.0,959.5 823.5,959.5 823.8,959.6 824.5,960.6 825.8,959.2 827.0,959.2 827.2,959.3 828.0,960.3 828.5,960.7 829.2,960.0 830.0,960.3 830.8,960.0 831.5,960.8 832.8,960.9 833.5,961.4 834.2,959.8 834.8,960.6 835.0,960.7 835.5,959.8 835.8,959.9 836.2,960.8 836.5,960.9 838.2,961.1 839.8,960.3 840.5,961.1 841.2,960.4 841.8,961.0 842.0,961.0 842.5,960.4 842.8,960.5 843.2,961.0 844.0,961.0 844.8,960.4 845.5,960.8 846.0,961.3 846.8,961.0 847.5,961.3 848.2,960.7 849.0,960.9 849.5,960.3 849.8,960.3 850.2,960.6 851.0,961.8 852.2,961.2 853.0,961.2 853.8,960.5 854.5,961.4 855.2,960.5 856.0,960.9 856.5,961.5 857.2,960.9 857.5,960.9 859.2,961.4 860.0,962.0 860.8,960.5 862.2,961.7 863.0,961.2 864.2,961.0 866.2,962.2 867.0,961.8 867.8,962.3 869.2,960.8 869.8,961.8 870.0,961.8 870.5,960.7 870.8,960.7 871.2,961.6 871.5,961.6 872.0,961.7 872.8,961.1 873.2,961.5 874.0,961.5 874.8,961.9 875.5,961.6 876.2,962.1 877.0,961.7 877.8,962.1 878.2,961.9 879.5,962.0 880.2,961.7 881.2,962.5 881.8,962.3 882.5,960.7 883.2,961.5 883.8,962.7 884.0,962.9 884.5,962.1 884.8,962.3 885.2,963.6 886.0,962.4 886.8,962.4 887.5,961.7 889.5,962.8 891.8,961.8 892.2,961.8 893.8,962.3 895.0,961.9 895.8,962.3 896.5,961.1 898.5,962.7 900.0,962.0 900.8,963.0 901.5,962.7 902.0,963.3 903.0,962.5 903.5,962.3 904.0,962.5 905.0,963.8 905.5,963.7 906.2,963.0 907.0,963.5 907.8,962.3 908.5,963.6 909.8,963.0 911.2,963.2 912.0,962.9 912.8,962.9 913.2,962.6 914.0,964.2 914.8,962.9 916.2,964.1 917.5,964.4 918.2,963.3 919.5,963.6 920.2,962.8 921.0,964.3 921.8,963.0 923.0,964.4 923.8,964.6 924.5,963.9 925.2,964.8 925.8,964.9 926.0,964.7 926.5,963.6 926.8,963.6 928.0,964.9 929.5,964.6 930.0,964.7 930.8,966.0 931.5,964.7 932.2,965.5 932.8,964.6 933.0,964.5 933.5,965.3 934.2,965.8 935.0,964.6 935.8,965.1 936.2,966.2 936.5,966.3 937.0,965.6 937.2,965.6 937.8,966.1 938.5,964.9 939.2,966.6 940.0,964.8 940.8,965.5 942.8,966.3 943.5,967.2 944.2,967.5 944.8,967.5 946.2,966.6 946.8,965.7 947.0,965.6 947.5,966.5 947.8,966.6 948.2,966.5 949.0,967.2 949.8,966.3 951.0,966.6 951.8,967.4 952.0,967.4 952.5,967.2 953.8,966.4 954.8,967.0 956.0,967.1 957.2,967.9 958.0,968.0 958.8,967.4 959.5,967.5 960.0,967.8 960.8,967.8 961.5,966.9 962.0,966.7 963.5,969.9 964.2,968.2 965.0,968.1 965.8,967.5 966.2,967.7 967.0,969.1 967.8,967.5 968.2,969.4 968.5,969.8 969.2,968.6 970.5,968.0 971.2,966.7 971.8,967.6 972.0,967.7 972.5,966.8 972.8,967.0 973.2,968.1 974.0,966.2 974.8,970.1 976.0,966.7 976.2,966.9 976.8,968.2 977.0,968.2 977.5,968.1 978.2,966.8 978.8,967.9 979.0,968.1 979.5,967.3 979.8,967.3 980.2,967.8 981.0,967.8 981.8,968.4 982.5,967.5 983.0,968.1 983.8,965.3 984.5,969.0 985.2,968.1 985.8,968.4 986.0,968.3 986.5,967.4 986.8,967.6 987.2,968.6 988.0,967.8 988.8,968.0 989.2,968.0 990.8,966.9 991.5,968.3 992.2,968.4 992.8,967.9 993.0,967.9 993.5,968.8 993.8,968.8 994.2,968.0 994.5,968.0 995.8,968.8 996.5,968.3 997.8,966.7 998.5,966.9 999.2,966.8 999.8,968.1 1000.0,967.8 1000.5,964.7 1000.8,965.3 1001.2,969.2 1002.0,966.7 1002.8,968.6 1003.5,967.9 1004.0,968.1 1004.8,966.4 1005.5,968.6 1006.2,967.5 1006.8,968.0 1007.0,967.9 1007.5,966.8 1007.8,966.7 1008.2,967.4 1009.0,966.8 1009.8,967.8 1010.2,968.0 1010.5,968.0 1011.0,967.3 1011.2,967.3 1011.8,967.8 1012.5,967.9 1013.2,967.3 1013.8,967.1 1014.5,965.7 1014.8,966.1 1015.2,968.2 1015.5,968.1 1016.0,967.5 1016.5,967.2 1016.8,967.1 1017.5,967.4 1018.2,966.8 1018.8,967.0 1019.5,967.8 1020.2,965.9 1021.0,967.0 1021.5,967.4 1022.2,965.8 1022.5,965.8 1023.0,966.2 1023.8,968.6 1024.2,969.2 1024.5,969.1 1025.0,967.8 1025.2,967.8 1025.8,968.6 1026.5,966.4 1027.2,970.0 1028.0,967.2 1029.2,967.6 1030.0,966.7 1030.8,966.7 1031.2,967.2 1031.5,967.2 1032.0,966.5 1032.2,966.5 1032.8,966.9 1033.5,965.1 1034.8,968.1 1035.5,969.1 1036.2,968.9 1037.0,967.7 1037.8,968.7 1038.5,968.0 1039.0,968.1 1039.8,970.2 1040.5,969.3 1041.2,969.6 1042.5,971.2 1044.0,970.7 1044.8,972.0 1045.5,971.4 1046.0,971.4 1046.8,970.0 1048.0,972.1 1048.2,972.4 1048.8,971.9 1049.0,972.2 1049.5,974.4 1049.8,975.0 1050.2,975.5 1051.0,975.2 1051.8,972.9 1052.5,974.4 1053.8,974.6 1054.5,972.9 1055.2,975.6 1056.0,976.3 1056.5,975.8 1057.2,977.1 1058.0,975.1 1059.2,977.0 1059.5,977.0 1060.0,975.6 1060.2,975.7 1060.8,976.6 1061.5,976.9 1062.2,979.4 1062.8,978.7 1063.0,978.9 1063.5,980.8 1063.8,981.3 1064.2,981.7 1065.0,984.4 1065.8,984.5 1067.0,987.9 1067.8,988.9 1072.8,1002.2 1073.8,1004.0 1074.5,1004.6 1075.0,1004.5 1075.5,1004.2 1076.8,1002.3 1079.8,994.8 1082.5,981.0 1083.2,978.2 1084.8,976.0 1086.5,974.4 1087.2,974.1 1088.0,974.0 1090.8,974.5 1093.2,975.7 1094.8,976.8 1095.0,977.2 1096.0,980.9 1097.8,989.9 1099.0,997.6 1099.5,999.1 1099.8,998.9 1100.2,996.6 1101.5,986.8 1103.0,981.8 1104.0,979.9 1104.5,979.6 1105.2,980.3 1107.8,986.4 1108.2,987.1 1108.8,987.3 1109.5,986.4 1111.2,982.5 1112.0,981.7 1112.8,982.2 1114.2,984.7 1114.8,985.2 1115.0,985.2 1115.8,982.8 1117.0,975.8 1117.5,974.2 1117.8,974.0 1121.8,973.5 1125.8,973.5 1126.5,973.8 1127.5,974.6 1130.0,977.5 1131.2,980.4 1134.2,989.1 1135.0,990.7 1135.8,991.8 1136.5,992.1 1137.5,991.9 1141.2,989.7 1142.8,989.3 1143.2,989.5 1144.0,990.5 1145.2,993.1 1146.5,996.5 1147.2,999.2 1149.2,1009.8 1150.5,1017.9 1152.2,1036.0 1153.0,1040.0 1153.2,1040.1 1153.5,1039.8 1154.2,1037.9 1159.5,1019.3 1160.5,1017.0 1162.8,1013.6 1163.8,1011.7 1166.8,1001.3 1167.5,999.4 1168.0,998.6 1168.5,998.4 1168.8,998.7 1169.2,999.9 1171.2,1009.8 1173.2,1029.1 1173.8,1032.0 1174.0,1032.4 1174.5,1031.8 1175.0,1030.1 1177.0,1019.5 1179.8,1008.8 1181.0,1005.7 1181.5,1005.3 1181.8,1005.4 1182.0,1005.8 1183.0,1010.3 1184.5,1021.5 1186.2,1044.8 1186.5,1045.6 1187.0,1045.5 1189.2,1043.7 1190.0,1043.5 1190.5,1044.8 1191.2,1050.4 1193.2,1071.0 1194.2,1076.8 1196.8,1088.2 1197.8,1093.8 1201.2,1121.0 1204.5,1140.7 1205.8,1151.4 1208.0,1181.5 1210.0,1201.3 1211.0,1207.8 1211.5,1209.0 1211.8,1208.8 1212.0,1207.7 1214.8,1179.3 1215.2,1175.3 1215.8,1173.5 1216.2,1174.0 1217.0,1176.4 1219.8,1190.7 1220.2,1192.0 1220.5,1192.3 1220.8,1192.2 1221.2,1191.3 1221.8,1189.4 1224.0,1176.1 1225.0,1172.0 1225.5,1171.4 1226.0,1171.9 1228.2,1178.8 1228.8,1179.7 1229.2,1179.7 1229.8,1178.8 1230.5,1176.4 1233.2,1163.5 1234.0,1161.4 1234.5,1161.0 1234.8,1161.2 1235.2,1162.5 1236.0,1166.5 1238.0,1182.5 1238.8,1191.4 1240.5,1218.7 1241.0,1223.7 1241.5,1225.6 1241.8,1224.9 1242.2,1219.8 1243.0,1205.6 1245.2,1153.7 1247.5,1096.0 1250.0,1052.4 1250.8,1044.4 1251.8,1040.6 1252.5,1038.5 1253.2,1037.4 1253.8,1037.3 1254.0,1037.6 1254.5,1038.6 1255.2,1041.3 1257.2,1052.1 1258.8,1066.1 1263.2,1119.3 1265.2,1137.5 1265.8,1139.7 1266.0,1140.0 1266.2,1139.8 1266.8,1138.5 1267.5,1134.5 1270.2,1114.0 1273.5,1099.0 1274.8,1091.0 1276.0,1077.5 1280.2,1020.6 1281.2,1010.5 1282.8,1002.0 1284.0,996.8 1285.0,993.9 1286.5,991.6 1288.0,990.1 1289.2,989.4 1289.8,989.3 1290.2,989.5 1291.0,990.5 1292.0,992.9 1293.2,997.2 1294.5,1007.3 1294.8,1007.3 1295.0,1006.9 1296.2,1003.1 1296.8,1002.5 1298.0,1002.7 1299.2,1003.3 1300.2,1003.9 1300.8,1004.8 1301.8,1008.2 1303.8,1018.0 1305.5,1030.6 1306.2,1033.7 1306.5,1033.8 1306.8,1033.5 1307.5,1031.6 1309.5,1022.2 1313.2,1006.7 1314.0,1004.7 1314.5,1004.0 1315.0,1003.9 1315.8,1004.7 1317.0,1007.8 1319.2,1016.0 1322.2,1033.8 1323.0,1036.9 1325.0,1043.2 1326.0,1047.5 1326.8,1053.5 1328.8,1073.8 1329.2,1077.0 1330.2,1080.4 1331.0,1082.1 1331.5,1082.5 1331.8,1082.4 1332.2,1081.5 1334.0,1076.5 1336.2,1074.5 1337.2,1074.1 1338.0,1074.2 1339.0,1075.9 1340.8,1080.7 1343.8,1088.1 1344.5,1089.4 1345.2,1090.1 1345.8,1090.0 1346.5,1089.3 1348.0,1086.2 1349.8,1080.9 1350.8,1075.8 1353.2,1055.7 1355.2,1029.3 1356.8,1014.7 1358.0,1005.7 1358.5,1004.1 1359.0,1003.5 1360.8,1002.1 1361.5,1001.8 1362.2,1001.9 1362.8,1002.2 1363.5,1003.4 1366.0,1009.1 1367.0,1010.6 1367.5,1010.9 1368.2,1010.9 1369.5,1010.5 1370.8,1009.9 1371.5,1010.0 1372.0,1009.5 1372.8,1007.7 1373.5,1007.4 1374.2,1006.5 1375.0,1006.7 1376.2,1005.9 1377.0,1003.1 1379.0,1000.8 1379.8,999.5 1380.5,1001.0 1381.8,998.1 1382.5,995.7 1382.8,995.9 1383.2,997.5 1383.5,997.3 1384.8,995.2 1385.2,995.0 1385.5,994.7 1386.0,993.3 1386.2,993.0 1386.8,993.2 1387.5,991.4 1388.2,991.3 1389.8,988.4 1390.2,988.1 1391.0,989.3 1391.8,988.8 1392.5,987.8 1393.0,987.5 1393.8,987.6 1394.5,988.3 1395.2,987.2 1395.8,988.6 1396.0,988.8 1396.5,987.9 1397.2,987.6 1398.0,988.7 1398.8,990.3 1399.5,988.7 1400.0,989.1 1400.8,989.2 1401.8,991.1 1402.2,992.6 1403.5,999.8 1404.4,1029.0" stroke="#39669c"/></g>
<g stroke="#595959" fill="none"><line x1="452" y1="117.5" x2="452" y2="497.3" stroke-width="2.7" stroke-dasharray="11.9 9.7"/><line x1="504.6" y1="44" x2="504.6" y2="488.2" stroke-width="2.7" stroke-dasharray="11.9 9.7"/><line x1="931.7" y1="141.5" x2="931.7" y2="490.8" stroke-width="2.7" stroke-dasharray="11.9 9.7"/><line x1="1146.1" y1="424.4" x2="1144.1" y2="671.5" stroke-width="2.7" stroke-dasharray="11.9 9.7"/><line x1="1256" y1="318.6" x2="1256" y2="524.5" stroke-width="2.7" stroke-dasharray="11.9 9.7"/><line x1="488.8" y1="1001.7" x2="490.6" y2="1285" stroke="#6a6a6a" stroke-width="2.3" stroke-dasharray="7.5 6.9" stroke-dashoffset="-2"/><line x1="550.8" y1="993.3" x2="552.4" y2="1276.6" stroke="#6a6a6a" stroke-width="2.3" stroke-dasharray="7.5 6.9" stroke-dashoffset="-2"/><line x1="1154.6" y1="1037.3" x2="1157.7" y2="1318.8" stroke="#6a6a6a" stroke-width="2.3" stroke-dasharray="7.5 6.9" stroke-dashoffset="-2"/><line x1="1238.9" y1="1192.3" x2="1242.7" y2="1574.4" stroke="#6a6a6a" stroke-width="2.3" stroke-dasharray="7.5 6.9" stroke-dashoffset="-2"/><line x1="1347.2" y1="1063.7" x2="1349.8" y2="1353.2" stroke="#6a6a6a" stroke-width="2.3" stroke-dasharray="7.5 6.9" stroke-dashoffset="-2"/></g>
<polyline points="1147.3,1561.9 1216.3,1560 1246.9,1532.5" fill="none" stroke="#8e8e8e" stroke-width="2.6"/>
<text x="111.8" y="735.9" font-size="29" fill="#000" text-anchor="start" font-family="'DejaVu Serif Condensed','DejaVu Serif','Liberation Serif',serif" font-weight="bold" textLength="76.9" lengthAdjust="spacingAndGlyphs">3800</text><text x="256.5" y="735.9" font-size="29" fill="#000" text-anchor="start" font-family="'DejaVu Serif Condensed','DejaVu Serif','Liberation Serif',serif" font-weight="bold" textLength="76.9" lengthAdjust="spacingAndGlyphs">3400</text><text x="401.3" y="735.9" font-size="29" fill="#000" text-anchor="start" font-family="'DejaVu Serif Condensed','DejaVu Serif','Liberation Serif',serif" font-weight="bold" textLength="76.9" lengthAdjust="spacingAndGlyphs">3000</text><text x="546.1" y="735.9" font-size="29" fill="#000" text-anchor="start" font-family="'DejaVu Serif Condensed','DejaVu Serif','Liberation Serif',serif" font-weight="bold" textLength="76.9" lengthAdjust="spacingAndGlyphs">2600</text><text x="690.9" y="735.9" font-size="29" fill="#000" text-anchor="start" font-family="'DejaVu Serif Condensed','DejaVu Serif','Liberation Serif',serif" font-weight="bold" textLength="76.9" lengthAdjust="spacingAndGlyphs">2200</text><text x="835.8" y="735.9" font-size="29" fill="#000" text-anchor="start" font-family="'DejaVu Serif Condensed','DejaVu Serif','Liberation Serif',serif" font-weight="bold" textLength="76.9" lengthAdjust="spacingAndGlyphs">1800</text><text x="980.5" y="735.9" font-size="29" fill="#000" text-anchor="start" font-family="'DejaVu Serif Condensed','DejaVu Serif','Liberation Serif',serif" font-weight="bold" textLength="76.9" lengthAdjust="spacingAndGlyphs">1400</text><text x="1125.4" y="735.9" font-size="29" fill="#000" text-anchor="start" font-family="'DejaVu Serif Condensed','DejaVu Serif','Liberation Serif',serif" font-weight="bold" textLength="76.9" lengthAdjust="spacingAndGlyphs">1000</text><text x="1280.8" y="735.9" font-size="29" fill="#000" text-anchor="start" font-family="'DejaVu Serif Condensed','DejaVu Serif','Liberation Serif',serif" font-weight="bold" textLength="55.7" lengthAdjust="spacingAndGlyphs">600</text><text x="209.9" y="1637.5" font-size="30" fill="#000" text-anchor="start" font-family="'DejaVu Serif Condensed','DejaVu Serif','Liberation Serif',serif" font-weight="bold" textLength="77.2" lengthAdjust="spacingAndGlyphs">3600</text><text x="402.3" y="1637.5" font-size="30" fill="#000" text-anchor="start" font-family="'DejaVu Serif Condensed','DejaVu Serif','Liberation Serif',serif" font-weight="bold" textLength="77.2" lengthAdjust="spacingAndGlyphs">3100</text><text x="594.8" y="1637.5" font-size="30" fill="#000" text-anchor="start" font-family="'DejaVu Serif Condensed','DejaVu Serif','Liberation Serif',serif" font-weight="bold" textLength="77.2" lengthAdjust="spacingAndGlyphs">2600</text><text x="787.2" y="1637.5" font-size="30" fill="#000" text-anchor="start" font-family="'DejaVu Serif Condensed','DejaVu Serif','Liberation Serif',serif" font-weight="bold" textLength="77.2" lengthAdjust="spacingAndGlyphs">2100</text><text x="979.7" y="1637.5" font-size="30" fill="#000" text-anchor="start" font-family="'DejaVu Serif Condensed','DejaVu Serif','Liberation Serif',serif" font-weight="bold" textLength="77.2" lengthAdjust="spacingAndGlyphs">1600</text><text x="1172.2" y="1637.5" font-size="30" fill="#000" text-anchor="start" font-family="'DejaVu Serif Condensed','DejaVu Serif','Liberation Serif',serif" font-weight="bold" textLength="77.2" lengthAdjust="spacingAndGlyphs">1100</text><text x="1374.4" y="1637.5" font-size="30" fill="#000" text-anchor="start" font-family="'DejaVu Serif Condensed','DejaVu Serif','Liberation Serif',serif" font-weight="bold" textLength="57.6" lengthAdjust="spacingAndGlyphs">600</text><text x="393.5" y="541.7" font-size="29.5" fill="#000" text-anchor="start" font-family="'DejaVu Serif Condensed','DejaVu Serif','Liberation Serif',serif" font-weight="bold" textLength="75.3" lengthAdjust="spacingAndGlyphs">2974</text><text x="489.4" y="541" font-size="29.5" fill="#000" text-anchor="start" font-family="'DejaVu Serif Condensed','DejaVu Serif','Liberation Serif',serif" font-weight="bold" textLength="74.5" lengthAdjust="spacingAndGlyphs">2829</text><text x="899.8" y="527" font-size="29.5" fill="#000" text-anchor="start" font-family="'DejaVu Serif Condensed','DejaVu Serif','Liberation Serif',serif" font-weight="bold" textLength="73.1" lengthAdjust="spacingAndGlyphs">1643</text><text x="1046.6" y="649" font-size="29.5" fill="#000" text-anchor="start" font-family="'DejaVu Serif Condensed','DejaVu Serif','Liberation Serif',serif" font-weight="bold" textLength="73.1" lengthAdjust="spacingAndGlyphs">1053</text><text x="1225.6" y="565.4" font-size="29.5" fill="#000" text-anchor="start" font-family="'DejaVu Serif Condensed','DejaVu Serif','Liberation Serif',serif" font-weight="bold" textLength="56.6" lengthAdjust="spacingAndGlyphs">750</text><text x="430.4" y="1338.4" font-size="29.5" fill="#000" text-anchor="start" font-family="'DejaVu Serif Condensed','DejaVu Serif','Liberation Serif',serif" font-weight="bold" textLength="75.4" lengthAdjust="spacingAndGlyphs">2976</text><text x="542.4" y="1338.1" font-size="29.5" fill="#000" text-anchor="start" font-family="'DejaVu Serif Condensed','DejaVu Serif','Liberation Serif',serif" font-weight="bold" textLength="75.0" lengthAdjust="spacingAndGlyphs">2818</text><text x="1109.6" y="1368.1" font-size="29.5" fill="#000" text-anchor="start" font-family="'DejaVu Serif Condensed','DejaVu Serif','Liberation Serif',serif" font-weight="bold" textLength="73.3" lengthAdjust="spacingAndGlyphs">1250</text><text x="1327.7" y="1389" font-size="29.5" fill="#000" text-anchor="start" font-family="'DejaVu Serif Condensed','DejaVu Serif','Liberation Serif',serif" font-weight="bold" textLength="56.9" lengthAdjust="spacingAndGlyphs">748</text><text x="1136.6" y="1550" font-size="29.5" fill="#000" text-anchor="start" font-family="'DejaVu Serif Condensed','DejaVu Serif','Liberation Serif',serif" font-weight="bold" textLength="73.7" lengthAdjust="spacingAndGlyphs">1040</text><text x="520" y="791.8" font-size="30" fill="#000" text-anchor="start" font-family="'DejaVu Serif Condensed','DejaVu Serif','Liberation Serif',serif" font-weight="bold" textLength="247.8" lengthAdjust="spacingAndGlyphs">Wavelength, cm</text><text x="770" y="778.9" font-size="20" fill="#000" text-anchor="start" font-family="'DejaVu Serif Condensed','DejaVu Serif','Liberation Serif',serif" font-weight="bold" textLength="30" lengthAdjust="spacingAndGlyphs">−1</text><text x="567.6" y="1697.6" font-size="31.3" fill="#000" text-anchor="start" font-family="'DejaVu Serif Condensed','DejaVu Serif','Liberation Serif',serif" font-weight="bold" textLength="251.3" lengthAdjust="spacingAndGlyphs">Wavelength, cm</text><text x="820.2" y="1685" font-size="21" fill="#000" text-anchor="start" font-family="'DejaVu Serif Condensed','DejaVu Serif','Liberation Serif',serif" font-weight="bold" textLength="31" lengthAdjust="spacingAndGlyphs">−1</text><g transform="translate(42.8,519) rotate(-90)"><text x="0" y="0" font-size="31.5" fill="#000" text-anchor="start" font-family="'DejaVu Serif Condensed','DejaVu Serif','Liberation Serif',serif" font-weight="bold" textLength="278.5" lengthAdjust="spacingAndGlyphs">Transmittance, %</text></g><g transform="translate(56.5,1459) rotate(-90)"><text x="0" y="0" font-size="31.5" fill="#000" text-anchor="start" font-family="'DejaVu Serif Condensed','DejaVu Serif','Liberation Serif',serif" font-weight="bold" textLength="280.2" lengthAdjust="spacingAndGlyphs">Transmittance, %</text></g><text x="147" y="121.2" font-size="30" fill="#0070c0" text-anchor="start" font-family="'Liberation Sans',Arial,sans-serif" font-weight="bold" textLength="103" lengthAdjust="spacingAndGlyphs">SAPTES</text><text x="130" y="255.5" font-size="29.6" fill="#c00000" text-anchor="start" font-family="'Liberation Sans',Arial,sans-serif" font-weight="bold" textLength="119.5" lengthAdjust="spacingAndGlyphs">MCM-48</text><text x="141" y="405.6" font-size="29.3" fill="#668830" text-anchor="start" font-family="'Liberation Sans',Arial,sans-serif" font-weight="bold" textLength="239.5" lengthAdjust="spacingAndGlyphs">MCM-48/SAPTES</text><text x="165" y="1004.5" font-size="25" fill="#39669c" text-anchor="start" font-family="'Liberation Sans',Arial,sans-serif" font-weight="bold" textLength="90" lengthAdjust="spacingAndGlyphs">PAPTES</text><text x="160" y="1053.8" font-size="25.2" fill="#c00000" text-anchor="start" font-family="'Liberation Sans',Arial,sans-serif" font-weight="bold" textLength="104.5" lengthAdjust="spacingAndGlyphs">MCM-48</text><text x="139.5" y="1132" font-size="24.8" fill="#4f6228" text-anchor="start" font-family="'Liberation Sans',Arial,sans-serif" font-weight="bold" textLength="209.3" lengthAdjust="spacingAndGlyphs">MCM-48/PAPTES</text>
</svg>
</body></html>
